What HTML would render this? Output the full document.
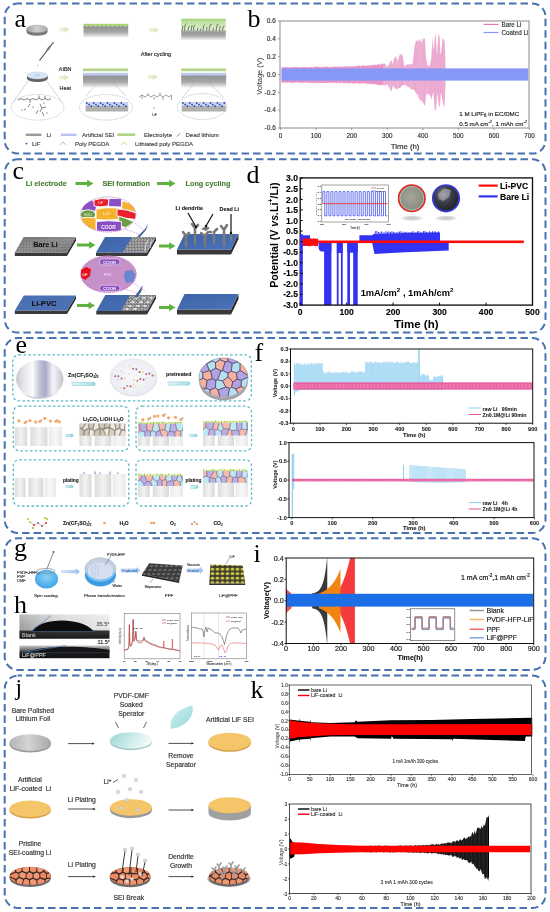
<!DOCTYPE html>
<html><head><meta charset="utf-8"><style>
html,body{margin:0;padding:0;background:#fff;}
svg{display:block;filter:blur(0.3px);}
</style></head><body>
<svg width="550" height="912" viewBox="0 0 550 912">
<rect x="0" y="0" width="550" height="912" fill="#fff"/>
<rect x="4.7" y="3.6" width="540.80" height="150.00" rx="13" ry="13" fill="none" stroke="#4873b0" stroke-width="2" stroke-dasharray="7.5 4" stroke-dashoffset="3.2"/>
<rect x="4.7" y="159.3" width="540.80" height="173.30" rx="13" ry="13" fill="none" stroke="#4873b0" stroke-width="2" stroke-dasharray="7.5 4" stroke-dashoffset="3.2"/>
<rect x="4.7" y="338" width="540.80" height="195.00" rx="13" ry="13" fill="none" stroke="#4873b0" stroke-width="2" stroke-dasharray="7.5 4" stroke-dashoffset="3.2"/>
<rect x="4.7" y="538.2" width="540.80" height="131.70" rx="13" ry="13" fill="none" stroke="#4873b0" stroke-width="2" stroke-dasharray="7.5 4" stroke-dashoffset="3.2"/>
<rect x="4.7" y="675.6" width="540.80" height="232.40" rx="13" ry="13" fill="none" stroke="#4873b0" stroke-width="2" stroke-dasharray="7.5 4" stroke-dashoffset="3.2"/>
<text x="14.50" y="26.50" font-size="26" fill="#000"  text-anchor="start" font-weight="normal" font-family="Liberation Serif, serif" >a</text>
<text x="247.50" y="26.70" font-size="26" fill="#000"  text-anchor="start" font-weight="normal" font-family="Liberation Serif, serif" >b</text>
<text x="12.50" y="179.20" font-size="26" fill="#000"  text-anchor="start" font-weight="normal" font-family="Liberation Serif, serif" >c</text>
<text x="246.50" y="183.30" font-size="26" fill="#000"  text-anchor="start" font-weight="normal" font-family="Liberation Serif, serif" >d</text>
<text x="15.50" y="352.70" font-size="26" fill="#000"  text-anchor="start" font-weight="normal" font-family="Liberation Serif, serif" >e</text>
<text x="254.50" y="361.00" font-size="26" fill="#000"  text-anchor="start" font-weight="normal" font-family="Liberation Serif, serif" >f</text>
<text x="14.00" y="555.50" font-size="26" fill="#000"  text-anchor="start" font-weight="normal" font-family="Liberation Serif, serif" >g</text>
<text x="14.00" y="612.70" font-size="26" fill="#000"  text-anchor="start" font-weight="normal" font-family="Liberation Serif, serif" >h</text>
<text x="253.50" y="561.50" font-size="26" fill="#000"  text-anchor="start" font-weight="normal" font-family="Liberation Serif, serif" >i</text>
<text x="15.50" y="695.00" font-size="23.5" fill="#000"  text-anchor="start" font-weight="normal" font-family="Liberation Serif, serif" >j</text>
<text x="250.50" y="697.50" font-size="26" fill="#000"  text-anchor="start" font-weight="normal" font-family="Liberation Serif, serif" >k</text>
<polygon points="281.57,67.22 281.99,67.05 282.42,67.50 282.85,66.97 283.27,67.39 283.70,67.23 284.13,66.94 284.55,67.35 284.98,66.91 285.41,67.27 285.84,66.93 286.26,66.94 286.69,67.24 287.12,67.61 287.54,66.96 287.97,67.04 288.40,67.41 288.82,67.70 289.25,67.35 289.68,67.18 290.10,67.71 290.53,66.85 290.96,67.59 291.38,67.06 291.81,66.92 292.24,66.89 292.66,67.06 293.09,67.53 293.52,66.93 293.95,67.30 294.37,67.35 294.80,67.10 295.23,67.25 295.65,66.80 296.08,66.79 296.51,66.92 296.93,67.36 297.36,67.12 297.79,67.00 298.21,67.25 298.64,67.12 299.07,66.98 299.49,67.43 299.92,67.34 300.35,66.91 300.77,67.21 301.20,67.16 301.63,67.48 302.06,67.34 302.48,66.92 302.91,67.57 303.34,66.75 303.76,67.03 304.19,67.34 304.62,66.77 305.04,67.08 305.47,66.65 305.90,67.24 306.32,67.33 306.75,67.14 307.18,67.42 307.60,66.88 308.03,67.24 308.46,67.14 308.88,67.12 309.31,67.00 309.74,67.36 310.17,67.45 310.59,67.00 311.02,67.17 311.45,66.59 311.87,67.20 312.30,67.14 312.73,67.47 313.15,67.30 313.58,66.78 314.01,66.87 314.43,67.14 314.86,66.51 315.29,66.93 315.71,66.64 316.14,66.59 316.57,66.53 316.99,67.21 317.42,66.59 317.85,66.71 318.28,66.84 318.70,67.31 319.13,66.54 319.56,66.89 319.98,66.99 320.41,67.31 320.84,67.25 321.26,67.29 321.69,66.72 322.12,66.85 322.54,66.80 322.97,67.30 323.40,67.37 323.82,66.59 324.25,66.61 324.68,66.67 325.10,66.67 325.53,66.91 325.96,67.01 326.39,66.69 326.81,66.44 327.24,66.84 327.67,66.79 328.09,66.98 328.52,67.35 328.95,67.10 329.37,66.92 329.80,67.02 330.23,67.08 330.65,66.47 331.08,67.29 331.51,67.17 331.93,67.26 332.36,67.19 332.79,66.79 333.21,66.80 333.64,66.51 334.07,67.02 334.50,66.47 334.92,66.47 335.35,66.61 335.78,66.56 336.20,66.73 336.63,66.45 337.06,66.40 337.48,66.54 337.91,66.49 338.34,66.75 338.76,66.41 339.19,67.24 339.62,66.98 340.04,66.52 340.47,66.60 340.90,66.67 341.32,66.66 341.75,66.40 342.18,67.09 342.61,67.22 343.03,66.67 343.46,66.66 343.89,66.24 344.31,66.24 344.74,66.45 345.17,66.35 345.59,66.90 346.02,66.20 346.45,66.03 346.87,66.96 347.30,66.50 347.73,66.09 348.15,66.47 348.58,65.92 349.01,66.41 349.43,66.86 349.86,66.71 350.29,66.52 350.72,66.04 351.14,66.13 351.57,65.89 352.00,66.51 352.42,66.23 352.85,66.47 353.28,65.97 353.70,65.83 354.13,66.44 354.56,66.60 354.98,66.44 355.41,66.37 355.84,66.36 356.26,66.25 356.69,65.67 357.12,65.96 357.54,65.76 357.97,65.38 358.40,65.35 358.83,65.61 359.25,65.56 359.68,66.02 360.11,66.29 360.53,65.70 360.96,66.23 361.39,66.26 361.81,66.20 362.24,65.51 362.67,65.33 363.09,65.31 363.52,65.25 363.95,65.24 364.37,65.69 364.80,65.99 365.23,65.90 365.65,65.46 366.08,65.64 366.51,65.78 366.94,64.93 367.36,65.58 367.79,65.85 368.22,65.67 368.64,65.62 369.07,65.27 369.50,64.89 369.92,65.57 370.35,64.99 370.78,65.51 371.20,65.67 371.63,64.94 372.06,64.91 372.48,65.53 372.91,65.22 373.34,64.50 373.76,64.40 374.19,64.39 374.62,65.28 375.05,65.12 375.47,64.25 375.90,65.07 376.33,65.22 376.75,64.77 377.18,64.34 377.61,64.55 378.03,63.98 378.46,63.78 378.89,64.98 379.31,64.52 379.74,64.32 380.17,64.81 380.59,64.12 381.02,64.65 381.45,64.55 381.87,63.70 382.30,63.71 382.73,63.72 383.16,63.61 383.58,64.03 384.01,63.55 384.44,63.72 384.86,63.29 385.29,64.67 385.72,64.65 386.14,65.48 386.57,66.23 387.00,66.72 387.42,66.36 387.85,67.02 388.28,65.87 388.70,65.00 389.13,64.09 389.56,62.58 389.98,62.51 390.41,61.42 390.84,60.42 391.26,61.12 391.69,60.31 392.12,62.09 392.55,63.71 392.97,64.18 393.40,61.82 393.83,60.12 394.25,58.19 394.68,58.15 395.11,56.43 395.53,57.19 395.96,56.24 396.39,56.94 396.81,59.03 397.24,59.53 397.67,60.68 398.09,60.68 398.52,59.29 398.95,56.56 399.37,55.46 399.80,54.97 400.23,54.76 400.66,55.00 401.08,54.16 401.51,54.14 401.94,53.77 402.36,55.64 402.79,56.59 403.22,58.54 403.64,63.52 404.07,65.98 404.50,66.12 404.92,66.38 405.35,66.10 405.78,65.13 406.20,64.94 406.63,65.14 407.06,64.52 407.48,64.55 407.91,64.16 408.34,64.74 408.77,64.77 409.19,64.86 409.62,63.82 410.05,64.49 410.47,64.35 410.90,63.60 411.33,64.52 411.75,64.57 412.18,63.49 412.61,64.42 413.03,61.44 413.46,57.26 413.89,54.31 414.31,50.06 414.74,45.51 415.17,44.19 415.59,42.25 416.02,41.07 416.45,40.38 416.88,40.81 417.30,42.43 417.73,39.38 418.16,41.55 418.58,40.98 419.01,39.10 419.44,40.35 419.86,41.52 420.29,40.92 420.72,38.86 421.14,42.71 421.57,41.74 422.00,42.42 422.42,38.51 422.85,39.08 423.28,37.91 423.70,41.01 424.13,38.58 424.56,37.78 424.99,40.19 425.41,49.30 425.84,56.06 426.27,58.60 426.69,60.49 427.12,63.71 427.55,65.20 427.97,66.33 428.40,65.68 428.83,65.64 429.25,66.32 429.68,66.04 430.11,64.33 430.53,63.03 430.96,60.08 431.39,57.41 431.81,49.43 432.24,46.02 432.67,36.64 433.10,44.39 433.52,49.15 433.95,50.61 434.38,43.92 434.80,38.41 435.23,34.51 435.66,34.53 436.08,39.70 436.51,47.07 436.94,55.43 437.36,51.33 437.79,44.10 438.22,37.87 438.64,34.85 439.07,34.47 439.50,36.41 439.92,43.34 440.35,53.21 440.78,55.30 441.21,52.28 441.63,47.81 442.06,44.06 442.49,38.54 442.91,39.69 443.34,39.19 443.77,37.90 444.19,40.53 444.62,43.78 445.05,49.76 445.47,67.83 445.47,81.35 445.05,96.89 444.62,103.75 444.19,106.23 443.77,106.53 443.34,105.92 442.91,101.87 442.49,101.18 442.06,96.97 441.63,94.90 441.21,92.62 440.78,93.50 440.35,99.79 439.92,107.10 439.50,106.76 439.07,105.67 438.64,101.92 438.22,100.78 437.79,96.53 437.36,92.15 436.94,96.95 436.51,103.25 436.08,107.67 435.66,110.12 435.23,111.08 434.80,110.51 434.38,103.95 433.95,99.04 433.52,92.35 433.10,93.50 432.67,93.75 432.24,95.61 431.81,98.83 431.39,99.64 430.96,96.26 430.53,96.96 430.11,95.60 429.68,95.79 429.25,94.61 428.83,94.18 428.40,93.91 427.97,94.44 427.55,93.50 427.12,94.50 426.69,93.67 426.27,94.52 425.84,97.34 425.41,102.09 424.99,105.89 424.56,105.06 424.13,104.89 423.70,103.14 423.28,102.92 422.85,101.69 422.42,101.60 422.00,100.98 421.57,100.00 421.14,101.24 420.72,101.01 420.29,98.43 419.86,100.65 419.44,98.11 419.01,97.66 418.58,98.70 418.16,95.70 417.73,94.86 417.30,94.88 416.88,93.90 416.45,93.01 416.02,93.91 415.59,92.29 415.17,91.61 414.74,90.41 414.31,90.21 413.89,89.90 413.46,90.12 413.03,89.23 412.61,89.37 412.18,89.08 411.75,89.67 411.33,89.75 410.90,89.27 410.47,88.58 410.05,88.73 409.62,87.20 409.19,87.39 408.77,87.01 408.34,86.75 407.91,86.44 407.48,86.50 407.06,86.99 406.63,85.57 406.20,85.41 405.78,85.53 405.35,85.25 404.92,84.84 404.50,85.39 404.07,84.28 403.64,84.66 403.22,85.22 402.79,85.42 402.36,85.21 401.94,86.40 401.51,86.03 401.08,86.08 400.66,87.27 400.23,87.89 399.80,88.01 399.37,87.77 398.95,87.74 398.52,88.12 398.09,88.19 397.67,89.32 397.24,89.32 396.81,89.25 396.39,88.47 395.96,89.20 395.53,88.24 395.11,88.71 394.68,88.12 394.25,87.28 393.83,86.18 393.40,85.68 392.97,85.23 392.55,87.19 392.12,88.59 391.69,90.46 391.26,91.00 390.84,91.03 390.41,88.83 389.98,89.47 389.56,87.41 389.13,86.85 388.70,87.67 388.28,86.30 387.85,85.11 387.42,84.27 387.00,84.71 386.57,85.11 386.14,85.37 385.72,84.54 385.29,85.71 384.86,85.26 384.44,85.82 384.01,85.25 383.58,84.62 383.16,85.69 382.73,84.71 382.30,85.09 381.87,84.53 381.45,84.74 381.02,85.32 380.59,84.39 380.17,84.89 379.74,85.45 379.31,85.43 378.89,84.74 378.46,84.75 378.03,84.90 377.61,85.06 377.18,84.75 376.75,84.74 376.33,84.03 375.90,85.04 375.47,84.05 375.05,83.90 374.62,84.75 374.19,83.70 373.76,83.92 373.34,83.65 372.91,84.35 372.48,84.20 372.06,84.13 371.63,83.35 371.20,83.80 370.78,84.03 370.35,83.90 369.92,84.04 369.50,84.26 369.07,84.18 368.64,83.30 368.22,83.94 367.79,83.16 367.36,83.95 366.94,83.92 366.51,83.62 366.08,83.99 365.65,83.76 365.23,83.07 364.80,83.14 364.37,83.22 363.95,83.41 363.52,83.07 363.09,83.03 362.67,83.47 362.24,83.26 361.81,84.02 361.39,83.23 360.96,83.54 360.53,83.18 360.11,83.29 359.68,83.69 359.25,83.95 358.83,82.93 358.40,83.83 357.97,83.43 357.54,83.56 357.12,83.60 356.69,83.09 356.26,82.81 355.84,83.60 355.41,83.15 354.98,83.53 354.56,83.23 354.13,83.40 353.70,83.65 353.28,83.64 352.85,83.58 352.42,82.78 352.00,83.23 351.57,83.52 351.14,82.75 350.72,82.64 350.29,83.23 349.86,83.56 349.43,83.49 349.01,83.59 348.58,83.30 348.15,83.57 347.73,83.39 347.30,83.36 346.87,83.00 346.45,82.64 346.02,82.78 345.59,83.14 345.17,83.13 344.74,82.99 344.31,83.14 343.89,83.17 343.46,83.46 343.03,83.21 342.61,82.45 342.18,83.35 341.75,82.93 341.32,82.78 340.90,82.52 340.47,83.20 340.04,83.13 339.62,83.15 339.19,82.99 338.76,82.94 338.34,82.40 337.91,82.51 337.48,82.48 337.06,83.39 336.63,83.38 336.20,82.66 335.78,82.46 335.35,82.91 334.92,82.79 334.50,83.42 334.07,83.00 333.64,82.43 333.21,82.53 332.79,82.50 332.36,82.38 331.93,83.15 331.51,83.30 331.08,83.25 330.65,82.86 330.23,82.69 329.80,82.41 329.37,82.64 328.95,82.72 328.52,82.60 328.09,82.93 327.67,82.83 327.24,83.37 326.81,82.58 326.39,83.17 325.96,82.43 325.53,82.73 325.10,83.09 324.68,83.28 324.25,83.15 323.82,82.74 323.40,82.67 322.97,83.30 322.54,83.34 322.12,82.86 321.69,82.79 321.26,83.00 320.84,83.18 320.41,82.77 319.98,83.41 319.56,83.09 319.13,82.92 318.70,82.39 318.28,82.73 317.85,82.47 317.42,82.91 316.99,83.17 316.57,83.15 316.14,82.39 315.71,82.66 315.29,83.08 314.86,83.38 314.43,82.86 314.01,82.67 313.58,82.94 313.15,83.11 312.73,82.66 312.30,82.38 311.87,83.12 311.45,83.32 311.02,82.99 310.59,82.90 310.17,82.62 309.74,83.13 309.31,82.49 308.88,82.54 308.46,82.78 308.03,83.10 307.60,82.28 307.18,82.97 306.75,82.43 306.32,83.05 305.90,83.05 305.47,82.48 305.04,82.96 304.62,82.27 304.19,82.74 303.76,83.06 303.34,83.02 302.91,82.81 302.48,82.54 302.06,82.24 301.63,83.08 301.20,82.81 300.77,83.00 300.35,82.20 299.92,83.06 299.49,83.15 299.07,83.13 298.64,82.78 298.21,82.25 297.79,82.26 297.36,82.41 296.93,82.13 296.51,82.20 296.08,82.82 295.65,82.96 295.23,82.18 294.80,82.37 294.37,83.10 293.95,82.44 293.52,82.73 293.09,82.73 292.66,82.77 292.24,82.93 291.81,83.10 291.38,82.81 290.96,82.73 290.53,82.10 290.10,82.95 289.68,82.08 289.25,82.86 288.82,82.70 288.40,82.22 287.97,82.21 287.54,82.60 287.12,82.99 286.69,82.55 286.26,82.65 285.84,82.09 285.41,82.82 284.98,82.64 284.55,82.09 284.13,82.97 283.70,82.58 283.27,82.17 282.85,82.21 282.42,82.94 281.99,82.94 281.57,82.91" fill="#e995c6" />
<clipPath id="cb_p"><polygon points="281.57,67.22 281.99,67.05 282.42,67.50 282.85,66.97 283.27,67.39 283.70,67.23 284.13,66.94 284.55,67.35 284.98,66.91 285.41,67.27 285.84,66.93 286.26,66.94 286.69,67.24 287.12,67.61 287.54,66.96 287.97,67.04 288.40,67.41 288.82,67.70 289.25,67.35 289.68,67.18 290.10,67.71 290.53,66.85 290.96,67.59 291.38,67.06 291.81,66.92 292.24,66.89 292.66,67.06 293.09,67.53 293.52,66.93 293.95,67.30 294.37,67.35 294.80,67.10 295.23,67.25 295.65,66.80 296.08,66.79 296.51,66.92 296.93,67.36 297.36,67.12 297.79,67.00 298.21,67.25 298.64,67.12 299.07,66.98 299.49,67.43 299.92,67.34 300.35,66.91 300.77,67.21 301.20,67.16 301.63,67.48 302.06,67.34 302.48,66.92 302.91,67.57 303.34,66.75 303.76,67.03 304.19,67.34 304.62,66.77 305.04,67.08 305.47,66.65 305.90,67.24 306.32,67.33 306.75,67.14 307.18,67.42 307.60,66.88 308.03,67.24 308.46,67.14 308.88,67.12 309.31,67.00 309.74,67.36 310.17,67.45 310.59,67.00 311.02,67.17 311.45,66.59 311.87,67.20 312.30,67.14 312.73,67.47 313.15,67.30 313.58,66.78 314.01,66.87 314.43,67.14 314.86,66.51 315.29,66.93 315.71,66.64 316.14,66.59 316.57,66.53 316.99,67.21 317.42,66.59 317.85,66.71 318.28,66.84 318.70,67.31 319.13,66.54 319.56,66.89 319.98,66.99 320.41,67.31 320.84,67.25 321.26,67.29 321.69,66.72 322.12,66.85 322.54,66.80 322.97,67.30 323.40,67.37 323.82,66.59 324.25,66.61 324.68,66.67 325.10,66.67 325.53,66.91 325.96,67.01 326.39,66.69 326.81,66.44 327.24,66.84 327.67,66.79 328.09,66.98 328.52,67.35 328.95,67.10 329.37,66.92 329.80,67.02 330.23,67.08 330.65,66.47 331.08,67.29 331.51,67.17 331.93,67.26 332.36,67.19 332.79,66.79 333.21,66.80 333.64,66.51 334.07,67.02 334.50,66.47 334.92,66.47 335.35,66.61 335.78,66.56 336.20,66.73 336.63,66.45 337.06,66.40 337.48,66.54 337.91,66.49 338.34,66.75 338.76,66.41 339.19,67.24 339.62,66.98 340.04,66.52 340.47,66.60 340.90,66.67 341.32,66.66 341.75,66.40 342.18,67.09 342.61,67.22 343.03,66.67 343.46,66.66 343.89,66.24 344.31,66.24 344.74,66.45 345.17,66.35 345.59,66.90 346.02,66.20 346.45,66.03 346.87,66.96 347.30,66.50 347.73,66.09 348.15,66.47 348.58,65.92 349.01,66.41 349.43,66.86 349.86,66.71 350.29,66.52 350.72,66.04 351.14,66.13 351.57,65.89 352.00,66.51 352.42,66.23 352.85,66.47 353.28,65.97 353.70,65.83 354.13,66.44 354.56,66.60 354.98,66.44 355.41,66.37 355.84,66.36 356.26,66.25 356.69,65.67 357.12,65.96 357.54,65.76 357.97,65.38 358.40,65.35 358.83,65.61 359.25,65.56 359.68,66.02 360.11,66.29 360.53,65.70 360.96,66.23 361.39,66.26 361.81,66.20 362.24,65.51 362.67,65.33 363.09,65.31 363.52,65.25 363.95,65.24 364.37,65.69 364.80,65.99 365.23,65.90 365.65,65.46 366.08,65.64 366.51,65.78 366.94,64.93 367.36,65.58 367.79,65.85 368.22,65.67 368.64,65.62 369.07,65.27 369.50,64.89 369.92,65.57 370.35,64.99 370.78,65.51 371.20,65.67 371.63,64.94 372.06,64.91 372.48,65.53 372.91,65.22 373.34,64.50 373.76,64.40 374.19,64.39 374.62,65.28 375.05,65.12 375.47,64.25 375.90,65.07 376.33,65.22 376.75,64.77 377.18,64.34 377.61,64.55 378.03,63.98 378.46,63.78 378.89,64.98 379.31,64.52 379.74,64.32 380.17,64.81 380.59,64.12 381.02,64.65 381.45,64.55 381.87,63.70 382.30,63.71 382.73,63.72 383.16,63.61 383.58,64.03 384.01,63.55 384.44,63.72 384.86,63.29 385.29,64.67 385.72,64.65 386.14,65.48 386.57,66.23 387.00,66.72 387.42,66.36 387.85,67.02 388.28,65.87 388.70,65.00 389.13,64.09 389.56,62.58 389.98,62.51 390.41,61.42 390.84,60.42 391.26,61.12 391.69,60.31 392.12,62.09 392.55,63.71 392.97,64.18 393.40,61.82 393.83,60.12 394.25,58.19 394.68,58.15 395.11,56.43 395.53,57.19 395.96,56.24 396.39,56.94 396.81,59.03 397.24,59.53 397.67,60.68 398.09,60.68 398.52,59.29 398.95,56.56 399.37,55.46 399.80,54.97 400.23,54.76 400.66,55.00 401.08,54.16 401.51,54.14 401.94,53.77 402.36,55.64 402.79,56.59 403.22,58.54 403.64,63.52 404.07,65.98 404.50,66.12 404.92,66.38 405.35,66.10 405.78,65.13 406.20,64.94 406.63,65.14 407.06,64.52 407.48,64.55 407.91,64.16 408.34,64.74 408.77,64.77 409.19,64.86 409.62,63.82 410.05,64.49 410.47,64.35 410.90,63.60 411.33,64.52 411.75,64.57 412.18,63.49 412.61,64.42 413.03,61.44 413.46,57.26 413.89,54.31 414.31,50.06 414.74,45.51 415.17,44.19 415.59,42.25 416.02,41.07 416.45,40.38 416.88,40.81 417.30,42.43 417.73,39.38 418.16,41.55 418.58,40.98 419.01,39.10 419.44,40.35 419.86,41.52 420.29,40.92 420.72,38.86 421.14,42.71 421.57,41.74 422.00,42.42 422.42,38.51 422.85,39.08 423.28,37.91 423.70,41.01 424.13,38.58 424.56,37.78 424.99,40.19 425.41,49.30 425.84,56.06 426.27,58.60 426.69,60.49 427.12,63.71 427.55,65.20 427.97,66.33 428.40,65.68 428.83,65.64 429.25,66.32 429.68,66.04 430.11,64.33 430.53,63.03 430.96,60.08 431.39,57.41 431.81,49.43 432.24,46.02 432.67,36.64 433.10,44.39 433.52,49.15 433.95,50.61 434.38,43.92 434.80,38.41 435.23,34.51 435.66,34.53 436.08,39.70 436.51,47.07 436.94,55.43 437.36,51.33 437.79,44.10 438.22,37.87 438.64,34.85 439.07,34.47 439.50,36.41 439.92,43.34 440.35,53.21 440.78,55.30 441.21,52.28 441.63,47.81 442.06,44.06 442.49,38.54 442.91,39.69 443.34,39.19 443.77,37.90 444.19,40.53 444.62,43.78 445.05,49.76 445.47,67.83 445.47,81.35 445.05,96.89 444.62,103.75 444.19,106.23 443.77,106.53 443.34,105.92 442.91,101.87 442.49,101.18 442.06,96.97 441.63,94.90 441.21,92.62 440.78,93.50 440.35,99.79 439.92,107.10 439.50,106.76 439.07,105.67 438.64,101.92 438.22,100.78 437.79,96.53 437.36,92.15 436.94,96.95 436.51,103.25 436.08,107.67 435.66,110.12 435.23,111.08 434.80,110.51 434.38,103.95 433.95,99.04 433.52,92.35 433.10,93.50 432.67,93.75 432.24,95.61 431.81,98.83 431.39,99.64 430.96,96.26 430.53,96.96 430.11,95.60 429.68,95.79 429.25,94.61 428.83,94.18 428.40,93.91 427.97,94.44 427.55,93.50 427.12,94.50 426.69,93.67 426.27,94.52 425.84,97.34 425.41,102.09 424.99,105.89 424.56,105.06 424.13,104.89 423.70,103.14 423.28,102.92 422.85,101.69 422.42,101.60 422.00,100.98 421.57,100.00 421.14,101.24 420.72,101.01 420.29,98.43 419.86,100.65 419.44,98.11 419.01,97.66 418.58,98.70 418.16,95.70 417.73,94.86 417.30,94.88 416.88,93.90 416.45,93.01 416.02,93.91 415.59,92.29 415.17,91.61 414.74,90.41 414.31,90.21 413.89,89.90 413.46,90.12 413.03,89.23 412.61,89.37 412.18,89.08 411.75,89.67 411.33,89.75 410.90,89.27 410.47,88.58 410.05,88.73 409.62,87.20 409.19,87.39 408.77,87.01 408.34,86.75 407.91,86.44 407.48,86.50 407.06,86.99 406.63,85.57 406.20,85.41 405.78,85.53 405.35,85.25 404.92,84.84 404.50,85.39 404.07,84.28 403.64,84.66 403.22,85.22 402.79,85.42 402.36,85.21 401.94,86.40 401.51,86.03 401.08,86.08 400.66,87.27 400.23,87.89 399.80,88.01 399.37,87.77 398.95,87.74 398.52,88.12 398.09,88.19 397.67,89.32 397.24,89.32 396.81,89.25 396.39,88.47 395.96,89.20 395.53,88.24 395.11,88.71 394.68,88.12 394.25,87.28 393.83,86.18 393.40,85.68 392.97,85.23 392.55,87.19 392.12,88.59 391.69,90.46 391.26,91.00 390.84,91.03 390.41,88.83 389.98,89.47 389.56,87.41 389.13,86.85 388.70,87.67 388.28,86.30 387.85,85.11 387.42,84.27 387.00,84.71 386.57,85.11 386.14,85.37 385.72,84.54 385.29,85.71 384.86,85.26 384.44,85.82 384.01,85.25 383.58,84.62 383.16,85.69 382.73,84.71 382.30,85.09 381.87,84.53 381.45,84.74 381.02,85.32 380.59,84.39 380.17,84.89 379.74,85.45 379.31,85.43 378.89,84.74 378.46,84.75 378.03,84.90 377.61,85.06 377.18,84.75 376.75,84.74 376.33,84.03 375.90,85.04 375.47,84.05 375.05,83.90 374.62,84.75 374.19,83.70 373.76,83.92 373.34,83.65 372.91,84.35 372.48,84.20 372.06,84.13 371.63,83.35 371.20,83.80 370.78,84.03 370.35,83.90 369.92,84.04 369.50,84.26 369.07,84.18 368.64,83.30 368.22,83.94 367.79,83.16 367.36,83.95 366.94,83.92 366.51,83.62 366.08,83.99 365.65,83.76 365.23,83.07 364.80,83.14 364.37,83.22 363.95,83.41 363.52,83.07 363.09,83.03 362.67,83.47 362.24,83.26 361.81,84.02 361.39,83.23 360.96,83.54 360.53,83.18 360.11,83.29 359.68,83.69 359.25,83.95 358.83,82.93 358.40,83.83 357.97,83.43 357.54,83.56 357.12,83.60 356.69,83.09 356.26,82.81 355.84,83.60 355.41,83.15 354.98,83.53 354.56,83.23 354.13,83.40 353.70,83.65 353.28,83.64 352.85,83.58 352.42,82.78 352.00,83.23 351.57,83.52 351.14,82.75 350.72,82.64 350.29,83.23 349.86,83.56 349.43,83.49 349.01,83.59 348.58,83.30 348.15,83.57 347.73,83.39 347.30,83.36 346.87,83.00 346.45,82.64 346.02,82.78 345.59,83.14 345.17,83.13 344.74,82.99 344.31,83.14 343.89,83.17 343.46,83.46 343.03,83.21 342.61,82.45 342.18,83.35 341.75,82.93 341.32,82.78 340.90,82.52 340.47,83.20 340.04,83.13 339.62,83.15 339.19,82.99 338.76,82.94 338.34,82.40 337.91,82.51 337.48,82.48 337.06,83.39 336.63,83.38 336.20,82.66 335.78,82.46 335.35,82.91 334.92,82.79 334.50,83.42 334.07,83.00 333.64,82.43 333.21,82.53 332.79,82.50 332.36,82.38 331.93,83.15 331.51,83.30 331.08,83.25 330.65,82.86 330.23,82.69 329.80,82.41 329.37,82.64 328.95,82.72 328.52,82.60 328.09,82.93 327.67,82.83 327.24,83.37 326.81,82.58 326.39,83.17 325.96,82.43 325.53,82.73 325.10,83.09 324.68,83.28 324.25,83.15 323.82,82.74 323.40,82.67 322.97,83.30 322.54,83.34 322.12,82.86 321.69,82.79 321.26,83.00 320.84,83.18 320.41,82.77 319.98,83.41 319.56,83.09 319.13,82.92 318.70,82.39 318.28,82.73 317.85,82.47 317.42,82.91 316.99,83.17 316.57,83.15 316.14,82.39 315.71,82.66 315.29,83.08 314.86,83.38 314.43,82.86 314.01,82.67 313.58,82.94 313.15,83.11 312.73,82.66 312.30,82.38 311.87,83.12 311.45,83.32 311.02,82.99 310.59,82.90 310.17,82.62 309.74,83.13 309.31,82.49 308.88,82.54 308.46,82.78 308.03,83.10 307.60,82.28 307.18,82.97 306.75,82.43 306.32,83.05 305.90,83.05 305.47,82.48 305.04,82.96 304.62,82.27 304.19,82.74 303.76,83.06 303.34,83.02 302.91,82.81 302.48,82.54 302.06,82.24 301.63,83.08 301.20,82.81 300.77,83.00 300.35,82.20 299.92,83.06 299.49,83.15 299.07,83.13 298.64,82.78 298.21,82.25 297.79,82.26 297.36,82.41 296.93,82.13 296.51,82.20 296.08,82.82 295.65,82.96 295.23,82.18 294.80,82.37 294.37,83.10 293.95,82.44 293.52,82.73 293.09,82.73 292.66,82.77 292.24,82.93 291.81,83.10 291.38,82.81 290.96,82.73 290.53,82.10 290.10,82.95 289.68,82.08 289.25,82.86 288.82,82.70 288.40,82.22 287.97,82.21 287.54,82.60 287.12,82.99 286.69,82.55 286.26,82.65 285.84,82.09 285.41,82.82 284.98,82.64 284.55,82.09 284.13,82.97 283.70,82.58 283.27,82.17 282.85,82.21 282.42,82.94 281.99,82.94 281.57,82.91"/></clipPath><g clip-path="url(#cb_p)">
<line x1="383.65" y1="29.9" x2="383.65" y2="119.1" stroke="#fff" stroke-width="0.25" stroke-opacity="0.67"/>
<line x1="384.12" y1="29.9" x2="384.12" y2="119.1" stroke="#fff" stroke-width="0.25" stroke-opacity="0.40"/>
<line x1="384.58" y1="29.9" x2="384.58" y2="119.1" stroke="#fff" stroke-width="0.25" stroke-opacity="0.60"/>
<line x1="385.04" y1="29.9" x2="385.04" y2="119.1" stroke="#fff" stroke-width="0.25" stroke-opacity="0.66"/>
<line x1="385.50" y1="29.9" x2="385.50" y2="119.1" stroke="#fff" stroke-width="0.25" stroke-opacity="0.44"/>
<line x1="385.97" y1="29.9" x2="385.97" y2="119.1" stroke="#fff" stroke-width="0.25" stroke-opacity="0.41"/>
<line x1="386.43" y1="29.9" x2="386.43" y2="119.1" stroke="#fff" stroke-width="0.25" stroke-opacity="0.68"/>
<line x1="386.89" y1="29.9" x2="386.89" y2="119.1" stroke="#fff" stroke-width="0.25" stroke-opacity="0.55"/>
<line x1="387.35" y1="29.9" x2="387.35" y2="119.1" stroke="#fff" stroke-width="0.25" stroke-opacity="0.40"/>
<line x1="387.81" y1="29.9" x2="387.81" y2="119.1" stroke="#fff" stroke-width="0.25" stroke-opacity="0.59"/>
<line x1="388.28" y1="29.9" x2="388.28" y2="119.1" stroke="#fff" stroke-width="0.25" stroke-opacity="0.43"/>
<line x1="388.74" y1="29.9" x2="388.74" y2="119.1" stroke="#fff" stroke-width="0.25" stroke-opacity="0.41"/>
<line x1="389.20" y1="29.9" x2="389.20" y2="119.1" stroke="#fff" stroke-width="0.25" stroke-opacity="0.30"/>
<line x1="389.66" y1="29.9" x2="389.66" y2="119.1" stroke="#fff" stroke-width="0.25" stroke-opacity="0.60"/>
<line x1="390.13" y1="29.9" x2="390.13" y2="119.1" stroke="#fff" stroke-width="0.25" stroke-opacity="0.67"/>
<line x1="390.59" y1="29.9" x2="390.59" y2="119.1" stroke="#fff" stroke-width="0.25" stroke-opacity="0.55"/>
<line x1="391.05" y1="29.9" x2="391.05" y2="119.1" stroke="#fff" stroke-width="0.25" stroke-opacity="0.68"/>
<line x1="391.51" y1="29.9" x2="391.51" y2="119.1" stroke="#fff" stroke-width="0.25" stroke-opacity="0.31"/>
<line x1="391.98" y1="29.9" x2="391.98" y2="119.1" stroke="#fff" stroke-width="0.25" stroke-opacity="0.39"/>
<line x1="392.44" y1="29.9" x2="392.44" y2="119.1" stroke="#fff" stroke-width="0.25" stroke-opacity="0.49"/>
<line x1="392.90" y1="29.9" x2="392.90" y2="119.1" stroke="#fff" stroke-width="0.25" stroke-opacity="0.68"/>
<line x1="393.36" y1="29.9" x2="393.36" y2="119.1" stroke="#fff" stroke-width="0.25" stroke-opacity="0.68"/>
<line x1="393.83" y1="29.9" x2="393.83" y2="119.1" stroke="#fff" stroke-width="0.25" stroke-opacity="0.45"/>
<line x1="394.29" y1="29.9" x2="394.29" y2="119.1" stroke="#fff" stroke-width="0.25" stroke-opacity="0.40"/>
<line x1="394.75" y1="29.9" x2="394.75" y2="119.1" stroke="#fff" stroke-width="0.25" stroke-opacity="0.47"/>
<line x1="395.21" y1="29.9" x2="395.21" y2="119.1" stroke="#fff" stroke-width="0.25" stroke-opacity="0.50"/>
<line x1="395.68" y1="29.9" x2="395.68" y2="119.1" stroke="#fff" stroke-width="0.25" stroke-opacity="0.67"/>
<line x1="396.14" y1="29.9" x2="396.14" y2="119.1" stroke="#fff" stroke-width="0.25" stroke-opacity="0.37"/>
<line x1="396.60" y1="29.9" x2="396.60" y2="119.1" stroke="#fff" stroke-width="0.25" stroke-opacity="0.62"/>
<line x1="397.06" y1="29.9" x2="397.06" y2="119.1" stroke="#fff" stroke-width="0.25" stroke-opacity="0.60"/>
<line x1="397.53" y1="29.9" x2="397.53" y2="119.1" stroke="#fff" stroke-width="0.25" stroke-opacity="0.63"/>
<line x1="397.99" y1="29.9" x2="397.99" y2="119.1" stroke="#fff" stroke-width="0.25" stroke-opacity="0.61"/>
<line x1="398.45" y1="29.9" x2="398.45" y2="119.1" stroke="#fff" stroke-width="0.25" stroke-opacity="0.54"/>
<line x1="398.91" y1="29.9" x2="398.91" y2="119.1" stroke="#fff" stroke-width="0.25" stroke-opacity="0.43"/>
<line x1="399.37" y1="29.9" x2="399.37" y2="119.1" stroke="#fff" stroke-width="0.25" stroke-opacity="0.43"/>
<line x1="399.84" y1="29.9" x2="399.84" y2="119.1" stroke="#fff" stroke-width="0.25" stroke-opacity="0.44"/>
<line x1="400.30" y1="29.9" x2="400.30" y2="119.1" stroke="#fff" stroke-width="0.25" stroke-opacity="0.61"/>
<line x1="400.76" y1="29.9" x2="400.76" y2="119.1" stroke="#fff" stroke-width="0.25" stroke-opacity="0.33"/>
<line x1="401.22" y1="29.9" x2="401.22" y2="119.1" stroke="#fff" stroke-width="0.25" stroke-opacity="0.38"/>
<line x1="401.69" y1="29.9" x2="401.69" y2="119.1" stroke="#fff" stroke-width="0.25" stroke-opacity="0.60"/>
<line x1="402.15" y1="29.9" x2="402.15" y2="119.1" stroke="#fff" stroke-width="0.25" stroke-opacity="0.40"/>
<line x1="402.61" y1="29.9" x2="402.61" y2="119.1" stroke="#fff" stroke-width="0.25" stroke-opacity="0.33"/>
<line x1="403.07" y1="29.9" x2="403.07" y2="119.1" stroke="#fff" stroke-width="0.25" stroke-opacity="0.31"/>
<line x1="403.54" y1="29.9" x2="403.54" y2="119.1" stroke="#fff" stroke-width="0.25" stroke-opacity="0.52"/>
<line x1="404.00" y1="29.9" x2="404.00" y2="119.1" stroke="#fff" stroke-width="0.25" stroke-opacity="0.43"/>
<line x1="404.46" y1="29.9" x2="404.46" y2="119.1" stroke="#fff" stroke-width="0.25" stroke-opacity="0.69"/>
<line x1="404.92" y1="29.9" x2="404.92" y2="119.1" stroke="#fff" stroke-width="0.25" stroke-opacity="0.65"/>
<line x1="405.39" y1="29.9" x2="405.39" y2="119.1" stroke="#fff" stroke-width="0.25" stroke-opacity="0.70"/>
<line x1="405.85" y1="29.9" x2="405.85" y2="119.1" stroke="#fff" stroke-width="0.25" stroke-opacity="0.41"/>
<line x1="406.31" y1="29.9" x2="406.31" y2="119.1" stroke="#fff" stroke-width="0.25" stroke-opacity="0.33"/>
<line x1="406.77" y1="29.9" x2="406.77" y2="119.1" stroke="#fff" stroke-width="0.25" stroke-opacity="0.34"/>
<line x1="407.24" y1="29.9" x2="407.24" y2="119.1" stroke="#fff" stroke-width="0.25" stroke-opacity="0.50"/>
<line x1="407.70" y1="29.9" x2="407.70" y2="119.1" stroke="#fff" stroke-width="0.25" stroke-opacity="0.58"/>
<line x1="408.16" y1="29.9" x2="408.16" y2="119.1" stroke="#fff" stroke-width="0.25" stroke-opacity="0.48"/>
<line x1="408.62" y1="29.9" x2="408.62" y2="119.1" stroke="#fff" stroke-width="0.25" stroke-opacity="0.39"/>
<line x1="409.09" y1="29.9" x2="409.09" y2="119.1" stroke="#fff" stroke-width="0.25" stroke-opacity="0.47"/>
<line x1="409.55" y1="29.9" x2="409.55" y2="119.1" stroke="#fff" stroke-width="0.25" stroke-opacity="0.55"/>
<line x1="410.01" y1="29.9" x2="410.01" y2="119.1" stroke="#fff" stroke-width="0.25" stroke-opacity="0.57"/>
<line x1="410.47" y1="29.9" x2="410.47" y2="119.1" stroke="#fff" stroke-width="0.25" stroke-opacity="0.60"/>
<line x1="410.94" y1="29.9" x2="410.94" y2="119.1" stroke="#fff" stroke-width="0.25" stroke-opacity="0.64"/>
<line x1="411.40" y1="29.9" x2="411.40" y2="119.1" stroke="#fff" stroke-width="0.25" stroke-opacity="0.57"/>
<line x1="411.86" y1="29.9" x2="411.86" y2="119.1" stroke="#fff" stroke-width="0.25" stroke-opacity="0.35"/>
<line x1="412.32" y1="29.9" x2="412.32" y2="119.1" stroke="#fff" stroke-width="0.25" stroke-opacity="0.64"/>
<line x1="412.78" y1="29.9" x2="412.78" y2="119.1" stroke="#fff" stroke-width="0.25" stroke-opacity="0.42"/>
<line x1="413.25" y1="29.9" x2="413.25" y2="119.1" stroke="#fff" stroke-width="0.25" stroke-opacity="0.53"/>
<line x1="413.71" y1="29.9" x2="413.71" y2="119.1" stroke="#fff" stroke-width="0.25" stroke-opacity="0.45"/>
<line x1="414.17" y1="29.9" x2="414.17" y2="119.1" stroke="#fff" stroke-width="0.25" stroke-opacity="0.60"/>
<line x1="414.63" y1="29.9" x2="414.63" y2="119.1" stroke="#fff" stroke-width="0.25" stroke-opacity="0.38"/>
<line x1="415.10" y1="29.9" x2="415.10" y2="119.1" stroke="#fff" stroke-width="0.25" stroke-opacity="0.40"/>
<line x1="415.56" y1="29.9" x2="415.56" y2="119.1" stroke="#fff" stroke-width="0.25" stroke-opacity="0.40"/>
<line x1="416.02" y1="29.9" x2="416.02" y2="119.1" stroke="#fff" stroke-width="0.25" stroke-opacity="0.36"/>
<line x1="416.48" y1="29.9" x2="416.48" y2="119.1" stroke="#fff" stroke-width="0.25" stroke-opacity="0.65"/>
<line x1="416.95" y1="29.9" x2="416.95" y2="119.1" stroke="#fff" stroke-width="0.25" stroke-opacity="0.53"/>
<line x1="417.41" y1="29.9" x2="417.41" y2="119.1" stroke="#fff" stroke-width="0.25" stroke-opacity="0.43"/>
<line x1="417.87" y1="29.9" x2="417.87" y2="119.1" stroke="#fff" stroke-width="0.25" stroke-opacity="0.46"/>
<line x1="418.33" y1="29.9" x2="418.33" y2="119.1" stroke="#fff" stroke-width="0.25" stroke-opacity="0.70"/>
<line x1="418.80" y1="29.9" x2="418.80" y2="119.1" stroke="#fff" stroke-width="0.25" stroke-opacity="0.50"/>
<line x1="419.26" y1="29.9" x2="419.26" y2="119.1" stroke="#fff" stroke-width="0.25" stroke-opacity="0.39"/>
<line x1="419.72" y1="29.9" x2="419.72" y2="119.1" stroke="#fff" stroke-width="0.25" stroke-opacity="0.62"/>
<line x1="420.18" y1="29.9" x2="420.18" y2="119.1" stroke="#fff" stroke-width="0.25" stroke-opacity="0.56"/>
<line x1="420.65" y1="29.9" x2="420.65" y2="119.1" stroke="#fff" stroke-width="0.25" stroke-opacity="0.70"/>
<line x1="421.11" y1="29.9" x2="421.11" y2="119.1" stroke="#fff" stroke-width="0.25" stroke-opacity="0.34"/>
<line x1="421.57" y1="29.9" x2="421.57" y2="119.1" stroke="#fff" stroke-width="0.25" stroke-opacity="0.49"/>
<line x1="422.03" y1="29.9" x2="422.03" y2="119.1" stroke="#fff" stroke-width="0.25" stroke-opacity="0.63"/>
<line x1="422.50" y1="29.9" x2="422.50" y2="119.1" stroke="#fff" stroke-width="0.25" stroke-opacity="0.64"/>
<line x1="422.96" y1="29.9" x2="422.96" y2="119.1" stroke="#fff" stroke-width="0.25" stroke-opacity="0.67"/>
<line x1="423.42" y1="29.9" x2="423.42" y2="119.1" stroke="#fff" stroke-width="0.25" stroke-opacity="0.32"/>
<line x1="423.88" y1="29.9" x2="423.88" y2="119.1" stroke="#fff" stroke-width="0.25" stroke-opacity="0.42"/>
<line x1="424.35" y1="29.9" x2="424.35" y2="119.1" stroke="#fff" stroke-width="0.25" stroke-opacity="0.35"/>
<line x1="424.81" y1="29.9" x2="424.81" y2="119.1" stroke="#fff" stroke-width="0.25" stroke-opacity="0.38"/>
<line x1="425.27" y1="29.9" x2="425.27" y2="119.1" stroke="#fff" stroke-width="0.25" stroke-opacity="0.69"/>
<line x1="425.73" y1="29.9" x2="425.73" y2="119.1" stroke="#fff" stroke-width="0.25" stroke-opacity="0.53"/>
<line x1="426.19" y1="29.9" x2="426.19" y2="119.1" stroke="#fff" stroke-width="0.25" stroke-opacity="0.67"/>
<line x1="426.66" y1="29.9" x2="426.66" y2="119.1" stroke="#fff" stroke-width="0.25" stroke-opacity="0.45"/>
<line x1="427.12" y1="29.9" x2="427.12" y2="119.1" stroke="#fff" stroke-width="0.25" stroke-opacity="0.65"/>
<line x1="427.58" y1="29.9" x2="427.58" y2="119.1" stroke="#fff" stroke-width="0.25" stroke-opacity="0.48"/>
<line x1="428.04" y1="29.9" x2="428.04" y2="119.1" stroke="#fff" stroke-width="0.25" stroke-opacity="0.40"/>
<line x1="428.51" y1="29.9" x2="428.51" y2="119.1" stroke="#fff" stroke-width="0.25" stroke-opacity="0.61"/>
<line x1="428.97" y1="29.9" x2="428.97" y2="119.1" stroke="#fff" stroke-width="0.25" stroke-opacity="0.68"/>
<line x1="429.43" y1="29.9" x2="429.43" y2="119.1" stroke="#fff" stroke-width="0.25" stroke-opacity="0.34"/>
<line x1="429.89" y1="29.9" x2="429.89" y2="119.1" stroke="#fff" stroke-width="0.25" stroke-opacity="0.54"/>
<line x1="430.36" y1="29.9" x2="430.36" y2="119.1" stroke="#fff" stroke-width="0.25" stroke-opacity="0.55"/>
<line x1="430.82" y1="29.9" x2="430.82" y2="119.1" stroke="#fff" stroke-width="0.25" stroke-opacity="0.39"/>
<line x1="431.28" y1="29.9" x2="431.28" y2="119.1" stroke="#fff" stroke-width="0.25" stroke-opacity="0.45"/>
<line x1="431.74" y1="29.9" x2="431.74" y2="119.1" stroke="#fff" stroke-width="0.25" stroke-opacity="0.36"/>
<line x1="432.21" y1="29.9" x2="432.21" y2="119.1" stroke="#fff" stroke-width="0.25" stroke-opacity="0.38"/>
<line x1="432.67" y1="29.9" x2="432.67" y2="119.1" stroke="#fff" stroke-width="0.25" stroke-opacity="0.40"/>
<line x1="433.13" y1="29.9" x2="433.13" y2="119.1" stroke="#fff" stroke-width="0.25" stroke-opacity="0.54"/>
<line x1="433.59" y1="29.9" x2="433.59" y2="119.1" stroke="#fff" stroke-width="0.25" stroke-opacity="0.56"/>
<line x1="434.06" y1="29.9" x2="434.06" y2="119.1" stroke="#fff" stroke-width="0.25" stroke-opacity="0.38"/>
<line x1="434.52" y1="29.9" x2="434.52" y2="119.1" stroke="#fff" stroke-width="0.25" stroke-opacity="0.30"/>
<line x1="434.98" y1="29.9" x2="434.98" y2="119.1" stroke="#fff" stroke-width="0.25" stroke-opacity="0.43"/>
<line x1="435.44" y1="29.9" x2="435.44" y2="119.1" stroke="#fff" stroke-width="0.25" stroke-opacity="0.57"/>
<line x1="435.91" y1="29.9" x2="435.91" y2="119.1" stroke="#fff" stroke-width="0.25" stroke-opacity="0.37"/>
<line x1="436.37" y1="29.9" x2="436.37" y2="119.1" stroke="#fff" stroke-width="0.25" stroke-opacity="0.42"/>
<line x1="436.83" y1="29.9" x2="436.83" y2="119.1" stroke="#fff" stroke-width="0.25" stroke-opacity="0.38"/>
<line x1="437.29" y1="29.9" x2="437.29" y2="119.1" stroke="#fff" stroke-width="0.25" stroke-opacity="0.62"/>
<line x1="437.75" y1="29.9" x2="437.75" y2="119.1" stroke="#fff" stroke-width="0.25" stroke-opacity="0.52"/>
<line x1="438.22" y1="29.9" x2="438.22" y2="119.1" stroke="#fff" stroke-width="0.25" stroke-opacity="0.33"/>
<line x1="438.68" y1="29.9" x2="438.68" y2="119.1" stroke="#fff" stroke-width="0.25" stroke-opacity="0.34"/>
<line x1="439.14" y1="29.9" x2="439.14" y2="119.1" stroke="#fff" stroke-width="0.25" stroke-opacity="0.46"/>
<line x1="439.60" y1="29.9" x2="439.60" y2="119.1" stroke="#fff" stroke-width="0.25" stroke-opacity="0.52"/>
<line x1="440.07" y1="29.9" x2="440.07" y2="119.1" stroke="#fff" stroke-width="0.25" stroke-opacity="0.56"/>
<line x1="440.53" y1="29.9" x2="440.53" y2="119.1" stroke="#fff" stroke-width="0.25" stroke-opacity="0.34"/>
<line x1="440.99" y1="29.9" x2="440.99" y2="119.1" stroke="#fff" stroke-width="0.25" stroke-opacity="0.37"/>
<line x1="441.45" y1="29.9" x2="441.45" y2="119.1" stroke="#fff" stroke-width="0.25" stroke-opacity="0.58"/>
<line x1="441.92" y1="29.9" x2="441.92" y2="119.1" stroke="#fff" stroke-width="0.25" stroke-opacity="0.46"/>
<line x1="442.38" y1="29.9" x2="442.38" y2="119.1" stroke="#fff" stroke-width="0.25" stroke-opacity="0.41"/>
<line x1="442.84" y1="29.9" x2="442.84" y2="119.1" stroke="#fff" stroke-width="0.25" stroke-opacity="0.42"/>
<line x1="443.30" y1="29.9" x2="443.30" y2="119.1" stroke="#fff" stroke-width="0.25" stroke-opacity="0.68"/>
<line x1="443.77" y1="29.9" x2="443.77" y2="119.1" stroke="#fff" stroke-width="0.25" stroke-opacity="0.42"/>
<line x1="444.23" y1="29.9" x2="444.23" y2="119.1" stroke="#fff" stroke-width="0.25" stroke-opacity="0.53"/>
<line x1="444.69" y1="29.9" x2="444.69" y2="119.1" stroke="#fff" stroke-width="0.25" stroke-opacity="0.44"/>
<line x1="445.15" y1="29.9" x2="445.15" y2="119.1" stroke="#fff" stroke-width="0.25" stroke-opacity="0.47"/>
</g>
<line x1="369.4" y1="47.7" x2="369.4" y2="101.3" stroke="#fff" stroke-opacity="0.0" stroke-width="0.5"/>
<line x1="370.5" y1="47.7" x2="370.5" y2="101.3" stroke="#fff" stroke-opacity="0.0" stroke-width="0.5"/>
<line x1="371.6" y1="47.7" x2="371.6" y2="101.3" stroke="#fff" stroke-opacity="0.0" stroke-width="0.5"/>
<line x1="372.6" y1="47.7" x2="372.6" y2="101.3" stroke="#fff" stroke-opacity="0.0" stroke-width="0.5"/>
<line x1="373.7" y1="47.7" x2="373.7" y2="101.3" stroke="#fff" stroke-opacity="0.0" stroke-width="0.5"/>
<line x1="374.8" y1="47.7" x2="374.8" y2="101.3" stroke="#fff" stroke-opacity="0.0" stroke-width="0.5"/>
<line x1="375.8" y1="47.7" x2="375.8" y2="101.3" stroke="#fff" stroke-opacity="0.0" stroke-width="0.5"/>
<line x1="376.9" y1="47.7" x2="376.9" y2="101.3" stroke="#fff" stroke-opacity="0.0" stroke-width="0.5"/>
<line x1="378.0" y1="47.7" x2="378.0" y2="101.3" stroke="#fff" stroke-opacity="0.0" stroke-width="0.5"/>
<line x1="379.0" y1="47.7" x2="379.0" y2="101.3" stroke="#fff" stroke-opacity="0.0" stroke-width="0.5"/>
<line x1="380.1" y1="47.7" x2="380.1" y2="101.3" stroke="#fff" stroke-opacity="0.0" stroke-width="0.5"/>
<line x1="381.2" y1="47.7" x2="381.2" y2="101.3" stroke="#fff" stroke-opacity="0.0" stroke-width="0.5"/>
<line x1="382.2" y1="47.7" x2="382.2" y2="101.3" stroke="#fff" stroke-opacity="0.0" stroke-width="0.5"/>
<line x1="383.3" y1="47.7" x2="383.3" y2="101.3" stroke="#fff" stroke-opacity="0.0" stroke-width="0.5"/>
<line x1="384.4" y1="47.7" x2="384.4" y2="101.3" stroke="#fff" stroke-opacity="0.0" stroke-width="0.5"/>
<line x1="385.4" y1="47.7" x2="385.4" y2="101.3" stroke="#fff" stroke-opacity="0.0" stroke-width="0.5"/>
<line x1="386.5" y1="47.7" x2="386.5" y2="101.3" stroke="#fff" stroke-opacity="0.0" stroke-width="0.5"/>
<line x1="387.6" y1="47.7" x2="387.6" y2="101.3" stroke="#fff" stroke-opacity="0.0" stroke-width="0.5"/>
<line x1="388.6" y1="47.7" x2="388.6" y2="101.3" stroke="#fff" stroke-opacity="0.0" stroke-width="0.5"/>
<line x1="389.7" y1="47.7" x2="389.7" y2="101.3" stroke="#fff" stroke-opacity="0.0" stroke-width="0.5"/>
<line x1="390.8" y1="47.7" x2="390.8" y2="101.3" stroke="#fff" stroke-opacity="0.0" stroke-width="0.5"/>
<line x1="391.8" y1="47.7" x2="391.8" y2="101.3" stroke="#fff" stroke-opacity="0.0" stroke-width="0.5"/>
<line x1="392.9" y1="47.7" x2="392.9" y2="101.3" stroke="#fff" stroke-opacity="0.0" stroke-width="0.5"/>
<line x1="394.0" y1="47.7" x2="394.0" y2="101.3" stroke="#fff" stroke-opacity="0.0" stroke-width="0.5"/>
<line x1="395.0" y1="47.7" x2="395.0" y2="101.3" stroke="#fff" stroke-opacity="0.0" stroke-width="0.5"/>
<line x1="396.1" y1="47.7" x2="396.1" y2="101.3" stroke="#fff" stroke-opacity="0.0" stroke-width="0.5"/>
<line x1="397.2" y1="47.7" x2="397.2" y2="101.3" stroke="#fff" stroke-opacity="0.0" stroke-width="0.5"/>
<line x1="398.2" y1="47.7" x2="398.2" y2="101.3" stroke="#fff" stroke-opacity="0.0" stroke-width="0.5"/>
<line x1="399.3" y1="47.7" x2="399.3" y2="101.3" stroke="#fff" stroke-opacity="0.0" stroke-width="0.5"/>
<line x1="400.4" y1="47.7" x2="400.4" y2="101.3" stroke="#fff" stroke-opacity="0.0" stroke-width="0.5"/>
<line x1="401.4" y1="47.7" x2="401.4" y2="101.3" stroke="#fff" stroke-opacity="0.0" stroke-width="0.5"/>
<line x1="402.5" y1="47.7" x2="402.5" y2="101.3" stroke="#fff" stroke-opacity="0.0" stroke-width="0.5"/>
<line x1="403.6" y1="47.7" x2="403.6" y2="101.3" stroke="#fff" stroke-opacity="0.0" stroke-width="0.5"/>
<line x1="404.6" y1="47.7" x2="404.6" y2="101.3" stroke="#fff" stroke-opacity="0.0" stroke-width="0.5"/>
<line x1="405.7" y1="47.7" x2="405.7" y2="101.3" stroke="#fff" stroke-opacity="0.0" stroke-width="0.5"/>
<line x1="406.8" y1="47.7" x2="406.8" y2="101.3" stroke="#fff" stroke-opacity="0.0" stroke-width="0.5"/>
<line x1="407.8" y1="47.7" x2="407.8" y2="101.3" stroke="#fff" stroke-opacity="0.0" stroke-width="0.5"/>
<line x1="408.9" y1="47.7" x2="408.9" y2="101.3" stroke="#fff" stroke-opacity="0.0" stroke-width="0.5"/>
<line x1="410.0" y1="47.7" x2="410.0" y2="101.3" stroke="#fff" stroke-opacity="0.0" stroke-width="0.5"/>
<line x1="411.0" y1="47.7" x2="411.0" y2="101.3" stroke="#fff" stroke-opacity="0.0" stroke-width="0.5"/>
<line x1="412.1" y1="47.7" x2="412.1" y2="101.3" stroke="#fff" stroke-opacity="0.0" stroke-width="0.5"/>
<line x1="413.2" y1="47.7" x2="413.2" y2="101.3" stroke="#fff" stroke-opacity="0.0" stroke-width="0.5"/>
<line x1="414.2" y1="47.7" x2="414.2" y2="101.3" stroke="#fff" stroke-opacity="0.0" stroke-width="0.5"/>
<line x1="415.3" y1="47.7" x2="415.3" y2="101.3" stroke="#fff" stroke-opacity="0.0" stroke-width="0.5"/>
<line x1="416.4" y1="47.7" x2="416.4" y2="101.3" stroke="#fff" stroke-opacity="0.0" stroke-width="0.5"/>
<line x1="417.4" y1="47.7" x2="417.4" y2="101.3" stroke="#fff" stroke-opacity="0.0" stroke-width="0.5"/>
<line x1="418.5" y1="47.7" x2="418.5" y2="101.3" stroke="#fff" stroke-opacity="0.0" stroke-width="0.5"/>
<line x1="419.6" y1="47.7" x2="419.6" y2="101.3" stroke="#fff" stroke-opacity="0.0" stroke-width="0.5"/>
<line x1="420.6" y1="47.7" x2="420.6" y2="101.3" stroke="#fff" stroke-opacity="0.0" stroke-width="0.5"/>
<line x1="421.7" y1="47.7" x2="421.7" y2="101.3" stroke="#fff" stroke-opacity="0.0" stroke-width="0.5"/>
<line x1="422.8" y1="47.7" x2="422.8" y2="101.3" stroke="#fff" stroke-opacity="0.0" stroke-width="0.5"/>
<line x1="423.8" y1="47.7" x2="423.8" y2="101.3" stroke="#fff" stroke-opacity="0.0" stroke-width="0.5"/>
<line x1="424.9" y1="47.7" x2="424.9" y2="101.3" stroke="#fff" stroke-opacity="0.0" stroke-width="0.5"/>
<line x1="426.0" y1="47.7" x2="426.0" y2="101.3" stroke="#fff" stroke-opacity="0.0" stroke-width="0.5"/>
<line x1="427.0" y1="47.7" x2="427.0" y2="101.3" stroke="#fff" stroke-opacity="0.0" stroke-width="0.5"/>
<line x1="428.1" y1="47.7" x2="428.1" y2="101.3" stroke="#fff" stroke-opacity="0.0" stroke-width="0.5"/>
<line x1="429.2" y1="47.7" x2="429.2" y2="101.3" stroke="#fff" stroke-opacity="0.0" stroke-width="0.5"/>
<line x1="430.2" y1="47.7" x2="430.2" y2="101.3" stroke="#fff" stroke-opacity="0.0" stroke-width="0.5"/>
<line x1="431.3" y1="47.7" x2="431.3" y2="101.3" stroke="#fff" stroke-opacity="0.0" stroke-width="0.5"/>
<line x1="432.4" y1="47.7" x2="432.4" y2="101.3" stroke="#fff" stroke-opacity="0.0" stroke-width="0.5"/>
<line x1="433.5" y1="47.7" x2="433.5" y2="101.3" stroke="#fff" stroke-opacity="0.0" stroke-width="0.5"/>
<line x1="434.5" y1="47.7" x2="434.5" y2="101.3" stroke="#fff" stroke-opacity="0.0" stroke-width="0.5"/>
<line x1="435.6" y1="47.7" x2="435.6" y2="101.3" stroke="#fff" stroke-opacity="0.0" stroke-width="0.5"/>
<line x1="436.7" y1="47.7" x2="436.7" y2="101.3" stroke="#fff" stroke-opacity="0.0" stroke-width="0.5"/>
<line x1="437.7" y1="47.7" x2="437.7" y2="101.3" stroke="#fff" stroke-opacity="0.0" stroke-width="0.5"/>
<line x1="438.8" y1="47.7" x2="438.8" y2="101.3" stroke="#fff" stroke-opacity="0.0" stroke-width="0.5"/>
<line x1="439.9" y1="47.7" x2="439.9" y2="101.3" stroke="#fff" stroke-opacity="0.0" stroke-width="0.5"/>
<line x1="440.9" y1="47.7" x2="440.9" y2="101.3" stroke="#fff" stroke-opacity="0.0" stroke-width="0.5"/>
<line x1="442.0" y1="47.7" x2="442.0" y2="101.3" stroke="#fff" stroke-opacity="0.0" stroke-width="0.5"/>
<line x1="443.1" y1="47.7" x2="443.1" y2="101.3" stroke="#fff" stroke-opacity="0.0" stroke-width="0.5"/>
<line x1="444.1" y1="47.7" x2="444.1" y2="101.3" stroke="#fff" stroke-opacity="0.0" stroke-width="0.5"/>
<rect x="281.57" y="68.4" width="246.63" height="12.2" fill="#8797f5"/>
<rect x="280.0" y="21.0" width="249.00" height="107.00" fill="none" stroke="#8a8a8a" stroke-width="1"/>
<text x="275.80" y="23.30" font-size="6.5" fill="#333" stroke="#333" stroke-width="0.163" text-anchor="end" font-weight="normal" font-family="Liberation Sans, sans-serif" >0.6</text>
<line x1="278.00" y1="21.00" x2="280.00" y2="21.00" stroke="#8a8a8a" stroke-width="0.8" />
<text x="275.80" y="41.13" font-size="6.5" fill="#333" stroke="#333" stroke-width="0.163" text-anchor="end" font-weight="normal" font-family="Liberation Sans, sans-serif" >0.4</text>
<line x1="278.00" y1="38.83" x2="280.00" y2="38.83" stroke="#8a8a8a" stroke-width="0.8" />
<text x="275.80" y="58.97" font-size="6.5" fill="#333" stroke="#333" stroke-width="0.163" text-anchor="end" font-weight="normal" font-family="Liberation Sans, sans-serif" >0.2</text>
<line x1="278.00" y1="56.67" x2="280.00" y2="56.67" stroke="#8a8a8a" stroke-width="0.8" />
<text x="275.80" y="76.80" font-size="6.5" fill="#333" stroke="#333" stroke-width="0.163" text-anchor="end" font-weight="normal" font-family="Liberation Sans, sans-serif" >0.0</text>
<line x1="278.00" y1="74.50" x2="280.00" y2="74.50" stroke="#8a8a8a" stroke-width="0.8" />
<text x="275.80" y="94.63" font-size="6.5" fill="#333" stroke="#333" stroke-width="0.163" text-anchor="end" font-weight="normal" font-family="Liberation Sans, sans-serif" >-0.2</text>
<line x1="278.00" y1="92.33" x2="280.00" y2="92.33" stroke="#8a8a8a" stroke-width="0.8" />
<text x="275.80" y="112.47" font-size="6.5" fill="#333" stroke="#333" stroke-width="0.163" text-anchor="end" font-weight="normal" font-family="Liberation Sans, sans-serif" >-0.4</text>
<line x1="278.00" y1="110.17" x2="280.00" y2="110.17" stroke="#8a8a8a" stroke-width="0.8" />
<text x="275.80" y="130.30" font-size="6.5" fill="#333" stroke="#333" stroke-width="0.163" text-anchor="end" font-weight="normal" font-family="Liberation Sans, sans-serif" >-0.6</text>
<line x1="278.00" y1="128.00" x2="280.00" y2="128.00" stroke="#8a8a8a" stroke-width="0.8" />
<text x="280.50" y="137.90" font-size="6.3" fill="#333" stroke="#333" stroke-width="0.158" text-anchor="middle" font-weight="normal" font-family="Liberation Sans, sans-serif" >0</text>
<line x1="280.50" y1="128.00" x2="280.50" y2="130.00" stroke="#8a8a8a" stroke-width="0.8" />
<text x="316.07" y="137.90" font-size="6.3" fill="#333" stroke="#333" stroke-width="0.158" text-anchor="middle" font-weight="normal" font-family="Liberation Sans, sans-serif" >100</text>
<line x1="316.07" y1="128.00" x2="316.07" y2="130.00" stroke="#8a8a8a" stroke-width="0.8" />
<text x="351.64" y="137.90" font-size="6.3" fill="#333" stroke="#333" stroke-width="0.158" text-anchor="middle" font-weight="normal" font-family="Liberation Sans, sans-serif" >200</text>
<line x1="351.64" y1="128.00" x2="351.64" y2="130.00" stroke="#8a8a8a" stroke-width="0.8" />
<text x="387.21" y="137.90" font-size="6.3" fill="#333" stroke="#333" stroke-width="0.158" text-anchor="middle" font-weight="normal" font-family="Liberation Sans, sans-serif" >300</text>
<line x1="387.21" y1="128.00" x2="387.21" y2="130.00" stroke="#8a8a8a" stroke-width="0.8" />
<text x="422.78" y="137.90" font-size="6.3" fill="#333" stroke="#333" stroke-width="0.158" text-anchor="middle" font-weight="normal" font-family="Liberation Sans, sans-serif" >400</text>
<line x1="422.78" y1="128.00" x2="422.78" y2="130.00" stroke="#8a8a8a" stroke-width="0.8" />
<text x="458.35" y="137.90" font-size="6.3" fill="#333" stroke="#333" stroke-width="0.158" text-anchor="middle" font-weight="normal" font-family="Liberation Sans, sans-serif" >500</text>
<line x1="458.35" y1="128.00" x2="458.35" y2="130.00" stroke="#8a8a8a" stroke-width="0.8" />
<text x="493.92" y="137.90" font-size="6.3" fill="#333" stroke="#333" stroke-width="0.158" text-anchor="middle" font-weight="normal" font-family="Liberation Sans, sans-serif" >600</text>
<line x1="493.92" y1="128.00" x2="493.92" y2="130.00" stroke="#8a8a8a" stroke-width="0.8" />
<text x="529.49" y="137.90" font-size="6.3" fill="#333" stroke="#333" stroke-width="0.158" text-anchor="middle" font-weight="normal" font-family="Liberation Sans, sans-serif" >700</text>
<line x1="529.49" y1="128.00" x2="529.49" y2="130.00" stroke="#8a8a8a" stroke-width="0.8" />
<text x="0" y="0" font-size="7.5" fill="#333" text-anchor="middle" font-weight="normal" font-family="Liberation Sans, sans-serif" transform="translate(259.50,76.20) rotate(-90)" dominant-baseline="central">Voltage (V)</text>
<text x="405.10" y="148.90" font-size="7.8" fill="#333" stroke="#333" stroke-width="0.195" text-anchor="middle" font-weight="normal" font-family="Liberation Sans, sans-serif" >Time (h)</text>
<line x1="483.50" y1="24.40" x2="498.50" y2="24.40" stroke="#ea7ab0" stroke-width="1.2" />
<line x1="483.50" y1="32.50" x2="498.50" y2="32.50" stroke="#8797f5" stroke-width="1.2" />
<text x="501.50" y="26.90" font-size="6.3" fill="#333" stroke="#333" stroke-width="0.158" text-anchor="start" font-weight="normal" font-family="Liberation Sans, sans-serif" >Bare Li</text>
<text x="501.50" y="34.90" font-size="6.3" fill="#333" stroke="#333" stroke-width="0.158" text-anchor="start" font-weight="normal" font-family="Liberation Sans, sans-serif" >Coated Li</text>
<text x="459.30" y="115.60" font-size="6.2" fill="#222" stroke="#222" stroke-width="0.155" text-anchor="start" font-weight="normal" font-family="Liberation Sans, sans-serif" >1 M LiPF<tspan font-size='4.5' dy='1.5'>6</tspan><tspan dy='-1.5'> in EC/DMC</tspan></text>
<text x="459.30" y="125.50" font-size="6.2" fill="#222" stroke="#222" stroke-width="0.155" text-anchor="start" font-weight="normal" font-family="Liberation Sans, sans-serif" >0.5 mA cm<tspan font-size='4' dy='-2.5'>-2</tspan><tspan dy='2.5'>, 1 mAh cm</tspan><tspan font-size='4' dy='-2.5'>-2</tspan></text>
<rect x="300.2" y="234.2" width="2.2" height="70.9" fill="#3232f2"/>
<rect x="300.4" y="235.3" width="9.6" height="10.6" fill="#3232f2"/>
<path d="M318.6,242 L331.4,242 L331.4,251.4 L321.5,251.4 Q318.6,251 318.6,247 Z" fill="#3232f2"/>
<rect x="336.8" y="242" width="5.9" height="11" fill="#3232f2"/>
<rect x="347.3" y="242" width="10.4" height="10.7" fill="#3232f2"/>
<rect x="324.1" y="242" width="7.3" height="63.1" fill="#3232f2"/>
<rect x="336.8" y="242" width="1.8" height="63.1" fill="#3232f2"/>
<rect x="340.9" y="242" width="1.8" height="63.1" fill="#3232f2"/>
<rect x="347.3" y="242" width="2.7" height="63.1" fill="#3232f2"/>
<rect x="353.2" y="242" width="4.5" height="63.1" fill="#3232f2"/>
<polygon points="359.40,235.20 372.00,235.20 374.50,233.40 440.00,232.60 440.00,241.50 448.70,241.50 448.70,250.60 400.00,252.50 374.50,254.00 372.00,242.00 359.40,242.00" fill="#3232f2" />
<rect x="375.0" y="231.2" width="0.9" height="1.9" fill="#3232f2"/>
<rect x="376.5" y="231.0" width="0.9" height="2.1" fill="#3232f2"/>
<rect x="378.0" y="232.0" width="0.9" height="1.1" fill="#3232f2"/>
<rect x="379.5" y="232.3" width="0.9" height="0.8" fill="#3232f2"/>
<rect x="381.0" y="231.4" width="0.9" height="1.7" fill="#3232f2"/>
<rect x="382.5" y="232.3" width="0.9" height="0.8" fill="#3232f2"/>
<rect x="384.0" y="232.6" width="0.9" height="0.5" fill="#3232f2"/>
<rect x="385.5" y="231.2" width="0.9" height="1.9" fill="#3232f2"/>
<rect x="387.0" y="231.9" width="0.9" height="1.2" fill="#3232f2"/>
<rect x="388.5" y="231.3" width="0.9" height="1.8" fill="#3232f2"/>
<rect x="390.0" y="232.0" width="0.9" height="1.1" fill="#3232f2"/>
<rect x="391.5" y="231.2" width="0.9" height="1.9" fill="#3232f2"/>
<rect x="393.0" y="231.9" width="0.9" height="1.2" fill="#3232f2"/>
<rect x="394.5" y="232.3" width="0.9" height="0.8" fill="#3232f2"/>
<rect x="396.0" y="232.6" width="0.9" height="0.5" fill="#3232f2"/>
<rect x="397.5" y="231.7" width="0.9" height="1.4" fill="#3232f2"/>
<rect x="399.0" y="231.6" width="0.9" height="1.5" fill="#3232f2"/>
<rect x="400.5" y="231.1" width="0.9" height="2.0" fill="#3232f2"/>
<rect x="402.0" y="232.5" width="0.9" height="0.6" fill="#3232f2"/>
<rect x="403.5" y="231.6" width="0.9" height="1.5" fill="#3232f2"/>
<rect x="405.0" y="232.0" width="0.9" height="1.1" fill="#3232f2"/>
<rect x="406.5" y="231.8" width="0.9" height="1.3" fill="#3232f2"/>
<rect x="408.0" y="232.4" width="0.9" height="0.7" fill="#3232f2"/>
<rect x="409.5" y="232.1" width="0.9" height="1.0" fill="#3232f2"/>
<rect x="411.0" y="231.8" width="0.9" height="1.3" fill="#3232f2"/>
<rect x="412.5" y="231.1" width="0.9" height="2.0" fill="#3232f2"/>
<rect x="414.0" y="232.4" width="0.9" height="0.7" fill="#3232f2"/>
<rect x="415.5" y="231.8" width="0.9" height="1.3" fill="#3232f2"/>
<rect x="417.0" y="231.3" width="0.9" height="1.8" fill="#3232f2"/>
<rect x="418.5" y="231.1" width="0.9" height="2.0" fill="#3232f2"/>
<rect x="420.0" y="232.3" width="0.9" height="0.8" fill="#3232f2"/>
<rect x="421.5" y="232.4" width="0.9" height="0.7" fill="#3232f2"/>
<rect x="423.0" y="231.1" width="0.9" height="2.0" fill="#3232f2"/>
<rect x="424.5" y="231.0" width="0.9" height="2.1" fill="#3232f2"/>
<rect x="426.0" y="231.8" width="0.9" height="1.3" fill="#3232f2"/>
<rect x="427.5" y="232.5" width="0.9" height="0.6" fill="#3232f2"/>
<rect x="429.0" y="231.1" width="0.9" height="2.0" fill="#3232f2"/>
<rect x="430.5" y="232.0" width="0.9" height="1.1" fill="#3232f2"/>
<rect x="432.0" y="231.2" width="0.9" height="1.9" fill="#3232f2"/>
<rect x="433.5" y="231.6" width="0.9" height="1.5" fill="#3232f2"/>
<rect x="435.0" y="231.3" width="0.9" height="1.8" fill="#3232f2"/>
<rect x="436.5" y="232.3" width="0.9" height="0.8" fill="#3232f2"/>
<rect x="438.0" y="231.3" width="0.9" height="1.8" fill="#3232f2"/>
<polygon points="300.40,238.16 301.20,238.45 302.00,239.15 302.80,239.13 303.60,238.09 304.40,238.15 305.20,238.44 306.00,238.63 306.80,238.41 307.60,238.00 308.40,238.20 309.20,238.96 310.00,239.24 310.80,237.87 311.60,238.70 312.40,239.01 313.20,237.86 314.00,239.14 314.80,237.99 315.60,238.76 316.40,238.68 317.20,238.80 318.00,238.29 318.00,245.87 317.20,246.13 316.40,245.88 315.60,246.25 314.80,245.91 314.00,245.90 313.20,245.24 312.40,246.19 311.60,245.98 310.80,245.58 310.00,246.42 309.20,246.45 308.40,245.93 307.60,245.49 306.80,245.96 306.00,245.37 305.20,245.41 304.40,245.89 303.60,245.35 302.80,245.91 302.00,246.02 301.20,245.27 300.40,246.22" fill="#ff0a0a" />
<rect x="300.4" y="240.5" width="223.4" height="2.6" fill="#ff0a0a"/>
<rect x="300.2" y="177.9" width="232.30" height="127.20" fill="none" stroke="#111" stroke-width="1.35"/>
<rect x="300.0" y="234.2" width="2.7" height="71.5" fill="#3232f2"/>
<text x="298.00" y="181.40" font-size="8.6" fill="#000" stroke="#000" stroke-width="0.120" text-anchor="end" font-weight="bold" font-family="Liberation Sans, sans-serif" >3.0</text>
<line x1="300.20" y1="178.30" x2="302.70" y2="178.30" stroke="#000" stroke-width="1" />
<text x="298.00" y="191.95" font-size="8.6" fill="#000" stroke="#000" stroke-width="0.120" text-anchor="end" font-weight="bold" font-family="Liberation Sans, sans-serif" >2.5</text>
<line x1="300.20" y1="188.85" x2="302.70" y2="188.85" stroke="#000" stroke-width="1" />
<text x="298.00" y="202.50" font-size="8.6" fill="#000" stroke="#000" stroke-width="0.120" text-anchor="end" font-weight="bold" font-family="Liberation Sans, sans-serif" >2.0</text>
<line x1="300.20" y1="199.40" x2="302.70" y2="199.40" stroke="#000" stroke-width="1" />
<text x="298.00" y="213.05" font-size="8.6" fill="#000" stroke="#000" stroke-width="0.120" text-anchor="end" font-weight="bold" font-family="Liberation Sans, sans-serif" >1.5</text>
<line x1="300.20" y1="209.95" x2="302.70" y2="209.95" stroke="#000" stroke-width="1" />
<text x="298.00" y="223.60" font-size="8.6" fill="#000" stroke="#000" stroke-width="0.120" text-anchor="end" font-weight="bold" font-family="Liberation Sans, sans-serif" >1.0</text>
<line x1="300.20" y1="220.50" x2="302.70" y2="220.50" stroke="#000" stroke-width="1" />
<text x="298.00" y="234.15" font-size="8.6" fill="#000" stroke="#000" stroke-width="0.120" text-anchor="end" font-weight="bold" font-family="Liberation Sans, sans-serif" >0.5</text>
<line x1="300.20" y1="231.05" x2="302.70" y2="231.05" stroke="#000" stroke-width="1" />
<text x="298.00" y="244.70" font-size="8.6" fill="#000" stroke="#000" stroke-width="0.120" text-anchor="end" font-weight="bold" font-family="Liberation Sans, sans-serif" >0.0</text>
<line x1="300.20" y1="241.60" x2="302.70" y2="241.60" stroke="#000" stroke-width="1" />
<text x="298.00" y="255.25" font-size="8.6" fill="#000" stroke="#000" stroke-width="0.120" text-anchor="end" font-weight="bold" font-family="Liberation Sans, sans-serif" >-0.5</text>
<line x1="300.20" y1="252.15" x2="302.70" y2="252.15" stroke="#000" stroke-width="1" />
<text x="298.00" y="265.80" font-size="8.6" fill="#000" stroke="#000" stroke-width="0.120" text-anchor="end" font-weight="bold" font-family="Liberation Sans, sans-serif" >-1.0</text>
<line x1="300.20" y1="262.70" x2="302.70" y2="262.70" stroke="#000" stroke-width="1" />
<text x="298.00" y="276.35" font-size="8.6" fill="#000" stroke="#000" stroke-width="0.120" text-anchor="end" font-weight="bold" font-family="Liberation Sans, sans-serif" >-1.5</text>
<line x1="300.20" y1="273.25" x2="302.70" y2="273.25" stroke="#000" stroke-width="1" />
<text x="298.00" y="286.90" font-size="8.6" fill="#000" stroke="#000" stroke-width="0.120" text-anchor="end" font-weight="bold" font-family="Liberation Sans, sans-serif" >-2.0</text>
<line x1="300.20" y1="283.80" x2="302.70" y2="283.80" stroke="#000" stroke-width="1" />
<text x="298.00" y="297.45" font-size="8.6" fill="#000" stroke="#000" stroke-width="0.120" text-anchor="end" font-weight="bold" font-family="Liberation Sans, sans-serif" >-2.5</text>
<line x1="300.20" y1="294.35" x2="302.70" y2="294.35" stroke="#000" stroke-width="1" />
<text x="298.00" y="308.00" font-size="8.6" fill="#000" stroke="#000" stroke-width="0.120" text-anchor="end" font-weight="bold" font-family="Liberation Sans, sans-serif" >-3.0</text>
<line x1="300.20" y1="304.90" x2="302.70" y2="304.90" stroke="#000" stroke-width="1" />
<text x="300.20" y="314.60" font-size="8.6" fill="#000" stroke="#000" stroke-width="0.120" text-anchor="middle" font-weight="bold" font-family="Liberation Sans, sans-serif" >0</text>
<line x1="300.20" y1="305.10" x2="300.20" y2="302.60" stroke="#000" stroke-width="1" />
<text x="346.66" y="314.60" font-size="8.6" fill="#000" stroke="#000" stroke-width="0.120" text-anchor="middle" font-weight="bold" font-family="Liberation Sans, sans-serif" >100</text>
<line x1="346.66" y1="305.10" x2="346.66" y2="302.60" stroke="#000" stroke-width="1" />
<text x="393.12" y="314.60" font-size="8.6" fill="#000" stroke="#000" stroke-width="0.120" text-anchor="middle" font-weight="bold" font-family="Liberation Sans, sans-serif" >200</text>
<line x1="393.12" y1="305.10" x2="393.12" y2="302.60" stroke="#000" stroke-width="1" />
<text x="439.58" y="314.60" font-size="8.6" fill="#000" stroke="#000" stroke-width="0.120" text-anchor="middle" font-weight="bold" font-family="Liberation Sans, sans-serif" >300</text>
<line x1="439.58" y1="305.10" x2="439.58" y2="302.60" stroke="#000" stroke-width="1" />
<text x="486.04" y="314.60" font-size="8.6" fill="#000" stroke="#000" stroke-width="0.120" text-anchor="middle" font-weight="bold" font-family="Liberation Sans, sans-serif" >400</text>
<line x1="486.04" y1="305.10" x2="486.04" y2="302.60" stroke="#000" stroke-width="1" />
<text x="532.50" y="314.60" font-size="8.6" fill="#000" stroke="#000" stroke-width="0.120" text-anchor="middle" font-weight="bold" font-family="Liberation Sans, sans-serif" >500</text>
<line x1="532.50" y1="305.10" x2="532.50" y2="302.60" stroke="#000" stroke-width="1" />
<text x="0" y="0" font-size="10.6" fill="#000" text-anchor="middle" font-weight="bold" font-family="Liberation Sans, sans-serif" transform="translate(273.60,235.20) rotate(-90)" dominant-baseline="central">Potential (V <tspan font-style='italic'>vs.</tspan>Li<tspan font-size='7' dy='-4'>+</tspan><tspan dy='4'>/Li)</tspan></text>
<text x="416.30" y="327.50" font-size="11.5" fill="#000"  text-anchor="middle" font-weight="bold" font-family="Liberation Sans, sans-serif" >Time (h)</text>
<text x="360.70" y="296.30" font-size="9.3" fill="#000"  text-anchor="start" font-weight="bold" font-family="Liberation Sans, sans-serif" >1mA/cm<tspan font-size='6.2' dy='-4'>2</tspan><tspan dy='4'> , 1mAh/cm</tspan><tspan font-size='6.2' dy='-4'>2</tspan></text>
<line x1="478.70" y1="185.60" x2="497.60" y2="185.60" stroke="#ff0a0a" stroke-width="2.2" />
<line x1="478.70" y1="196.40" x2="497.60" y2="196.40" stroke="#3232f2" stroke-width="2.2" />
<text x="500.00" y="188.90" font-size="8.6" fill="#000" stroke="#000" stroke-width="0.120" text-anchor="start" font-weight="bold" font-family="Liberation Sans, sans-serif" >Li-PVC</text>
<text x="500.00" y="199.70" font-size="8.6" fill="#000" stroke="#000" stroke-width="0.120" text-anchor="start" font-weight="bold" font-family="Liberation Sans, sans-serif" >Bare Li</text>
<defs><radialGradient id="gshadow"><stop offset="0" stop-color="#c4c4c4"/><stop offset="0.6" stop-color="#dadada"/><stop offset="1" stop-color="#fff" stop-opacity="0"/></radialGradient></defs>
<ellipse cx="411.8" cy="218.2" rx="13" ry="3.2" fill="url(#gshadow)"/>
<ellipse cx="446" cy="218.2" rx="13" ry="3.2" fill="url(#gshadow)"/>
<defs><radialGradient id="gc1" cx="0.45" cy="0.45" r="0.6"><stop offset="0" stop-color="#a4a69a"/><stop offset="1" stop-color="#85877c"/></radialGradient><radialGradient id="gc2" cx="0.4" cy="0.35" r="0.65"><stop offset="0" stop-color="#8a8c94"/><stop offset="0.5" stop-color="#3a3c46"/><stop offset="1" stop-color="#20222a"/></radialGradient></defs>
<circle cx="411.8" cy="198.3" r="13.2" fill="url(#gc1)" stroke="#e62a2a" stroke-width="1.7"/>
<circle cx="411.8" cy="198.3" r="11.9" fill="none" stroke="#a6d0b8" stroke-width="0.8"/>
<circle cx="446" cy="198.3" r="13.2" fill="url(#gc2)" stroke="#3a3ad8" stroke-width="1.8"/>
<path d="M438,194 L444,188.5 L451,190 L449,197 L443,201 L439,199 Z" fill="#b8b8c0" opacity="0.55"/>
<rect x="321.8" y="185.0" width="66.69999999999999" height="37.0" fill="#fff" stroke="#666" stroke-width="0.6"/>
<path d="M322.8,203.7 L322.8,191.6 L324.8,191.6 L324.8,215.8 L326.8,215.8 L326.8,191.6 L328.9,191.6 L328.9,215.8 L330.9,215.8 L330.9,191.6 L332.9,191.6 L332.9,215.8 L334.9,215.8 L334.9,191.6 L337.0,191.6 L337.0,215.8 L339.0,215.8 L339.0,191.6 L341.0,191.6 L341.0,215.8 L343.0,215.8 L343.0,191.6 L345.0,191.6 L345.0,215.8 L347.1,215.8 L347.1,191.6 L349.1,191.6 L349.1,215.8 L351.1,215.8 L351.1,191.6 L353.1,191.6 L353.1,215.8 L355.1,215.8 L355.1,191.6 L357.2,191.6 L357.2,215.8 L359.2,215.8 L359.2,191.6 L361.2,191.6 L361.2,215.8 L363.2,215.8 L363.2,191.6 L365.3,191.6 L365.3,215.8 L367.3,215.8 L367.3,191.6 L369.3,191.6 L369.3,215.8 L371.3,215.8 L371.3,191.6 L373.3,191.6 L373.3,215.8 L375.4,215.8 L375.4,191.6 L377.4,191.6 L377.4,215.8 L379.4,215.8 L379.4,191.6 L381.4,191.6 L381.4,215.8 L383.5,215.8 L383.5,191.6 L385.5,191.6 L385.5,215.8 L387.5,215.8 " fill="none" stroke="#4050ec" stroke-width="0.8"/>
<line x1="322.80" y1="203.70" x2="387.50" y2="203.70" stroke="#f03030" stroke-width="0.9" />
<text x="321.00" y="187.00" font-size="2.4" fill="#333" stroke="#333" stroke-width="0.060" text-anchor="end" font-weight="normal" font-family="Liberation Sans, sans-serif" >0.6</text>
<text x="321.00" y="192.83" font-size="2.4" fill="#333" stroke="#333" stroke-width="0.060" text-anchor="end" font-weight="normal" font-family="Liberation Sans, sans-serif" >0.4</text>
<text x="321.00" y="198.67" font-size="2.4" fill="#333" stroke="#333" stroke-width="0.060" text-anchor="end" font-weight="normal" font-family="Liberation Sans, sans-serif" >0.2</text>
<text x="321.00" y="204.50" font-size="2.4" fill="#333" stroke="#333" stroke-width="0.060" text-anchor="end" font-weight="normal" font-family="Liberation Sans, sans-serif" >0.0</text>
<text x="321.00" y="210.33" font-size="2.4" fill="#333" stroke="#333" stroke-width="0.060" text-anchor="end" font-weight="normal" font-family="Liberation Sans, sans-serif" >-0.2</text>
<text x="321.00" y="216.17" font-size="2.4" fill="#333" stroke="#333" stroke-width="0.060" text-anchor="end" font-weight="normal" font-family="Liberation Sans, sans-serif" >-0.4</text>
<text x="321.00" y="222.00" font-size="2.4" fill="#333" stroke="#333" stroke-width="0.060" text-anchor="end" font-weight="normal" font-family="Liberation Sans, sans-serif" >-0.6</text>
<text x="321.80" y="225.20" font-size="2.4" fill="#333" stroke="#333" stroke-width="0.060" text-anchor="middle" font-weight="normal" font-family="Liberation Sans, sans-serif" >300</text>
<text x="344.03" y="225.20" font-size="2.4" fill="#333" stroke="#333" stroke-width="0.060" text-anchor="middle" font-weight="normal" font-family="Liberation Sans, sans-serif" >305</text>
<text x="366.27" y="225.20" font-size="2.4" fill="#333" stroke="#333" stroke-width="0.060" text-anchor="middle" font-weight="normal" font-family="Liberation Sans, sans-serif" >310</text>
<text x="388.50" y="225.20" font-size="2.4" fill="#333" stroke="#333" stroke-width="0.060" text-anchor="middle" font-weight="normal" font-family="Liberation Sans, sans-serif" >315</text>
<text x="355.15" y="228.50" font-size="2.6" fill="#333" stroke="#333" stroke-width="0.065" text-anchor="middle" font-weight="normal" font-family="Liberation Sans, sans-serif" >Time (h)</text>
<text x="0" y="0" font-size="2.4" fill="#333" text-anchor="middle" font-weight="normal" font-family="Liberation Sans, sans-serif" transform="translate(316.80,203.50) rotate(-90)" dominant-baseline="central">Potential (V vs.Li+/Li)</text>
<line x1="371.00" y1="188.00" x2="376.00" y2="188.00" stroke="#f03030" stroke-width="0.6" />
<text x="377.00" y="189.00" font-size="2.2" fill="#333" stroke="#333" stroke-width="0.055" text-anchor="start" font-weight="normal" font-family="Liberation Sans, sans-serif" >Li-PVC</text>
<line x1="371.00" y1="191.00" x2="376.00" y2="191.00" stroke="#4a5ae8" stroke-width="0.6" />
<text x="377.00" y="192.00" font-size="2.2" fill="#333" stroke="#333" stroke-width="0.055" text-anchor="start" font-weight="normal" font-family="Liberation Sans, sans-serif" >Bare Li</text>
<text x="345.00" y="220.00" font-size="2.4" fill="#333" stroke="#333" stroke-width="0.034" text-anchor="start" font-weight="bold" font-family="Liberation Sans, sans-serif" >1mA/cm2 , 1mAh/cm2</text>
<polygon points="293.83,362.80 294.63,362.80 294.63,364.41 295.43,364.41 295.43,364.52 296.23,364.52 296.23,363.86 297.02,363.86 297.02,362.73 297.82,362.73 297.82,363.84 298.62,363.84 298.62,363.53 299.42,363.53 299.42,364.95 300.22,364.95 300.22,362.93 301.01,362.93 301.01,364.72 301.81,364.72 301.81,365.06 302.61,365.06 302.61,364.41 303.41,364.41 303.41,364.61 304.21,364.61 304.21,363.08 305.00,363.08 305.00,365.03 305.80,365.03 305.80,363.81 306.60,363.81 306.60,364.96 307.40,364.96 307.40,364.86 308.20,364.86 308.20,363.01 308.99,363.01 308.99,364.55 309.79,364.55 309.79,364.90 310.59,364.90 310.59,362.76 311.39,362.76 311.39,363.47 312.19,363.47 312.19,364.47 312.98,364.47 312.98,362.99 313.78,362.99 313.78,364.82 314.58,364.82 314.58,363.28 315.38,363.28 315.38,364.61 316.18,364.61 316.18,362.95 316.97,362.95 316.97,363.84 317.77,363.84 317.77,364.87 318.57,364.87 318.57,363.11 319.37,363.11 319.37,363.25 320.17,363.25 320.17,363.85 320.96,363.85 320.96,363.39 321.76,363.39 321.76,362.69 322.56,362.69 322.56,371.71 323.36,371.71 323.36,371.65 324.16,371.65 324.16,373.57 324.95,373.57 324.95,372.94 325.75,372.94 325.75,373.47 326.55,373.47 326.55,371.67 327.35,371.67 327.35,373.20 328.15,373.20 328.15,371.54 328.94,371.54 328.94,372.57 329.74,372.57 329.74,372.83 330.54,372.83 330.54,372.15 331.34,372.15 331.34,373.42 332.14,373.42 332.14,372.63 332.93,372.63 332.93,372.69 333.73,372.69 333.73,373.44 334.53,373.44 334.53,371.51 335.33,371.51 335.33,373.71 336.13,373.71 336.13,372.81 336.92,372.81 336.92,372.23 337.72,372.23 337.72,373.23 338.52,373.23 338.52,371.91 339.32,371.91 339.32,373.71 340.12,373.71 340.12,372.68 340.91,372.68 340.91,372.15 341.71,372.15 341.71,373.15 342.51,373.15 342.51,372.35 343.31,372.35 343.31,371.69 344.11,371.69 344.11,373.10 344.90,373.10 344.90,371.38 345.70,371.38 345.70,373.28 346.50,373.28 346.50,371.88 347.30,371.88 347.30,372.84 348.10,372.84 348.10,373.69 348.89,373.69 348.89,372.71 349.69,372.71 349.69,372.90 350.49,372.90 350.49,372.03 351.29,372.03 351.29,371.26 352.09,371.26 352.09,371.34 352.88,371.34 352.88,371.63 353.68,371.63 353.68,372.78 354.48,372.78 354.48,372.33 355.28,372.33 355.28,372.52 356.08,372.52 356.08,373.47 356.87,373.47 356.87,371.58 357.67,371.58 357.67,371.82 358.47,371.82 358.47,372.87 359.27,372.87 359.27,371.31 360.07,371.31 360.07,371.26 360.86,371.26 360.86,372.13 361.66,372.13 361.66,371.52 362.46,371.52 362.46,372.14 363.26,372.14 363.26,371.81 364.06,371.81 364.06,372.70 364.85,372.70 364.85,372.71 365.12,372.71 365.12,361.87 365.92,361.87 365.92,362.90 366.72,362.90 366.72,362.53 367.51,362.53 367.51,361.69 368.31,361.69 368.31,363.68 369.11,363.68 369.11,361.96 369.91,361.96 369.91,361.73 370.71,361.73 370.71,361.60 371.50,361.60 371.50,362.94 372.30,362.94 372.30,363.52 373.10,363.52 373.10,363.30 373.90,363.30 373.90,362.35 374.70,362.35 374.70,362.01 375.49,362.01 375.49,361.39 376.29,361.39 376.29,362.96 377.09,362.96 377.09,362.75 377.89,362.75 377.89,362.23 378.69,362.23 378.69,362.96 379.48,362.96 379.48,362.46 380.28,362.46 380.28,363.68 381.08,363.68 381.08,363.17 381.88,363.17 381.88,361.97 382.68,361.97 382.68,363.60 383.47,363.60 383.47,361.47 384.27,361.47 384.27,362.67 385.07,362.67 385.07,362.36 385.87,362.36 385.87,361.95 386.67,361.95 386.67,361.50 387.46,361.50 387.46,363.29 388.26,363.29 388.26,361.39 389.06,361.39 389.06,362.72 389.86,362.72 389.86,363.69 390.66,363.69 390.66,361.71 391.45,361.71 391.45,361.85 392.25,361.85 392.25,362.86 393.05,362.86 393.05,362.61 393.85,362.61 393.85,362.95 394.65,362.95 394.65,363.37 395.44,363.37 395.44,361.79 396.24,361.79 396.24,362.13 397.04,362.13 397.04,362.10 397.84,362.10 397.84,361.48 398.64,361.48 398.64,363.56 399.43,363.56 399.43,363.30 400.23,363.30 400.23,363.13 401.03,363.13 401.03,361.38 401.83,361.38 401.83,363.45 402.63,363.45 402.63,363.20 403.42,363.20 403.42,362.51 404.22,362.51 404.22,363.20 405.02,363.20 405.02,362.48 405.82,362.48 405.82,361.92 406.62,361.92 406.62,361.62 407.41,361.62 407.41,361.93 408.21,361.93 408.21,361.46 409.01,361.46 409.01,362.19 409.81,362.19 409.81,363.21 410.61,363.21 410.61,363.08 411.40,363.08 411.40,363.45 412.20,363.45 412.20,363.12 413.00,363.12 413.00,362.02 413.80,362.02 413.80,362.73 414.60,362.73 414.60,362.44 415.39,362.44 415.39,363.31 416.19,363.31 416.19,362.65 416.99,362.65 416.99,362.02 417.79,362.02 417.79,362.95 418.32,362.95 418.32,348.99 419.12,348.99 419.12,348.99 419.92,348.99 419.92,376.12 420.71,376.12 420.71,374.27 421.51,374.27 421.51,375.91 422.31,375.91 422.31,373.77 423.11,373.77 423.11,374.37 423.91,374.37 423.91,374.31 424.70,374.31 424.70,375.57 425.50,375.57 425.50,376.07 426.30,376.07 426.30,375.58 427.10,375.58 427.10,374.54 427.90,374.54 427.90,375.91 428.69,375.91 428.69,374.54 428.96,374.54 428.96,379.27 429.76,379.27 429.76,380.92 430.56,380.92 430.56,380.24 431.35,380.24 431.35,380.39 432.15,380.39 432.15,380.32 432.95,380.32 432.95,377.39 433.75,377.39 433.75,376.13 434.55,376.13 434.55,377.04 435.34,377.04 435.34,376.69 436.14,376.69 436.14,377.09 436.94,377.09 436.94,376.05 437.74,376.05 437.74,376.76 438.54,376.76 438.54,376.38 439.33,376.38 439.33,375.73 440.13,375.73 440.13,375.49 440.93,375.49 440.93,376.51 441.73,376.51 441.73,375.16 442.53,375.16 442.53,377.22 443.06,377.22 443.06,389.81 301.28,389.81 295.43,392.29 293.83,397.23" fill="#8fcff0" />
<clipPath id="cf1"><polygon points="293.83,362.80 294.63,362.80 294.63,364.41 295.43,364.41 295.43,364.52 296.23,364.52 296.23,363.86 297.02,363.86 297.02,362.73 297.82,362.73 297.82,363.84 298.62,363.84 298.62,363.53 299.42,363.53 299.42,364.95 300.22,364.95 300.22,362.93 301.01,362.93 301.01,364.72 301.81,364.72 301.81,365.06 302.61,365.06 302.61,364.41 303.41,364.41 303.41,364.61 304.21,364.61 304.21,363.08 305.00,363.08 305.00,365.03 305.80,365.03 305.80,363.81 306.60,363.81 306.60,364.96 307.40,364.96 307.40,364.86 308.20,364.86 308.20,363.01 308.99,363.01 308.99,364.55 309.79,364.55 309.79,364.90 310.59,364.90 310.59,362.76 311.39,362.76 311.39,363.47 312.19,363.47 312.19,364.47 312.98,364.47 312.98,362.99 313.78,362.99 313.78,364.82 314.58,364.82 314.58,363.28 315.38,363.28 315.38,364.61 316.18,364.61 316.18,362.95 316.97,362.95 316.97,363.84 317.77,363.84 317.77,364.87 318.57,364.87 318.57,363.11 319.37,363.11 319.37,363.25 320.17,363.25 320.17,363.85 320.96,363.85 320.96,363.39 321.76,363.39 321.76,362.69 322.56,362.69 322.56,371.71 323.36,371.71 323.36,371.65 324.16,371.65 324.16,373.57 324.95,373.57 324.95,372.94 325.75,372.94 325.75,373.47 326.55,373.47 326.55,371.67 327.35,371.67 327.35,373.20 328.15,373.20 328.15,371.54 328.94,371.54 328.94,372.57 329.74,372.57 329.74,372.83 330.54,372.83 330.54,372.15 331.34,372.15 331.34,373.42 332.14,373.42 332.14,372.63 332.93,372.63 332.93,372.69 333.73,372.69 333.73,373.44 334.53,373.44 334.53,371.51 335.33,371.51 335.33,373.71 336.13,373.71 336.13,372.81 336.92,372.81 336.92,372.23 337.72,372.23 337.72,373.23 338.52,373.23 338.52,371.91 339.32,371.91 339.32,373.71 340.12,373.71 340.12,372.68 340.91,372.68 340.91,372.15 341.71,372.15 341.71,373.15 342.51,373.15 342.51,372.35 343.31,372.35 343.31,371.69 344.11,371.69 344.11,373.10 344.90,373.10 344.90,371.38 345.70,371.38 345.70,373.28 346.50,373.28 346.50,371.88 347.30,371.88 347.30,372.84 348.10,372.84 348.10,373.69 348.89,373.69 348.89,372.71 349.69,372.71 349.69,372.90 350.49,372.90 350.49,372.03 351.29,372.03 351.29,371.26 352.09,371.26 352.09,371.34 352.88,371.34 352.88,371.63 353.68,371.63 353.68,372.78 354.48,372.78 354.48,372.33 355.28,372.33 355.28,372.52 356.08,372.52 356.08,373.47 356.87,373.47 356.87,371.58 357.67,371.58 357.67,371.82 358.47,371.82 358.47,372.87 359.27,372.87 359.27,371.31 360.07,371.31 360.07,371.26 360.86,371.26 360.86,372.13 361.66,372.13 361.66,371.52 362.46,371.52 362.46,372.14 363.26,372.14 363.26,371.81 364.06,371.81 364.06,372.70 364.85,372.70 364.85,372.71 365.12,372.71 365.12,361.87 365.92,361.87 365.92,362.90 366.72,362.90 366.72,362.53 367.51,362.53 367.51,361.69 368.31,361.69 368.31,363.68 369.11,363.68 369.11,361.96 369.91,361.96 369.91,361.73 370.71,361.73 370.71,361.60 371.50,361.60 371.50,362.94 372.30,362.94 372.30,363.52 373.10,363.52 373.10,363.30 373.90,363.30 373.90,362.35 374.70,362.35 374.70,362.01 375.49,362.01 375.49,361.39 376.29,361.39 376.29,362.96 377.09,362.96 377.09,362.75 377.89,362.75 377.89,362.23 378.69,362.23 378.69,362.96 379.48,362.96 379.48,362.46 380.28,362.46 380.28,363.68 381.08,363.68 381.08,363.17 381.88,363.17 381.88,361.97 382.68,361.97 382.68,363.60 383.47,363.60 383.47,361.47 384.27,361.47 384.27,362.67 385.07,362.67 385.07,362.36 385.87,362.36 385.87,361.95 386.67,361.95 386.67,361.50 387.46,361.50 387.46,363.29 388.26,363.29 388.26,361.39 389.06,361.39 389.06,362.72 389.86,362.72 389.86,363.69 390.66,363.69 390.66,361.71 391.45,361.71 391.45,361.85 392.25,361.85 392.25,362.86 393.05,362.86 393.05,362.61 393.85,362.61 393.85,362.95 394.65,362.95 394.65,363.37 395.44,363.37 395.44,361.79 396.24,361.79 396.24,362.13 397.04,362.13 397.04,362.10 397.84,362.10 397.84,361.48 398.64,361.48 398.64,363.56 399.43,363.56 399.43,363.30 400.23,363.30 400.23,363.13 401.03,363.13 401.03,361.38 401.83,361.38 401.83,363.45 402.63,363.45 402.63,363.20 403.42,363.20 403.42,362.51 404.22,362.51 404.22,363.20 405.02,363.20 405.02,362.48 405.82,362.48 405.82,361.92 406.62,361.92 406.62,361.62 407.41,361.62 407.41,361.93 408.21,361.93 408.21,361.46 409.01,361.46 409.01,362.19 409.81,362.19 409.81,363.21 410.61,363.21 410.61,363.08 411.40,363.08 411.40,363.45 412.20,363.45 412.20,363.12 413.00,363.12 413.00,362.02 413.80,362.02 413.80,362.73 414.60,362.73 414.60,362.44 415.39,362.44 415.39,363.31 416.19,363.31 416.19,362.65 416.99,362.65 416.99,362.02 417.79,362.02 417.79,362.95 418.32,362.95 418.32,348.99 419.12,348.99 419.12,348.99 419.92,348.99 419.92,376.12 420.71,376.12 420.71,374.27 421.51,374.27 421.51,375.91 422.31,375.91 422.31,373.77 423.11,373.77 423.11,374.37 423.91,374.37 423.91,374.31 424.70,374.31 424.70,375.57 425.50,375.57 425.50,376.07 426.30,376.07 426.30,375.58 427.10,375.58 427.10,374.54 427.90,374.54 427.90,375.91 428.69,375.91 428.69,374.54 428.96,374.54 428.96,379.27 429.76,379.27 429.76,380.92 430.56,380.92 430.56,380.24 431.35,380.24 431.35,380.39 432.15,380.39 432.15,380.32 432.95,380.32 432.95,377.39 433.75,377.39 433.75,376.13 434.55,376.13 434.55,377.04 435.34,377.04 435.34,376.69 436.14,376.69 436.14,377.09 436.94,377.09 436.94,376.05 437.74,376.05 437.74,376.76 438.54,376.76 438.54,376.38 439.33,376.38 439.33,375.73 440.13,375.73 440.13,375.49 440.93,375.49 440.93,376.51 441.73,376.51 441.73,375.16 442.53,375.16 442.53,377.22 443.06,377.22 443.06,389.81 301.28,389.81 295.43,392.29 293.83,397.23"/></clipPath>
<line x1="419.12" y1="348.99" x2="419.12" y2="386.10" stroke="#7cc3ea" stroke-width="0.8" />
<g clip-path="url(#cf1)">
<line x1="294.6" y1="349.0" x2="294.6" y2="392.3" stroke="#cfeafa" stroke-width="0.5"/>
<line x1="295.5" y1="349.0" x2="295.5" y2="392.3" stroke="#cfeafa" stroke-width="0.5"/>
<line x1="296.3" y1="349.0" x2="296.3" y2="392.3" stroke="#cfeafa" stroke-width="0.5"/>
<line x1="297.2" y1="349.0" x2="297.2" y2="392.3" stroke="#cfeafa" stroke-width="0.5"/>
<line x1="298.0" y1="349.0" x2="298.0" y2="392.3" stroke="#cfeafa" stroke-width="0.5"/>
<line x1="298.9" y1="349.0" x2="298.9" y2="392.3" stroke="#cfeafa" stroke-width="0.5"/>
<line x1="299.7" y1="349.0" x2="299.7" y2="392.3" stroke="#cfeafa" stroke-width="0.5"/>
<line x1="300.6" y1="349.0" x2="300.6" y2="392.3" stroke="#cfeafa" stroke-width="0.5"/>
<line x1="301.4" y1="349.0" x2="301.4" y2="392.3" stroke="#cfeafa" stroke-width="0.5"/>
<line x1="302.3" y1="349.0" x2="302.3" y2="392.3" stroke="#cfeafa" stroke-width="0.5"/>
<line x1="303.1" y1="349.0" x2="303.1" y2="392.3" stroke="#cfeafa" stroke-width="0.5"/>
<line x1="304.0" y1="349.0" x2="304.0" y2="392.3" stroke="#cfeafa" stroke-width="0.5"/>
<line x1="304.8" y1="349.0" x2="304.8" y2="392.3" stroke="#cfeafa" stroke-width="0.5"/>
<line x1="305.7" y1="349.0" x2="305.7" y2="392.3" stroke="#cfeafa" stroke-width="0.5"/>
<line x1="306.5" y1="349.0" x2="306.5" y2="392.3" stroke="#cfeafa" stroke-width="0.5"/>
<line x1="307.4" y1="349.0" x2="307.4" y2="392.3" stroke="#cfeafa" stroke-width="0.5"/>
<line x1="308.2" y1="349.0" x2="308.2" y2="392.3" stroke="#cfeafa" stroke-width="0.5"/>
<line x1="309.1" y1="349.0" x2="309.1" y2="392.3" stroke="#cfeafa" stroke-width="0.5"/>
<line x1="310.0" y1="349.0" x2="310.0" y2="392.3" stroke="#cfeafa" stroke-width="0.5"/>
<line x1="310.8" y1="349.0" x2="310.8" y2="392.3" stroke="#cfeafa" stroke-width="0.5"/>
<line x1="311.7" y1="349.0" x2="311.7" y2="392.3" stroke="#cfeafa" stroke-width="0.5"/>
<line x1="312.5" y1="349.0" x2="312.5" y2="392.3" stroke="#cfeafa" stroke-width="0.5"/>
<line x1="313.4" y1="349.0" x2="313.4" y2="392.3" stroke="#cfeafa" stroke-width="0.5"/>
<line x1="314.2" y1="349.0" x2="314.2" y2="392.3" stroke="#cfeafa" stroke-width="0.5"/>
<line x1="315.1" y1="349.0" x2="315.1" y2="392.3" stroke="#cfeafa" stroke-width="0.5"/>
<line x1="315.9" y1="349.0" x2="315.9" y2="392.3" stroke="#cfeafa" stroke-width="0.5"/>
<line x1="316.8" y1="349.0" x2="316.8" y2="392.3" stroke="#cfeafa" stroke-width="0.5"/>
<line x1="317.6" y1="349.0" x2="317.6" y2="392.3" stroke="#cfeafa" stroke-width="0.5"/>
<line x1="318.5" y1="349.0" x2="318.5" y2="392.3" stroke="#cfeafa" stroke-width="0.5"/>
<line x1="319.3" y1="349.0" x2="319.3" y2="392.3" stroke="#cfeafa" stroke-width="0.5"/>
<line x1="320.2" y1="349.0" x2="320.2" y2="392.3" stroke="#cfeafa" stroke-width="0.5"/>
<line x1="321.0" y1="349.0" x2="321.0" y2="392.3" stroke="#cfeafa" stroke-width="0.5"/>
<line x1="321.9" y1="349.0" x2="321.9" y2="392.3" stroke="#cfeafa" stroke-width="0.5"/>
<line x1="322.7" y1="349.0" x2="322.7" y2="392.3" stroke="#cfeafa" stroke-width="0.5"/>
<line x1="323.6" y1="349.0" x2="323.6" y2="392.3" stroke="#cfeafa" stroke-width="0.5"/>
<line x1="324.4" y1="349.0" x2="324.4" y2="392.3" stroke="#cfeafa" stroke-width="0.5"/>
<line x1="325.3" y1="349.0" x2="325.3" y2="392.3" stroke="#cfeafa" stroke-width="0.5"/>
<line x1="326.1" y1="349.0" x2="326.1" y2="392.3" stroke="#cfeafa" stroke-width="0.5"/>
<line x1="327.0" y1="349.0" x2="327.0" y2="392.3" stroke="#cfeafa" stroke-width="0.5"/>
<line x1="327.8" y1="349.0" x2="327.8" y2="392.3" stroke="#cfeafa" stroke-width="0.5"/>
<line x1="328.7" y1="349.0" x2="328.7" y2="392.3" stroke="#cfeafa" stroke-width="0.5"/>
<line x1="329.5" y1="349.0" x2="329.5" y2="392.3" stroke="#cfeafa" stroke-width="0.5"/>
<line x1="330.4" y1="349.0" x2="330.4" y2="392.3" stroke="#cfeafa" stroke-width="0.5"/>
<line x1="331.2" y1="349.0" x2="331.2" y2="392.3" stroke="#cfeafa" stroke-width="0.5"/>
<line x1="332.1" y1="349.0" x2="332.1" y2="392.3" stroke="#cfeafa" stroke-width="0.5"/>
<line x1="332.9" y1="349.0" x2="332.9" y2="392.3" stroke="#cfeafa" stroke-width="0.5"/>
<line x1="333.8" y1="349.0" x2="333.8" y2="392.3" stroke="#cfeafa" stroke-width="0.5"/>
<line x1="334.6" y1="349.0" x2="334.6" y2="392.3" stroke="#cfeafa" stroke-width="0.5"/>
<line x1="335.5" y1="349.0" x2="335.5" y2="392.3" stroke="#cfeafa" stroke-width="0.5"/>
<line x1="336.3" y1="349.0" x2="336.3" y2="392.3" stroke="#cfeafa" stroke-width="0.5"/>
<line x1="337.2" y1="349.0" x2="337.2" y2="392.3" stroke="#cfeafa" stroke-width="0.5"/>
<line x1="338.0" y1="349.0" x2="338.0" y2="392.3" stroke="#cfeafa" stroke-width="0.5"/>
<line x1="338.9" y1="349.0" x2="338.9" y2="392.3" stroke="#cfeafa" stroke-width="0.5"/>
<line x1="339.7" y1="349.0" x2="339.7" y2="392.3" stroke="#cfeafa" stroke-width="0.5"/>
<line x1="340.6" y1="349.0" x2="340.6" y2="392.3" stroke="#cfeafa" stroke-width="0.5"/>
<line x1="341.4" y1="349.0" x2="341.4" y2="392.3" stroke="#cfeafa" stroke-width="0.5"/>
<line x1="342.3" y1="349.0" x2="342.3" y2="392.3" stroke="#cfeafa" stroke-width="0.5"/>
<line x1="343.1" y1="349.0" x2="343.1" y2="392.3" stroke="#cfeafa" stroke-width="0.5"/>
<line x1="344.0" y1="349.0" x2="344.0" y2="392.3" stroke="#cfeafa" stroke-width="0.5"/>
<line x1="344.9" y1="349.0" x2="344.9" y2="392.3" stroke="#cfeafa" stroke-width="0.5"/>
<line x1="345.7" y1="349.0" x2="345.7" y2="392.3" stroke="#cfeafa" stroke-width="0.5"/>
<line x1="346.6" y1="349.0" x2="346.6" y2="392.3" stroke="#cfeafa" stroke-width="0.5"/>
<line x1="347.4" y1="349.0" x2="347.4" y2="392.3" stroke="#cfeafa" stroke-width="0.5"/>
<line x1="348.3" y1="349.0" x2="348.3" y2="392.3" stroke="#cfeafa" stroke-width="0.5"/>
<line x1="349.1" y1="349.0" x2="349.1" y2="392.3" stroke="#cfeafa" stroke-width="0.5"/>
<line x1="350.0" y1="349.0" x2="350.0" y2="392.3" stroke="#cfeafa" stroke-width="0.5"/>
<line x1="350.8" y1="349.0" x2="350.8" y2="392.3" stroke="#cfeafa" stroke-width="0.5"/>
<line x1="351.7" y1="349.0" x2="351.7" y2="392.3" stroke="#cfeafa" stroke-width="0.5"/>
<line x1="352.5" y1="349.0" x2="352.5" y2="392.3" stroke="#cfeafa" stroke-width="0.5"/>
<line x1="353.4" y1="349.0" x2="353.4" y2="392.3" stroke="#cfeafa" stroke-width="0.5"/>
<line x1="354.2" y1="349.0" x2="354.2" y2="392.3" stroke="#cfeafa" stroke-width="0.5"/>
<line x1="355.1" y1="349.0" x2="355.1" y2="392.3" stroke="#cfeafa" stroke-width="0.5"/>
<line x1="355.9" y1="349.0" x2="355.9" y2="392.3" stroke="#cfeafa" stroke-width="0.5"/>
<line x1="356.8" y1="349.0" x2="356.8" y2="392.3" stroke="#cfeafa" stroke-width="0.5"/>
<line x1="357.6" y1="349.0" x2="357.6" y2="392.3" stroke="#cfeafa" stroke-width="0.5"/>
<line x1="358.5" y1="349.0" x2="358.5" y2="392.3" stroke="#cfeafa" stroke-width="0.5"/>
<line x1="359.3" y1="349.0" x2="359.3" y2="392.3" stroke="#cfeafa" stroke-width="0.5"/>
<line x1="360.2" y1="349.0" x2="360.2" y2="392.3" stroke="#cfeafa" stroke-width="0.5"/>
<line x1="361.0" y1="349.0" x2="361.0" y2="392.3" stroke="#cfeafa" stroke-width="0.5"/>
<line x1="361.9" y1="349.0" x2="361.9" y2="392.3" stroke="#cfeafa" stroke-width="0.5"/>
<line x1="362.7" y1="349.0" x2="362.7" y2="392.3" stroke="#cfeafa" stroke-width="0.5"/>
<line x1="363.6" y1="349.0" x2="363.6" y2="392.3" stroke="#cfeafa" stroke-width="0.5"/>
<line x1="364.4" y1="349.0" x2="364.4" y2="392.3" stroke="#cfeafa" stroke-width="0.5"/>
<line x1="365.3" y1="349.0" x2="365.3" y2="392.3" stroke="#cfeafa" stroke-width="0.5"/>
<line x1="366.1" y1="349.0" x2="366.1" y2="392.3" stroke="#cfeafa" stroke-width="0.5"/>
<line x1="367.0" y1="349.0" x2="367.0" y2="392.3" stroke="#cfeafa" stroke-width="0.5"/>
<line x1="367.8" y1="349.0" x2="367.8" y2="392.3" stroke="#cfeafa" stroke-width="0.5"/>
<line x1="368.7" y1="349.0" x2="368.7" y2="392.3" stroke="#cfeafa" stroke-width="0.5"/>
<line x1="369.5" y1="349.0" x2="369.5" y2="392.3" stroke="#cfeafa" stroke-width="0.5"/>
<line x1="370.4" y1="349.0" x2="370.4" y2="392.3" stroke="#cfeafa" stroke-width="0.5"/>
<line x1="371.2" y1="349.0" x2="371.2" y2="392.3" stroke="#cfeafa" stroke-width="0.5"/>
<line x1="372.1" y1="349.0" x2="372.1" y2="392.3" stroke="#cfeafa" stroke-width="0.5"/>
<line x1="372.9" y1="349.0" x2="372.9" y2="392.3" stroke="#cfeafa" stroke-width="0.5"/>
<line x1="373.8" y1="349.0" x2="373.8" y2="392.3" stroke="#cfeafa" stroke-width="0.5"/>
<line x1="374.6" y1="349.0" x2="374.6" y2="392.3" stroke="#cfeafa" stroke-width="0.5"/>
<line x1="375.5" y1="349.0" x2="375.5" y2="392.3" stroke="#cfeafa" stroke-width="0.5"/>
<line x1="376.3" y1="349.0" x2="376.3" y2="392.3" stroke="#cfeafa" stroke-width="0.5"/>
<line x1="377.2" y1="349.0" x2="377.2" y2="392.3" stroke="#cfeafa" stroke-width="0.5"/>
<line x1="378.0" y1="349.0" x2="378.0" y2="392.3" stroke="#cfeafa" stroke-width="0.5"/>
<line x1="378.9" y1="349.0" x2="378.9" y2="392.3" stroke="#cfeafa" stroke-width="0.5"/>
<line x1="379.7" y1="349.0" x2="379.7" y2="392.3" stroke="#cfeafa" stroke-width="0.5"/>
<line x1="380.6" y1="349.0" x2="380.6" y2="392.3" stroke="#cfeafa" stroke-width="0.5"/>
<line x1="381.5" y1="349.0" x2="381.5" y2="392.3" stroke="#cfeafa" stroke-width="0.5"/>
<line x1="382.3" y1="349.0" x2="382.3" y2="392.3" stroke="#cfeafa" stroke-width="0.5"/>
<line x1="383.2" y1="349.0" x2="383.2" y2="392.3" stroke="#cfeafa" stroke-width="0.5"/>
<line x1="384.0" y1="349.0" x2="384.0" y2="392.3" stroke="#cfeafa" stroke-width="0.5"/>
<line x1="384.9" y1="349.0" x2="384.9" y2="392.3" stroke="#cfeafa" stroke-width="0.5"/>
<line x1="385.7" y1="349.0" x2="385.7" y2="392.3" stroke="#cfeafa" stroke-width="0.5"/>
<line x1="386.6" y1="349.0" x2="386.6" y2="392.3" stroke="#cfeafa" stroke-width="0.5"/>
<line x1="387.4" y1="349.0" x2="387.4" y2="392.3" stroke="#cfeafa" stroke-width="0.5"/>
<line x1="388.3" y1="349.0" x2="388.3" y2="392.3" stroke="#cfeafa" stroke-width="0.5"/>
<line x1="389.1" y1="349.0" x2="389.1" y2="392.3" stroke="#cfeafa" stroke-width="0.5"/>
<line x1="390.0" y1="349.0" x2="390.0" y2="392.3" stroke="#cfeafa" stroke-width="0.5"/>
<line x1="390.8" y1="349.0" x2="390.8" y2="392.3" stroke="#cfeafa" stroke-width="0.5"/>
<line x1="391.7" y1="349.0" x2="391.7" y2="392.3" stroke="#cfeafa" stroke-width="0.5"/>
<line x1="392.5" y1="349.0" x2="392.5" y2="392.3" stroke="#cfeafa" stroke-width="0.5"/>
<line x1="393.4" y1="349.0" x2="393.4" y2="392.3" stroke="#cfeafa" stroke-width="0.5"/>
<line x1="394.2" y1="349.0" x2="394.2" y2="392.3" stroke="#cfeafa" stroke-width="0.5"/>
<line x1="395.1" y1="349.0" x2="395.1" y2="392.3" stroke="#cfeafa" stroke-width="0.5"/>
<line x1="395.9" y1="349.0" x2="395.9" y2="392.3" stroke="#cfeafa" stroke-width="0.5"/>
<line x1="396.8" y1="349.0" x2="396.8" y2="392.3" stroke="#cfeafa" stroke-width="0.5"/>
<line x1="397.6" y1="349.0" x2="397.6" y2="392.3" stroke="#cfeafa" stroke-width="0.5"/>
<line x1="398.5" y1="349.0" x2="398.5" y2="392.3" stroke="#cfeafa" stroke-width="0.5"/>
<line x1="399.3" y1="349.0" x2="399.3" y2="392.3" stroke="#cfeafa" stroke-width="0.5"/>
<line x1="400.2" y1="349.0" x2="400.2" y2="392.3" stroke="#cfeafa" stroke-width="0.5"/>
<line x1="401.0" y1="349.0" x2="401.0" y2="392.3" stroke="#cfeafa" stroke-width="0.5"/>
<line x1="401.9" y1="349.0" x2="401.9" y2="392.3" stroke="#cfeafa" stroke-width="0.5"/>
<line x1="402.7" y1="349.0" x2="402.7" y2="392.3" stroke="#cfeafa" stroke-width="0.5"/>
<line x1="403.6" y1="349.0" x2="403.6" y2="392.3" stroke="#cfeafa" stroke-width="0.5"/>
<line x1="404.4" y1="349.0" x2="404.4" y2="392.3" stroke="#cfeafa" stroke-width="0.5"/>
<line x1="405.3" y1="349.0" x2="405.3" y2="392.3" stroke="#cfeafa" stroke-width="0.5"/>
<line x1="406.1" y1="349.0" x2="406.1" y2="392.3" stroke="#cfeafa" stroke-width="0.5"/>
<line x1="407.0" y1="349.0" x2="407.0" y2="392.3" stroke="#cfeafa" stroke-width="0.5"/>
<line x1="407.8" y1="349.0" x2="407.8" y2="392.3" stroke="#cfeafa" stroke-width="0.5"/>
<line x1="408.7" y1="349.0" x2="408.7" y2="392.3" stroke="#cfeafa" stroke-width="0.5"/>
<line x1="409.5" y1="349.0" x2="409.5" y2="392.3" stroke="#cfeafa" stroke-width="0.5"/>
<line x1="410.4" y1="349.0" x2="410.4" y2="392.3" stroke="#cfeafa" stroke-width="0.5"/>
<line x1="411.2" y1="349.0" x2="411.2" y2="392.3" stroke="#cfeafa" stroke-width="0.5"/>
<line x1="412.1" y1="349.0" x2="412.1" y2="392.3" stroke="#cfeafa" stroke-width="0.5"/>
<line x1="412.9" y1="349.0" x2="412.9" y2="392.3" stroke="#cfeafa" stroke-width="0.5"/>
<line x1="413.8" y1="349.0" x2="413.8" y2="392.3" stroke="#cfeafa" stroke-width="0.5"/>
<line x1="414.6" y1="349.0" x2="414.6" y2="392.3" stroke="#cfeafa" stroke-width="0.5"/>
<line x1="415.5" y1="349.0" x2="415.5" y2="392.3" stroke="#cfeafa" stroke-width="0.5"/>
<line x1="416.4" y1="349.0" x2="416.4" y2="392.3" stroke="#cfeafa" stroke-width="0.5"/>
<line x1="417.2" y1="349.0" x2="417.2" y2="392.3" stroke="#cfeafa" stroke-width="0.5"/>
<line x1="418.1" y1="349.0" x2="418.1" y2="392.3" stroke="#cfeafa" stroke-width="0.5"/>
<line x1="418.9" y1="349.0" x2="418.9" y2="392.3" stroke="#cfeafa" stroke-width="0.5"/>
<line x1="419.8" y1="349.0" x2="419.8" y2="392.3" stroke="#cfeafa" stroke-width="0.5"/>
<line x1="420.6" y1="349.0" x2="420.6" y2="392.3" stroke="#cfeafa" stroke-width="0.5"/>
<line x1="421.5" y1="349.0" x2="421.5" y2="392.3" stroke="#cfeafa" stroke-width="0.5"/>
<line x1="422.3" y1="349.0" x2="422.3" y2="392.3" stroke="#cfeafa" stroke-width="0.5"/>
<line x1="423.2" y1="349.0" x2="423.2" y2="392.3" stroke="#cfeafa" stroke-width="0.5"/>
<line x1="424.0" y1="349.0" x2="424.0" y2="392.3" stroke="#cfeafa" stroke-width="0.5"/>
<line x1="424.9" y1="349.0" x2="424.9" y2="392.3" stroke="#cfeafa" stroke-width="0.5"/>
<line x1="425.7" y1="349.0" x2="425.7" y2="392.3" stroke="#cfeafa" stroke-width="0.5"/>
<line x1="426.6" y1="349.0" x2="426.6" y2="392.3" stroke="#cfeafa" stroke-width="0.5"/>
<line x1="427.4" y1="349.0" x2="427.4" y2="392.3" stroke="#cfeafa" stroke-width="0.5"/>
<line x1="428.3" y1="349.0" x2="428.3" y2="392.3" stroke="#cfeafa" stroke-width="0.5"/>
<line x1="429.1" y1="349.0" x2="429.1" y2="392.3" stroke="#cfeafa" stroke-width="0.5"/>
<line x1="430.0" y1="349.0" x2="430.0" y2="392.3" stroke="#cfeafa" stroke-width="0.5"/>
<line x1="430.8" y1="349.0" x2="430.8" y2="392.3" stroke="#cfeafa" stroke-width="0.5"/>
<line x1="431.7" y1="349.0" x2="431.7" y2="392.3" stroke="#cfeafa" stroke-width="0.5"/>
<line x1="432.5" y1="349.0" x2="432.5" y2="392.3" stroke="#cfeafa" stroke-width="0.5"/>
<line x1="433.4" y1="349.0" x2="433.4" y2="392.3" stroke="#cfeafa" stroke-width="0.5"/>
<line x1="434.2" y1="349.0" x2="434.2" y2="392.3" stroke="#cfeafa" stroke-width="0.5"/>
<line x1="435.1" y1="349.0" x2="435.1" y2="392.3" stroke="#cfeafa" stroke-width="0.5"/>
<line x1="435.9" y1="349.0" x2="435.9" y2="392.3" stroke="#cfeafa" stroke-width="0.5"/>
<line x1="436.8" y1="349.0" x2="436.8" y2="392.3" stroke="#cfeafa" stroke-width="0.5"/>
<line x1="437.6" y1="349.0" x2="437.6" y2="392.3" stroke="#cfeafa" stroke-width="0.5"/>
<line x1="438.5" y1="349.0" x2="438.5" y2="392.3" stroke="#cfeafa" stroke-width="0.5"/>
<line x1="439.3" y1="349.0" x2="439.3" y2="392.3" stroke="#cfeafa" stroke-width="0.5"/>
<line x1="440.2" y1="349.0" x2="440.2" y2="392.3" stroke="#cfeafa" stroke-width="0.5"/>
<line x1="441.0" y1="349.0" x2="441.0" y2="392.3" stroke="#cfeafa" stroke-width="0.5"/>
<line x1="441.9" y1="349.0" x2="441.9" y2="392.3" stroke="#cfeafa" stroke-width="0.5"/>
</g>
<rect x="293.4" y="382.4" width="238.8" height="7.2" fill="#e7529a"/>
<line x1="294.1" y1="383.6" x2="294.1" y2="388.6" stroke="#f49ac2" stroke-width="0.6"/>
<line x1="295.5" y1="383.6" x2="295.5" y2="388.6" stroke="#f49ac2" stroke-width="0.6"/>
<line x1="296.9" y1="383.6" x2="296.9" y2="388.6" stroke="#f49ac2" stroke-width="0.6"/>
<line x1="298.3" y1="383.6" x2="298.3" y2="388.6" stroke="#f49ac2" stroke-width="0.6"/>
<line x1="299.7" y1="383.6" x2="299.7" y2="388.6" stroke="#f49ac2" stroke-width="0.6"/>
<line x1="301.1" y1="383.6" x2="301.1" y2="388.6" stroke="#f49ac2" stroke-width="0.6"/>
<line x1="302.6" y1="383.6" x2="302.6" y2="388.6" stroke="#f49ac2" stroke-width="0.6"/>
<line x1="304.0" y1="383.6" x2="304.0" y2="388.6" stroke="#f49ac2" stroke-width="0.6"/>
<line x1="305.4" y1="383.6" x2="305.4" y2="388.6" stroke="#f49ac2" stroke-width="0.6"/>
<line x1="306.8" y1="383.6" x2="306.8" y2="388.6" stroke="#f49ac2" stroke-width="0.6"/>
<line x1="308.2" y1="383.6" x2="308.2" y2="388.6" stroke="#f49ac2" stroke-width="0.6"/>
<line x1="309.6" y1="383.6" x2="309.6" y2="388.6" stroke="#f49ac2" stroke-width="0.6"/>
<line x1="311.0" y1="383.6" x2="311.0" y2="388.6" stroke="#f49ac2" stroke-width="0.6"/>
<line x1="312.4" y1="383.6" x2="312.4" y2="388.6" stroke="#f49ac2" stroke-width="0.6"/>
<line x1="313.8" y1="383.6" x2="313.8" y2="388.6" stroke="#f49ac2" stroke-width="0.6"/>
<line x1="315.2" y1="383.6" x2="315.2" y2="388.6" stroke="#f49ac2" stroke-width="0.6"/>
<line x1="316.7" y1="383.6" x2="316.7" y2="388.6" stroke="#f49ac2" stroke-width="0.6"/>
<line x1="318.1" y1="383.6" x2="318.1" y2="388.6" stroke="#f49ac2" stroke-width="0.6"/>
<line x1="319.5" y1="383.6" x2="319.5" y2="388.6" stroke="#f49ac2" stroke-width="0.6"/>
<line x1="320.9" y1="383.6" x2="320.9" y2="388.6" stroke="#f49ac2" stroke-width="0.6"/>
<line x1="322.3" y1="383.6" x2="322.3" y2="388.6" stroke="#f49ac2" stroke-width="0.6"/>
<line x1="323.7" y1="383.6" x2="323.7" y2="388.6" stroke="#f49ac2" stroke-width="0.6"/>
<line x1="325.1" y1="383.6" x2="325.1" y2="388.6" stroke="#f49ac2" stroke-width="0.6"/>
<line x1="326.5" y1="383.6" x2="326.5" y2="388.6" stroke="#f49ac2" stroke-width="0.6"/>
<line x1="327.9" y1="383.6" x2="327.9" y2="388.6" stroke="#f49ac2" stroke-width="0.6"/>
<line x1="329.3" y1="383.6" x2="329.3" y2="388.6" stroke="#f49ac2" stroke-width="0.6"/>
<line x1="330.8" y1="383.6" x2="330.8" y2="388.6" stroke="#f49ac2" stroke-width="0.6"/>
<line x1="332.2" y1="383.6" x2="332.2" y2="388.6" stroke="#f49ac2" stroke-width="0.6"/>
<line x1="333.6" y1="383.6" x2="333.6" y2="388.6" stroke="#f49ac2" stroke-width="0.6"/>
<line x1="335.0" y1="383.6" x2="335.0" y2="388.6" stroke="#f49ac2" stroke-width="0.6"/>
<line x1="336.4" y1="383.6" x2="336.4" y2="388.6" stroke="#f49ac2" stroke-width="0.6"/>
<line x1="337.8" y1="383.6" x2="337.8" y2="388.6" stroke="#f49ac2" stroke-width="0.6"/>
<line x1="339.2" y1="383.6" x2="339.2" y2="388.6" stroke="#f49ac2" stroke-width="0.6"/>
<line x1="340.6" y1="383.6" x2="340.6" y2="388.6" stroke="#f49ac2" stroke-width="0.6"/>
<line x1="342.0" y1="383.6" x2="342.0" y2="388.6" stroke="#f49ac2" stroke-width="0.6"/>
<line x1="343.4" y1="383.6" x2="343.4" y2="388.6" stroke="#f49ac2" stroke-width="0.6"/>
<line x1="344.9" y1="383.6" x2="344.9" y2="388.6" stroke="#f49ac2" stroke-width="0.6"/>
<line x1="346.3" y1="383.6" x2="346.3" y2="388.6" stroke="#f49ac2" stroke-width="0.6"/>
<line x1="347.7" y1="383.6" x2="347.7" y2="388.6" stroke="#f49ac2" stroke-width="0.6"/>
<line x1="349.1" y1="383.6" x2="349.1" y2="388.6" stroke="#f49ac2" stroke-width="0.6"/>
<line x1="350.5" y1="383.6" x2="350.5" y2="388.6" stroke="#f49ac2" stroke-width="0.6"/>
<line x1="351.9" y1="383.6" x2="351.9" y2="388.6" stroke="#f49ac2" stroke-width="0.6"/>
<line x1="353.3" y1="383.6" x2="353.3" y2="388.6" stroke="#f49ac2" stroke-width="0.6"/>
<line x1="354.7" y1="383.6" x2="354.7" y2="388.6" stroke="#f49ac2" stroke-width="0.6"/>
<line x1="356.1" y1="383.6" x2="356.1" y2="388.6" stroke="#f49ac2" stroke-width="0.6"/>
<line x1="357.5" y1="383.6" x2="357.5" y2="388.6" stroke="#f49ac2" stroke-width="0.6"/>
<line x1="358.9" y1="383.6" x2="358.9" y2="388.6" stroke="#f49ac2" stroke-width="0.6"/>
<line x1="360.4" y1="383.6" x2="360.4" y2="388.6" stroke="#f49ac2" stroke-width="0.6"/>
<line x1="361.8" y1="383.6" x2="361.8" y2="388.6" stroke="#f49ac2" stroke-width="0.6"/>
<line x1="363.2" y1="383.6" x2="363.2" y2="388.6" stroke="#f49ac2" stroke-width="0.6"/>
<line x1="364.6" y1="383.6" x2="364.6" y2="388.6" stroke="#f49ac2" stroke-width="0.6"/>
<line x1="366.0" y1="383.6" x2="366.0" y2="388.6" stroke="#f49ac2" stroke-width="0.6"/>
<line x1="367.4" y1="383.6" x2="367.4" y2="388.6" stroke="#f49ac2" stroke-width="0.6"/>
<line x1="368.8" y1="383.6" x2="368.8" y2="388.6" stroke="#f49ac2" stroke-width="0.6"/>
<line x1="370.2" y1="383.6" x2="370.2" y2="388.6" stroke="#f49ac2" stroke-width="0.6"/>
<line x1="371.6" y1="383.6" x2="371.6" y2="388.6" stroke="#f49ac2" stroke-width="0.6"/>
<line x1="373.0" y1="383.6" x2="373.0" y2="388.6" stroke="#f49ac2" stroke-width="0.6"/>
<line x1="374.5" y1="383.6" x2="374.5" y2="388.6" stroke="#f49ac2" stroke-width="0.6"/>
<line x1="375.9" y1="383.6" x2="375.9" y2="388.6" stroke="#f49ac2" stroke-width="0.6"/>
<line x1="377.3" y1="383.6" x2="377.3" y2="388.6" stroke="#f49ac2" stroke-width="0.6"/>
<line x1="378.7" y1="383.6" x2="378.7" y2="388.6" stroke="#f49ac2" stroke-width="0.6"/>
<line x1="380.1" y1="383.6" x2="380.1" y2="388.6" stroke="#f49ac2" stroke-width="0.6"/>
<line x1="381.5" y1="383.6" x2="381.5" y2="388.6" stroke="#f49ac2" stroke-width="0.6"/>
<line x1="382.9" y1="383.6" x2="382.9" y2="388.6" stroke="#f49ac2" stroke-width="0.6"/>
<line x1="384.3" y1="383.6" x2="384.3" y2="388.6" stroke="#f49ac2" stroke-width="0.6"/>
<line x1="385.7" y1="383.6" x2="385.7" y2="388.6" stroke="#f49ac2" stroke-width="0.6"/>
<line x1="387.1" y1="383.6" x2="387.1" y2="388.6" stroke="#f49ac2" stroke-width="0.6"/>
<line x1="388.6" y1="383.6" x2="388.6" y2="388.6" stroke="#f49ac2" stroke-width="0.6"/>
<line x1="390.0" y1="383.6" x2="390.0" y2="388.6" stroke="#f49ac2" stroke-width="0.6"/>
<line x1="391.4" y1="383.6" x2="391.4" y2="388.6" stroke="#f49ac2" stroke-width="0.6"/>
<line x1="392.8" y1="383.6" x2="392.8" y2="388.6" stroke="#f49ac2" stroke-width="0.6"/>
<line x1="394.2" y1="383.6" x2="394.2" y2="388.6" stroke="#f49ac2" stroke-width="0.6"/>
<line x1="395.6" y1="383.6" x2="395.6" y2="388.6" stroke="#f49ac2" stroke-width="0.6"/>
<line x1="397.0" y1="383.6" x2="397.0" y2="388.6" stroke="#f49ac2" stroke-width="0.6"/>
<line x1="398.4" y1="383.6" x2="398.4" y2="388.6" stroke="#f49ac2" stroke-width="0.6"/>
<line x1="399.8" y1="383.6" x2="399.8" y2="388.6" stroke="#f49ac2" stroke-width="0.6"/>
<line x1="401.2" y1="383.6" x2="401.2" y2="388.6" stroke="#f49ac2" stroke-width="0.6"/>
<line x1="402.7" y1="383.6" x2="402.7" y2="388.6" stroke="#f49ac2" stroke-width="0.6"/>
<line x1="404.1" y1="383.6" x2="404.1" y2="388.6" stroke="#f49ac2" stroke-width="0.6"/>
<line x1="405.5" y1="383.6" x2="405.5" y2="388.6" stroke="#f49ac2" stroke-width="0.6"/>
<line x1="406.9" y1="383.6" x2="406.9" y2="388.6" stroke="#f49ac2" stroke-width="0.6"/>
<line x1="408.3" y1="383.6" x2="408.3" y2="388.6" stroke="#f49ac2" stroke-width="0.6"/>
<line x1="409.7" y1="383.6" x2="409.7" y2="388.6" stroke="#f49ac2" stroke-width="0.6"/>
<line x1="411.1" y1="383.6" x2="411.1" y2="388.6" stroke="#f49ac2" stroke-width="0.6"/>
<line x1="412.5" y1="383.6" x2="412.5" y2="388.6" stroke="#f49ac2" stroke-width="0.6"/>
<line x1="413.9" y1="383.6" x2="413.9" y2="388.6" stroke="#f49ac2" stroke-width="0.6"/>
<line x1="415.3" y1="383.6" x2="415.3" y2="388.6" stroke="#f49ac2" stroke-width="0.6"/>
<line x1="416.8" y1="383.6" x2="416.8" y2="388.6" stroke="#f49ac2" stroke-width="0.6"/>
<line x1="418.2" y1="383.6" x2="418.2" y2="388.6" stroke="#f49ac2" stroke-width="0.6"/>
<line x1="419.6" y1="383.6" x2="419.6" y2="388.6" stroke="#f49ac2" stroke-width="0.6"/>
<line x1="421.0" y1="383.6" x2="421.0" y2="388.6" stroke="#f49ac2" stroke-width="0.6"/>
<line x1="422.4" y1="383.6" x2="422.4" y2="388.6" stroke="#f49ac2" stroke-width="0.6"/>
<line x1="423.8" y1="383.6" x2="423.8" y2="388.6" stroke="#f49ac2" stroke-width="0.6"/>
<line x1="425.2" y1="383.6" x2="425.2" y2="388.6" stroke="#f49ac2" stroke-width="0.6"/>
<line x1="426.6" y1="383.6" x2="426.6" y2="388.6" stroke="#f49ac2" stroke-width="0.6"/>
<line x1="428.0" y1="383.6" x2="428.0" y2="388.6" stroke="#f49ac2" stroke-width="0.6"/>
<line x1="429.4" y1="383.6" x2="429.4" y2="388.6" stroke="#f49ac2" stroke-width="0.6"/>
<line x1="430.8" y1="383.6" x2="430.8" y2="388.6" stroke="#f49ac2" stroke-width="0.6"/>
<line x1="432.3" y1="383.6" x2="432.3" y2="388.6" stroke="#f49ac2" stroke-width="0.6"/>
<line x1="433.7" y1="383.6" x2="433.7" y2="388.6" stroke="#f49ac2" stroke-width="0.6"/>
<line x1="435.1" y1="383.6" x2="435.1" y2="388.6" stroke="#f49ac2" stroke-width="0.6"/>
<line x1="436.5" y1="383.6" x2="436.5" y2="388.6" stroke="#f49ac2" stroke-width="0.6"/>
<line x1="437.9" y1="383.6" x2="437.9" y2="388.6" stroke="#f49ac2" stroke-width="0.6"/>
<line x1="439.3" y1="383.6" x2="439.3" y2="388.6" stroke="#f49ac2" stroke-width="0.6"/>
<line x1="440.7" y1="383.6" x2="440.7" y2="388.6" stroke="#f49ac2" stroke-width="0.6"/>
<line x1="442.1" y1="383.6" x2="442.1" y2="388.6" stroke="#f49ac2" stroke-width="0.6"/>
<line x1="443.5" y1="383.6" x2="443.5" y2="388.6" stroke="#f49ac2" stroke-width="0.6"/>
<line x1="444.9" y1="383.6" x2="444.9" y2="388.6" stroke="#f49ac2" stroke-width="0.6"/>
<line x1="446.4" y1="383.6" x2="446.4" y2="388.6" stroke="#f49ac2" stroke-width="0.6"/>
<line x1="447.8" y1="383.6" x2="447.8" y2="388.6" stroke="#f49ac2" stroke-width="0.6"/>
<line x1="449.2" y1="383.6" x2="449.2" y2="388.6" stroke="#f49ac2" stroke-width="0.6"/>
<line x1="450.6" y1="383.6" x2="450.6" y2="388.6" stroke="#f49ac2" stroke-width="0.6"/>
<line x1="452.0" y1="383.6" x2="452.0" y2="388.6" stroke="#f49ac2" stroke-width="0.6"/>
<line x1="453.4" y1="383.6" x2="453.4" y2="388.6" stroke="#f49ac2" stroke-width="0.6"/>
<line x1="454.8" y1="383.6" x2="454.8" y2="388.6" stroke="#f49ac2" stroke-width="0.6"/>
<line x1="456.2" y1="383.6" x2="456.2" y2="388.6" stroke="#f49ac2" stroke-width="0.6"/>
<line x1="457.6" y1="383.6" x2="457.6" y2="388.6" stroke="#f49ac2" stroke-width="0.6"/>
<line x1="459.0" y1="383.6" x2="459.0" y2="388.6" stroke="#f49ac2" stroke-width="0.6"/>
<line x1="460.5" y1="383.6" x2="460.5" y2="388.6" stroke="#f49ac2" stroke-width="0.6"/>
<line x1="461.9" y1="383.6" x2="461.9" y2="388.6" stroke="#f49ac2" stroke-width="0.6"/>
<line x1="463.3" y1="383.6" x2="463.3" y2="388.6" stroke="#f49ac2" stroke-width="0.6"/>
<line x1="464.7" y1="383.6" x2="464.7" y2="388.6" stroke="#f49ac2" stroke-width="0.6"/>
<line x1="466.1" y1="383.6" x2="466.1" y2="388.6" stroke="#f49ac2" stroke-width="0.6"/>
<line x1="467.5" y1="383.6" x2="467.5" y2="388.6" stroke="#f49ac2" stroke-width="0.6"/>
<line x1="468.9" y1="383.6" x2="468.9" y2="388.6" stroke="#f49ac2" stroke-width="0.6"/>
<line x1="470.3" y1="383.6" x2="470.3" y2="388.6" stroke="#f49ac2" stroke-width="0.6"/>
<line x1="471.7" y1="383.6" x2="471.7" y2="388.6" stroke="#f49ac2" stroke-width="0.6"/>
<line x1="473.1" y1="383.6" x2="473.1" y2="388.6" stroke="#f49ac2" stroke-width="0.6"/>
<line x1="474.6" y1="383.6" x2="474.6" y2="388.6" stroke="#f49ac2" stroke-width="0.6"/>
<line x1="476.0" y1="383.6" x2="476.0" y2="388.6" stroke="#f49ac2" stroke-width="0.6"/>
<line x1="477.4" y1="383.6" x2="477.4" y2="388.6" stroke="#f49ac2" stroke-width="0.6"/>
<line x1="478.8" y1="383.6" x2="478.8" y2="388.6" stroke="#f49ac2" stroke-width="0.6"/>
<line x1="480.2" y1="383.6" x2="480.2" y2="388.6" stroke="#f49ac2" stroke-width="0.6"/>
<line x1="481.6" y1="383.6" x2="481.6" y2="388.6" stroke="#f49ac2" stroke-width="0.6"/>
<line x1="483.0" y1="383.6" x2="483.0" y2="388.6" stroke="#f49ac2" stroke-width="0.6"/>
<line x1="484.4" y1="383.6" x2="484.4" y2="388.6" stroke="#f49ac2" stroke-width="0.6"/>
<line x1="485.8" y1="383.6" x2="485.8" y2="388.6" stroke="#f49ac2" stroke-width="0.6"/>
<line x1="487.2" y1="383.6" x2="487.2" y2="388.6" stroke="#f49ac2" stroke-width="0.6"/>
<line x1="488.7" y1="383.6" x2="488.7" y2="388.6" stroke="#f49ac2" stroke-width="0.6"/>
<line x1="490.1" y1="383.6" x2="490.1" y2="388.6" stroke="#f49ac2" stroke-width="0.6"/>
<line x1="491.5" y1="383.6" x2="491.5" y2="388.6" stroke="#f49ac2" stroke-width="0.6"/>
<line x1="492.9" y1="383.6" x2="492.9" y2="388.6" stroke="#f49ac2" stroke-width="0.6"/>
<line x1="494.3" y1="383.6" x2="494.3" y2="388.6" stroke="#f49ac2" stroke-width="0.6"/>
<line x1="495.7" y1="383.6" x2="495.7" y2="388.6" stroke="#f49ac2" stroke-width="0.6"/>
<line x1="497.1" y1="383.6" x2="497.1" y2="388.6" stroke="#f49ac2" stroke-width="0.6"/>
<line x1="498.5" y1="383.6" x2="498.5" y2="388.6" stroke="#f49ac2" stroke-width="0.6"/>
<line x1="499.9" y1="383.6" x2="499.9" y2="388.6" stroke="#f49ac2" stroke-width="0.6"/>
<line x1="501.3" y1="383.6" x2="501.3" y2="388.6" stroke="#f49ac2" stroke-width="0.6"/>
<line x1="502.7" y1="383.6" x2="502.7" y2="388.6" stroke="#f49ac2" stroke-width="0.6"/>
<line x1="504.2" y1="383.6" x2="504.2" y2="388.6" stroke="#f49ac2" stroke-width="0.6"/>
<line x1="505.6" y1="383.6" x2="505.6" y2="388.6" stroke="#f49ac2" stroke-width="0.6"/>
<line x1="507.0" y1="383.6" x2="507.0" y2="388.6" stroke="#f49ac2" stroke-width="0.6"/>
<line x1="508.4" y1="383.6" x2="508.4" y2="388.6" stroke="#f49ac2" stroke-width="0.6"/>
<line x1="509.8" y1="383.6" x2="509.8" y2="388.6" stroke="#f49ac2" stroke-width="0.6"/>
<line x1="511.2" y1="383.6" x2="511.2" y2="388.6" stroke="#f49ac2" stroke-width="0.6"/>
<line x1="512.6" y1="383.6" x2="512.6" y2="388.6" stroke="#f49ac2" stroke-width="0.6"/>
<line x1="514.0" y1="383.6" x2="514.0" y2="388.6" stroke="#f49ac2" stroke-width="0.6"/>
<line x1="515.4" y1="383.6" x2="515.4" y2="388.6" stroke="#f49ac2" stroke-width="0.6"/>
<line x1="516.8" y1="383.6" x2="516.8" y2="388.6" stroke="#f49ac2" stroke-width="0.6"/>
<line x1="518.3" y1="383.6" x2="518.3" y2="388.6" stroke="#f49ac2" stroke-width="0.6"/>
<line x1="519.7" y1="383.6" x2="519.7" y2="388.6" stroke="#f49ac2" stroke-width="0.6"/>
<line x1="521.1" y1="383.6" x2="521.1" y2="388.6" stroke="#f49ac2" stroke-width="0.6"/>
<line x1="522.5" y1="383.6" x2="522.5" y2="388.6" stroke="#f49ac2" stroke-width="0.6"/>
<line x1="523.9" y1="383.6" x2="523.9" y2="388.6" stroke="#f49ac2" stroke-width="0.6"/>
<line x1="525.3" y1="383.6" x2="525.3" y2="388.6" stroke="#f49ac2" stroke-width="0.6"/>
<line x1="526.7" y1="383.6" x2="526.7" y2="388.6" stroke="#f49ac2" stroke-width="0.6"/>
<line x1="528.1" y1="383.6" x2="528.1" y2="388.6" stroke="#f49ac2" stroke-width="0.6"/>
<line x1="529.5" y1="383.6" x2="529.5" y2="388.6" stroke="#f49ac2" stroke-width="0.6"/>
<line x1="530.9" y1="383.6" x2="530.9" y2="388.6" stroke="#f49ac2" stroke-width="0.6"/>
<rect x="290.5" y="349.0" width="242.20" height="74.20" fill="none" stroke="#111" stroke-width="1"/>
<text x="288.30" y="350.99" font-size="5.6" fill="#222" stroke="#222" stroke-width="0.078" text-anchor="end" font-weight="bold" font-family="Liberation Sans, sans-serif" >0.3</text>
<line x1="288.70" y1="348.99" x2="290.50" y2="348.99" stroke="#111" stroke-width="0.7" />
<text x="288.30" y="363.36" font-size="5.6" fill="#222" stroke="#222" stroke-width="0.078" text-anchor="end" font-weight="bold" font-family="Liberation Sans, sans-serif" >0.2</text>
<line x1="288.70" y1="361.36" x2="290.50" y2="361.36" stroke="#111" stroke-width="0.7" />
<text x="288.30" y="375.73" font-size="5.6" fill="#222" stroke="#222" stroke-width="0.078" text-anchor="end" font-weight="bold" font-family="Liberation Sans, sans-serif" >0.1</text>
<line x1="288.70" y1="373.73" x2="290.50" y2="373.73" stroke="#111" stroke-width="0.7" />
<text x="288.30" y="388.10" font-size="5.6" fill="#222" stroke="#222" stroke-width="0.078" text-anchor="end" font-weight="bold" font-family="Liberation Sans, sans-serif" >0.0</text>
<line x1="288.70" y1="386.10" x2="290.50" y2="386.10" stroke="#111" stroke-width="0.7" />
<text x="288.30" y="400.47" font-size="5.6" fill="#222" stroke="#222" stroke-width="0.078" text-anchor="end" font-weight="bold" font-family="Liberation Sans, sans-serif" >-0.1</text>
<line x1="288.70" y1="398.47" x2="290.50" y2="398.47" stroke="#111" stroke-width="0.7" />
<text x="288.30" y="412.84" font-size="5.6" fill="#222" stroke="#222" stroke-width="0.078" text-anchor="end" font-weight="bold" font-family="Liberation Sans, sans-serif" >-0.2</text>
<line x1="288.70" y1="410.84" x2="290.50" y2="410.84" stroke="#111" stroke-width="0.7" />
<text x="288.30" y="425.21" font-size="5.6" fill="#222" stroke="#222" stroke-width="0.078" text-anchor="end" font-weight="bold" font-family="Liberation Sans, sans-serif" >-0.3</text>
<line x1="288.70" y1="423.21" x2="290.50" y2="423.21" stroke="#111" stroke-width="0.7" />
<text x="293.30" y="430.50" font-size="5.6" fill="#222" stroke="#222" stroke-width="0.078" text-anchor="middle" font-weight="bold" font-family="Liberation Sans, sans-serif" >0</text>
<line x1="293.30" y1="423.20" x2="293.30" y2="425.00" stroke="#111" stroke-width="0.7" />
<text x="319.90" y="430.50" font-size="5.6" fill="#222" stroke="#222" stroke-width="0.078" text-anchor="middle" font-weight="bold" font-family="Liberation Sans, sans-serif" >100</text>
<line x1="319.90" y1="423.20" x2="319.90" y2="425.00" stroke="#111" stroke-width="0.7" />
<text x="346.50" y="430.50" font-size="5.6" fill="#222" stroke="#222" stroke-width="0.078" text-anchor="middle" font-weight="bold" font-family="Liberation Sans, sans-serif" >200</text>
<line x1="346.50" y1="423.20" x2="346.50" y2="425.00" stroke="#111" stroke-width="0.7" />
<text x="373.10" y="430.50" font-size="5.6" fill="#222" stroke="#222" stroke-width="0.078" text-anchor="middle" font-weight="bold" font-family="Liberation Sans, sans-serif" >300</text>
<line x1="373.10" y1="423.20" x2="373.10" y2="425.00" stroke="#111" stroke-width="0.7" />
<text x="399.70" y="430.50" font-size="5.6" fill="#222" stroke="#222" stroke-width="0.078" text-anchor="middle" font-weight="bold" font-family="Liberation Sans, sans-serif" >400</text>
<line x1="399.70" y1="423.20" x2="399.70" y2="425.00" stroke="#111" stroke-width="0.7" />
<text x="426.30" y="430.50" font-size="5.6" fill="#222" stroke="#222" stroke-width="0.078" text-anchor="middle" font-weight="bold" font-family="Liberation Sans, sans-serif" >500</text>
<line x1="426.30" y1="423.20" x2="426.30" y2="425.00" stroke="#111" stroke-width="0.7" />
<text x="452.90" y="430.50" font-size="5.6" fill="#222" stroke="#222" stroke-width="0.078" text-anchor="middle" font-weight="bold" font-family="Liberation Sans, sans-serif" >600</text>
<line x1="452.90" y1="423.20" x2="452.90" y2="425.00" stroke="#111" stroke-width="0.7" />
<text x="479.50" y="430.50" font-size="5.6" fill="#222" stroke="#222" stroke-width="0.078" text-anchor="middle" font-weight="bold" font-family="Liberation Sans, sans-serif" >700</text>
<line x1="479.50" y1="423.20" x2="479.50" y2="425.00" stroke="#111" stroke-width="0.7" />
<text x="506.10" y="430.50" font-size="5.6" fill="#222" stroke="#222" stroke-width="0.078" text-anchor="middle" font-weight="bold" font-family="Liberation Sans, sans-serif" >800</text>
<line x1="506.10" y1="423.20" x2="506.10" y2="425.00" stroke="#111" stroke-width="0.7" />
<text x="532.70" y="430.50" font-size="5.6" fill="#222" stroke="#222" stroke-width="0.078" text-anchor="middle" font-weight="bold" font-family="Liberation Sans, sans-serif" >900</text>
<line x1="532.70" y1="423.20" x2="532.70" y2="425.00" stroke="#111" stroke-width="0.7" />
<text x="0" y="0" font-size="5.5" fill="#222" text-anchor="middle" font-weight="bold" font-family="Liberation Sans, sans-serif" transform="translate(275.10,383.20) rotate(-90)" dominant-baseline="central">Voltage (V)</text>
<text x="414.20" y="436.50" font-size="5.8" fill="#222" stroke="#222" stroke-width="0.081" text-anchor="middle" font-weight="bold" font-family="Liberation Sans, sans-serif" >Time (h)</text>
<line x1="468.60" y1="408.00" x2="481.00" y2="408.00" stroke="#8fcff0" stroke-width="1" />
<line x1="468.60" y1="414.50" x2="481.00" y2="414.50" stroke="#e7529a" stroke-width="1" />
<text x="482.50" y="410.70" font-size="5.2" fill="#222" stroke="#222" stroke-width="0.073" text-anchor="start" font-weight="bold" font-family="Liberation Sans, sans-serif" >raw Li&#160;&#160;&#160;90min</text>
<text x="482.50" y="417.40" font-size="5.2" fill="#222" stroke="#222" stroke-width="0.073" text-anchor="start" font-weight="bold" font-family="Liberation Sans, sans-serif" >Zn0.1M@Li 90min</text>
<rect x="291.8" y="453.9" width="1.2" height="63.8" fill="#8fcff0"/>
<rect x="293.2" y="453.9" width="1.0" height="35.6" fill="#8fcff0"/>
<rect x="403.0" y="464.7" width="1.0" height="17.2" fill="#8fcff0"/>
<polygon points="409.11,465.10 413.15,465.48 425.29,466.23 433.38,466.98 445.51,468.10 457.64,468.85 465.74,469.23 465.74,481.98 445.51,482.73 409.11,481.98" fill="#8fcff0" />
<clipPath id="cf2"><polygon points="409.11,465.10 413.15,465.48 425.29,466.23 433.38,466.98 445.51,468.10 457.64,468.85 465.74,469.23 465.74,481.98 445.51,482.73 409.11,481.98"/></clipPath>
<g clip-path="url(#cf2)">
<line x1="409.5" y1="461.4" x2="409.5" y2="483.9" stroke="#e4f4fc" stroke-width="0.7"/>
<line x1="410.6" y1="461.4" x2="410.6" y2="483.9" stroke="#e4f4fc" stroke-width="0.7"/>
<line x1="411.6" y1="461.4" x2="411.6" y2="483.9" stroke="#e4f4fc" stroke-width="0.7"/>
<line x1="412.7" y1="461.4" x2="412.7" y2="483.9" stroke="#e4f4fc" stroke-width="0.7"/>
<line x1="413.7" y1="461.4" x2="413.7" y2="483.9" stroke="#e4f4fc" stroke-width="0.7"/>
<line x1="414.8" y1="461.4" x2="414.8" y2="483.9" stroke="#e4f4fc" stroke-width="0.7"/>
<line x1="415.8" y1="461.4" x2="415.8" y2="483.9" stroke="#e4f4fc" stroke-width="0.7"/>
<line x1="416.9" y1="461.4" x2="416.9" y2="483.9" stroke="#e4f4fc" stroke-width="0.7"/>
<line x1="417.9" y1="461.4" x2="417.9" y2="483.9" stroke="#e4f4fc" stroke-width="0.7"/>
<line x1="419.0" y1="461.4" x2="419.0" y2="483.9" stroke="#e4f4fc" stroke-width="0.7"/>
<line x1="420.0" y1="461.4" x2="420.0" y2="483.9" stroke="#e4f4fc" stroke-width="0.7"/>
<line x1="421.1" y1="461.4" x2="421.1" y2="483.9" stroke="#e4f4fc" stroke-width="0.7"/>
<line x1="422.1" y1="461.4" x2="422.1" y2="483.9" stroke="#e4f4fc" stroke-width="0.7"/>
<line x1="423.2" y1="461.4" x2="423.2" y2="483.9" stroke="#e4f4fc" stroke-width="0.7"/>
<line x1="424.2" y1="461.4" x2="424.2" y2="483.9" stroke="#e4f4fc" stroke-width="0.7"/>
<line x1="425.3" y1="461.4" x2="425.3" y2="483.9" stroke="#e4f4fc" stroke-width="0.7"/>
<line x1="426.3" y1="461.4" x2="426.3" y2="483.9" stroke="#e4f4fc" stroke-width="0.7"/>
<line x1="427.4" y1="461.4" x2="427.4" y2="483.9" stroke="#e4f4fc" stroke-width="0.7"/>
<line x1="428.4" y1="461.4" x2="428.4" y2="483.9" stroke="#e4f4fc" stroke-width="0.7"/>
<line x1="429.5" y1="461.4" x2="429.5" y2="483.9" stroke="#e4f4fc" stroke-width="0.7"/>
<line x1="430.5" y1="461.4" x2="430.5" y2="483.9" stroke="#e4f4fc" stroke-width="0.7"/>
<line x1="431.6" y1="461.4" x2="431.6" y2="483.9" stroke="#e4f4fc" stroke-width="0.7"/>
<line x1="432.6" y1="461.4" x2="432.6" y2="483.9" stroke="#e4f4fc" stroke-width="0.7"/>
<line x1="433.7" y1="461.4" x2="433.7" y2="483.9" stroke="#e4f4fc" stroke-width="0.7"/>
<line x1="434.8" y1="461.4" x2="434.8" y2="483.9" stroke="#e4f4fc" stroke-width="0.7"/>
<line x1="435.8" y1="461.4" x2="435.8" y2="483.9" stroke="#e4f4fc" stroke-width="0.7"/>
<line x1="436.9" y1="461.4" x2="436.9" y2="483.9" stroke="#e4f4fc" stroke-width="0.7"/>
<line x1="437.9" y1="461.4" x2="437.9" y2="483.9" stroke="#e4f4fc" stroke-width="0.7"/>
<line x1="439.0" y1="461.4" x2="439.0" y2="483.9" stroke="#e4f4fc" stroke-width="0.7"/>
<line x1="440.0" y1="461.4" x2="440.0" y2="483.9" stroke="#e4f4fc" stroke-width="0.7"/>
<line x1="441.1" y1="461.4" x2="441.1" y2="483.9" stroke="#e4f4fc" stroke-width="0.7"/>
<line x1="442.1" y1="461.4" x2="442.1" y2="483.9" stroke="#e4f4fc" stroke-width="0.7"/>
<line x1="443.2" y1="461.4" x2="443.2" y2="483.9" stroke="#e4f4fc" stroke-width="0.7"/>
<line x1="444.2" y1="461.4" x2="444.2" y2="483.9" stroke="#e4f4fc" stroke-width="0.7"/>
<line x1="445.3" y1="461.4" x2="445.3" y2="483.9" stroke="#e4f4fc" stroke-width="0.7"/>
<line x1="446.3" y1="461.4" x2="446.3" y2="483.9" stroke="#e4f4fc" stroke-width="0.7"/>
<line x1="447.4" y1="461.4" x2="447.4" y2="483.9" stroke="#e4f4fc" stroke-width="0.7"/>
<line x1="448.4" y1="461.4" x2="448.4" y2="483.9" stroke="#e4f4fc" stroke-width="0.7"/>
<line x1="449.5" y1="461.4" x2="449.5" y2="483.9" stroke="#e4f4fc" stroke-width="0.7"/>
<line x1="450.5" y1="461.4" x2="450.5" y2="483.9" stroke="#e4f4fc" stroke-width="0.7"/>
<line x1="451.6" y1="461.4" x2="451.6" y2="483.9" stroke="#e4f4fc" stroke-width="0.7"/>
<line x1="452.6" y1="461.4" x2="452.6" y2="483.9" stroke="#e4f4fc" stroke-width="0.7"/>
<line x1="453.7" y1="461.4" x2="453.7" y2="483.9" stroke="#e4f4fc" stroke-width="0.7"/>
<line x1="454.7" y1="461.4" x2="454.7" y2="483.9" stroke="#e4f4fc" stroke-width="0.7"/>
<line x1="455.8" y1="461.4" x2="455.8" y2="483.9" stroke="#e4f4fc" stroke-width="0.7"/>
<line x1="456.8" y1="461.4" x2="456.8" y2="483.9" stroke="#e4f4fc" stroke-width="0.7"/>
<line x1="457.9" y1="461.4" x2="457.9" y2="483.9" stroke="#e4f4fc" stroke-width="0.7"/>
<line x1="458.9" y1="461.4" x2="458.9" y2="483.9" stroke="#e4f4fc" stroke-width="0.7"/>
<line x1="460.0" y1="461.4" x2="460.0" y2="483.9" stroke="#e4f4fc" stroke-width="0.7"/>
<line x1="461.0" y1="461.4" x2="461.0" y2="483.9" stroke="#e4f4fc" stroke-width="0.7"/>
<line x1="462.1" y1="461.4" x2="462.1" y2="483.9" stroke="#e4f4fc" stroke-width="0.7"/>
<line x1="463.1" y1="461.4" x2="463.1" y2="483.9" stroke="#e4f4fc" stroke-width="0.7"/>
<line x1="464.2" y1="461.4" x2="464.2" y2="483.9" stroke="#e4f4fc" stroke-width="0.7"/>
<line x1="465.2" y1="461.4" x2="465.2" y2="483.9" stroke="#e4f4fc" stroke-width="0.7"/>
</g>
<rect x="292.0" y="478.8" width="241.5" height="2.6" fill="#e7529a"/>
<line x1="295.0" y1="479.4" x2="295.0" y2="480.9" stroke="#f49ac2" stroke-width="0.8"/>
<line x1="296.9" y1="479.4" x2="296.9" y2="480.9" stroke="#f49ac2" stroke-width="0.8"/>
<line x1="298.8" y1="479.4" x2="298.8" y2="480.9" stroke="#f49ac2" stroke-width="0.8"/>
<line x1="300.6" y1="479.4" x2="300.6" y2="480.9" stroke="#f49ac2" stroke-width="0.8"/>
<line x1="302.5" y1="479.4" x2="302.5" y2="480.9" stroke="#f49ac2" stroke-width="0.8"/>
<line x1="304.3" y1="479.4" x2="304.3" y2="480.9" stroke="#f49ac2" stroke-width="0.8"/>
<line x1="306.2" y1="479.4" x2="306.2" y2="480.9" stroke="#f49ac2" stroke-width="0.8"/>
<line x1="308.1" y1="479.4" x2="308.1" y2="480.9" stroke="#f49ac2" stroke-width="0.8"/>
<line x1="309.9" y1="479.4" x2="309.9" y2="480.9" stroke="#f49ac2" stroke-width="0.8"/>
<line x1="311.8" y1="479.4" x2="311.8" y2="480.9" stroke="#f49ac2" stroke-width="0.8"/>
<line x1="313.6" y1="479.4" x2="313.6" y2="480.9" stroke="#f49ac2" stroke-width="0.8"/>
<line x1="315.5" y1="479.4" x2="315.5" y2="480.9" stroke="#f49ac2" stroke-width="0.8"/>
<line x1="317.4" y1="479.4" x2="317.4" y2="480.9" stroke="#f49ac2" stroke-width="0.8"/>
<line x1="319.2" y1="479.4" x2="319.2" y2="480.9" stroke="#f49ac2" stroke-width="0.8"/>
<line x1="321.1" y1="479.4" x2="321.1" y2="480.9" stroke="#f49ac2" stroke-width="0.8"/>
<line x1="322.9" y1="479.4" x2="322.9" y2="480.9" stroke="#f49ac2" stroke-width="0.8"/>
<line x1="324.8" y1="479.4" x2="324.8" y2="480.9" stroke="#f49ac2" stroke-width="0.8"/>
<line x1="326.7" y1="479.4" x2="326.7" y2="480.9" stroke="#f49ac2" stroke-width="0.8"/>
<line x1="328.5" y1="479.4" x2="328.5" y2="480.9" stroke="#f49ac2" stroke-width="0.8"/>
<line x1="330.4" y1="479.4" x2="330.4" y2="480.9" stroke="#f49ac2" stroke-width="0.8"/>
<line x1="332.2" y1="479.4" x2="332.2" y2="480.9" stroke="#f49ac2" stroke-width="0.8"/>
<line x1="334.1" y1="479.4" x2="334.1" y2="480.9" stroke="#f49ac2" stroke-width="0.8"/>
<line x1="336.0" y1="479.4" x2="336.0" y2="480.9" stroke="#f49ac2" stroke-width="0.8"/>
<line x1="337.8" y1="479.4" x2="337.8" y2="480.9" stroke="#f49ac2" stroke-width="0.8"/>
<line x1="339.7" y1="479.4" x2="339.7" y2="480.9" stroke="#f49ac2" stroke-width="0.8"/>
<line x1="341.6" y1="479.4" x2="341.6" y2="480.9" stroke="#f49ac2" stroke-width="0.8"/>
<line x1="343.4" y1="479.4" x2="343.4" y2="480.9" stroke="#f49ac2" stroke-width="0.8"/>
<line x1="345.3" y1="479.4" x2="345.3" y2="480.9" stroke="#f49ac2" stroke-width="0.8"/>
<line x1="347.1" y1="479.4" x2="347.1" y2="480.9" stroke="#f49ac2" stroke-width="0.8"/>
<line x1="349.0" y1="479.4" x2="349.0" y2="480.9" stroke="#f49ac2" stroke-width="0.8"/>
<line x1="350.9" y1="479.4" x2="350.9" y2="480.9" stroke="#f49ac2" stroke-width="0.8"/>
<line x1="352.7" y1="479.4" x2="352.7" y2="480.9" stroke="#f49ac2" stroke-width="0.8"/>
<line x1="354.6" y1="479.4" x2="354.6" y2="480.9" stroke="#f49ac2" stroke-width="0.8"/>
<line x1="356.4" y1="479.4" x2="356.4" y2="480.9" stroke="#f49ac2" stroke-width="0.8"/>
<line x1="358.3" y1="479.4" x2="358.3" y2="480.9" stroke="#f49ac2" stroke-width="0.8"/>
<line x1="360.2" y1="479.4" x2="360.2" y2="480.9" stroke="#f49ac2" stroke-width="0.8"/>
<line x1="362.0" y1="479.4" x2="362.0" y2="480.9" stroke="#f49ac2" stroke-width="0.8"/>
<line x1="363.9" y1="479.4" x2="363.9" y2="480.9" stroke="#f49ac2" stroke-width="0.8"/>
<line x1="365.7" y1="479.4" x2="365.7" y2="480.9" stroke="#f49ac2" stroke-width="0.8"/>
<line x1="367.6" y1="479.4" x2="367.6" y2="480.9" stroke="#f49ac2" stroke-width="0.8"/>
<line x1="369.5" y1="479.4" x2="369.5" y2="480.9" stroke="#f49ac2" stroke-width="0.8"/>
<line x1="371.3" y1="479.4" x2="371.3" y2="480.9" stroke="#f49ac2" stroke-width="0.8"/>
<line x1="373.2" y1="479.4" x2="373.2" y2="480.9" stroke="#f49ac2" stroke-width="0.8"/>
<line x1="375.0" y1="479.4" x2="375.0" y2="480.9" stroke="#f49ac2" stroke-width="0.8"/>
<line x1="376.9" y1="479.4" x2="376.9" y2="480.9" stroke="#f49ac2" stroke-width="0.8"/>
<line x1="378.8" y1="479.4" x2="378.8" y2="480.9" stroke="#f49ac2" stroke-width="0.8"/>
<line x1="380.6" y1="479.4" x2="380.6" y2="480.9" stroke="#f49ac2" stroke-width="0.8"/>
<line x1="382.5" y1="479.4" x2="382.5" y2="480.9" stroke="#f49ac2" stroke-width="0.8"/>
<line x1="384.3" y1="479.4" x2="384.3" y2="480.9" stroke="#f49ac2" stroke-width="0.8"/>
<line x1="386.2" y1="479.4" x2="386.2" y2="480.9" stroke="#f49ac2" stroke-width="0.8"/>
<line x1="388.1" y1="479.4" x2="388.1" y2="480.9" stroke="#f49ac2" stroke-width="0.8"/>
<line x1="389.9" y1="479.4" x2="389.9" y2="480.9" stroke="#f49ac2" stroke-width="0.8"/>
<line x1="391.8" y1="479.4" x2="391.8" y2="480.9" stroke="#f49ac2" stroke-width="0.8"/>
<line x1="393.7" y1="479.4" x2="393.7" y2="480.9" stroke="#f49ac2" stroke-width="0.8"/>
<line x1="395.5" y1="479.4" x2="395.5" y2="480.9" stroke="#f49ac2" stroke-width="0.8"/>
<line x1="397.4" y1="479.4" x2="397.4" y2="480.9" stroke="#f49ac2" stroke-width="0.8"/>
<line x1="399.2" y1="479.4" x2="399.2" y2="480.9" stroke="#f49ac2" stroke-width="0.8"/>
<line x1="401.1" y1="479.4" x2="401.1" y2="480.9" stroke="#f49ac2" stroke-width="0.8"/>
<line x1="403.0" y1="479.4" x2="403.0" y2="480.9" stroke="#f49ac2" stroke-width="0.8"/>
<line x1="404.8" y1="479.4" x2="404.8" y2="480.9" stroke="#f49ac2" stroke-width="0.8"/>
<line x1="406.7" y1="479.4" x2="406.7" y2="480.9" stroke="#f49ac2" stroke-width="0.8"/>
<line x1="408.5" y1="479.4" x2="408.5" y2="480.9" stroke="#f49ac2" stroke-width="0.8"/>
<line x1="410.4" y1="479.4" x2="410.4" y2="480.9" stroke="#f49ac2" stroke-width="0.8"/>
<line x1="412.3" y1="479.4" x2="412.3" y2="480.9" stroke="#f49ac2" stroke-width="0.8"/>
<line x1="414.1" y1="479.4" x2="414.1" y2="480.9" stroke="#f49ac2" stroke-width="0.8"/>
<line x1="416.0" y1="479.4" x2="416.0" y2="480.9" stroke="#f49ac2" stroke-width="0.8"/>
<line x1="417.8" y1="479.4" x2="417.8" y2="480.9" stroke="#f49ac2" stroke-width="0.8"/>
<line x1="419.7" y1="479.4" x2="419.7" y2="480.9" stroke="#f49ac2" stroke-width="0.8"/>
<line x1="421.6" y1="479.4" x2="421.6" y2="480.9" stroke="#f49ac2" stroke-width="0.8"/>
<line x1="423.4" y1="479.4" x2="423.4" y2="480.9" stroke="#f49ac2" stroke-width="0.8"/>
<line x1="425.3" y1="479.4" x2="425.3" y2="480.9" stroke="#f49ac2" stroke-width="0.8"/>
<line x1="427.1" y1="479.4" x2="427.1" y2="480.9" stroke="#f49ac2" stroke-width="0.8"/>
<line x1="429.0" y1="479.4" x2="429.0" y2="480.9" stroke="#f49ac2" stroke-width="0.8"/>
<line x1="430.9" y1="479.4" x2="430.9" y2="480.9" stroke="#f49ac2" stroke-width="0.8"/>
<line x1="432.7" y1="479.4" x2="432.7" y2="480.9" stroke="#f49ac2" stroke-width="0.8"/>
<line x1="434.6" y1="479.4" x2="434.6" y2="480.9" stroke="#f49ac2" stroke-width="0.8"/>
<line x1="436.4" y1="479.4" x2="436.4" y2="480.9" stroke="#f49ac2" stroke-width="0.8"/>
<line x1="438.3" y1="479.4" x2="438.3" y2="480.9" stroke="#f49ac2" stroke-width="0.8"/>
<line x1="440.2" y1="479.4" x2="440.2" y2="480.9" stroke="#f49ac2" stroke-width="0.8"/>
<line x1="442.0" y1="479.4" x2="442.0" y2="480.9" stroke="#f49ac2" stroke-width="0.8"/>
<line x1="443.9" y1="479.4" x2="443.9" y2="480.9" stroke="#f49ac2" stroke-width="0.8"/>
<line x1="445.8" y1="479.4" x2="445.8" y2="480.9" stroke="#f49ac2" stroke-width="0.8"/>
<line x1="447.6" y1="479.4" x2="447.6" y2="480.9" stroke="#f49ac2" stroke-width="0.8"/>
<line x1="449.5" y1="479.4" x2="449.5" y2="480.9" stroke="#f49ac2" stroke-width="0.8"/>
<line x1="451.3" y1="479.4" x2="451.3" y2="480.9" stroke="#f49ac2" stroke-width="0.8"/>
<line x1="453.2" y1="479.4" x2="453.2" y2="480.9" stroke="#f49ac2" stroke-width="0.8"/>
<line x1="455.1" y1="479.4" x2="455.1" y2="480.9" stroke="#f49ac2" stroke-width="0.8"/>
<line x1="456.9" y1="479.4" x2="456.9" y2="480.9" stroke="#f49ac2" stroke-width="0.8"/>
<line x1="458.8" y1="479.4" x2="458.8" y2="480.9" stroke="#f49ac2" stroke-width="0.8"/>
<line x1="460.6" y1="479.4" x2="460.6" y2="480.9" stroke="#f49ac2" stroke-width="0.8"/>
<line x1="462.5" y1="479.4" x2="462.5" y2="480.9" stroke="#f49ac2" stroke-width="0.8"/>
<line x1="464.4" y1="479.4" x2="464.4" y2="480.9" stroke="#f49ac2" stroke-width="0.8"/>
<line x1="466.2" y1="479.4" x2="466.2" y2="480.9" stroke="#f49ac2" stroke-width="0.8"/>
<line x1="468.1" y1="479.4" x2="468.1" y2="480.9" stroke="#f49ac2" stroke-width="0.8"/>
<line x1="469.9" y1="479.4" x2="469.9" y2="480.9" stroke="#f49ac2" stroke-width="0.8"/>
<line x1="471.8" y1="479.4" x2="471.8" y2="480.9" stroke="#f49ac2" stroke-width="0.8"/>
<line x1="473.7" y1="479.4" x2="473.7" y2="480.9" stroke="#f49ac2" stroke-width="0.8"/>
<line x1="475.5" y1="479.4" x2="475.5" y2="480.9" stroke="#f49ac2" stroke-width="0.8"/>
<line x1="477.4" y1="479.4" x2="477.4" y2="480.9" stroke="#f49ac2" stroke-width="0.8"/>
<line x1="479.2" y1="479.4" x2="479.2" y2="480.9" stroke="#f49ac2" stroke-width="0.8"/>
<line x1="481.1" y1="479.4" x2="481.1" y2="480.9" stroke="#f49ac2" stroke-width="0.8"/>
<line x1="483.0" y1="479.4" x2="483.0" y2="480.9" stroke="#f49ac2" stroke-width="0.8"/>
<line x1="484.8" y1="479.4" x2="484.8" y2="480.9" stroke="#f49ac2" stroke-width="0.8"/>
<line x1="486.7" y1="479.4" x2="486.7" y2="480.9" stroke="#f49ac2" stroke-width="0.8"/>
<line x1="488.5" y1="479.4" x2="488.5" y2="480.9" stroke="#f49ac2" stroke-width="0.8"/>
<line x1="490.4" y1="479.4" x2="490.4" y2="480.9" stroke="#f49ac2" stroke-width="0.8"/>
<line x1="492.3" y1="479.4" x2="492.3" y2="480.9" stroke="#f49ac2" stroke-width="0.8"/>
<line x1="494.1" y1="479.4" x2="494.1" y2="480.9" stroke="#f49ac2" stroke-width="0.8"/>
<line x1="496.0" y1="479.4" x2="496.0" y2="480.9" stroke="#f49ac2" stroke-width="0.8"/>
<line x1="497.9" y1="479.4" x2="497.9" y2="480.9" stroke="#f49ac2" stroke-width="0.8"/>
<line x1="499.7" y1="479.4" x2="499.7" y2="480.9" stroke="#f49ac2" stroke-width="0.8"/>
<line x1="501.6" y1="479.4" x2="501.6" y2="480.9" stroke="#f49ac2" stroke-width="0.8"/>
<line x1="503.4" y1="479.4" x2="503.4" y2="480.9" stroke="#f49ac2" stroke-width="0.8"/>
<line x1="505.3" y1="479.4" x2="505.3" y2="480.9" stroke="#f49ac2" stroke-width="0.8"/>
<line x1="507.2" y1="479.4" x2="507.2" y2="480.9" stroke="#f49ac2" stroke-width="0.8"/>
<line x1="509.0" y1="479.4" x2="509.0" y2="480.9" stroke="#f49ac2" stroke-width="0.8"/>
<line x1="510.9" y1="479.4" x2="510.9" y2="480.9" stroke="#f49ac2" stroke-width="0.8"/>
<line x1="512.7" y1="479.4" x2="512.7" y2="480.9" stroke="#f49ac2" stroke-width="0.8"/>
<line x1="514.6" y1="479.4" x2="514.6" y2="480.9" stroke="#f49ac2" stroke-width="0.8"/>
<line x1="516.5" y1="479.4" x2="516.5" y2="480.9" stroke="#f49ac2" stroke-width="0.8"/>
<line x1="518.3" y1="479.4" x2="518.3" y2="480.9" stroke="#f49ac2" stroke-width="0.8"/>
<line x1="520.2" y1="479.4" x2="520.2" y2="480.9" stroke="#f49ac2" stroke-width="0.8"/>
<line x1="522.0" y1="479.4" x2="522.0" y2="480.9" stroke="#f49ac2" stroke-width="0.8"/>
<line x1="523.9" y1="479.4" x2="523.9" y2="480.9" stroke="#f49ac2" stroke-width="0.8"/>
<line x1="525.8" y1="479.4" x2="525.8" y2="480.9" stroke="#f49ac2" stroke-width="0.8"/>
<line x1="527.6" y1="479.4" x2="527.6" y2="480.9" stroke="#f49ac2" stroke-width="0.8"/>
<line x1="529.5" y1="479.4" x2="529.5" y2="480.9" stroke="#f49ac2" stroke-width="0.8"/>
<line x1="531.3" y1="479.4" x2="531.3" y2="480.9" stroke="#f49ac2" stroke-width="0.8"/>
<rect x="289.0" y="442.6" width="245.00" height="75.00" fill="none" stroke="#111" stroke-width="1"/>
<text x="286.80" y="444.60" font-size="5.6" fill="#222" stroke="#222" stroke-width="0.078" text-anchor="end" font-weight="bold" font-family="Liberation Sans, sans-serif" >1.0</text>
<line x1="287.20" y1="442.60" x2="289.00" y2="442.60" stroke="#111" stroke-width="0.7" />
<text x="286.80" y="463.35" font-size="5.6" fill="#222" stroke="#222" stroke-width="0.078" text-anchor="end" font-weight="bold" font-family="Liberation Sans, sans-serif" >0.5</text>
<line x1="287.20" y1="461.35" x2="289.00" y2="461.35" stroke="#111" stroke-width="0.7" />
<text x="286.80" y="482.10" font-size="5.6" fill="#222" stroke="#222" stroke-width="0.078" text-anchor="end" font-weight="bold" font-family="Liberation Sans, sans-serif" >0.0</text>
<line x1="287.20" y1="480.10" x2="289.00" y2="480.10" stroke="#111" stroke-width="0.7" />
<text x="286.80" y="500.85" font-size="5.6" fill="#222" stroke="#222" stroke-width="0.078" text-anchor="end" font-weight="bold" font-family="Liberation Sans, sans-serif" >-0.5</text>
<line x1="287.20" y1="498.85" x2="289.00" y2="498.85" stroke="#111" stroke-width="0.7" />
<text x="286.80" y="519.60" font-size="5.6" fill="#222" stroke="#222" stroke-width="0.078" text-anchor="end" font-weight="bold" font-family="Liberation Sans, sans-serif" >-1.0</text>
<line x1="287.20" y1="517.60" x2="289.00" y2="517.60" stroke="#111" stroke-width="0.7" />
<text x="291.80" y="524.90" font-size="5.6" fill="#222" stroke="#222" stroke-width="0.078" text-anchor="middle" font-weight="bold" font-family="Liberation Sans, sans-serif" >0</text>
<line x1="291.80" y1="517.60" x2="291.80" y2="519.40" stroke="#111" stroke-width="0.7" />
<text x="332.25" y="524.90" font-size="5.6" fill="#222" stroke="#222" stroke-width="0.078" text-anchor="middle" font-weight="bold" font-family="Liberation Sans, sans-serif" >100</text>
<line x1="332.25" y1="517.60" x2="332.25" y2="519.40" stroke="#111" stroke-width="0.7" />
<text x="372.70" y="524.90" font-size="5.6" fill="#222" stroke="#222" stroke-width="0.078" text-anchor="middle" font-weight="bold" font-family="Liberation Sans, sans-serif" >200</text>
<line x1="372.70" y1="517.60" x2="372.70" y2="519.40" stroke="#111" stroke-width="0.7" />
<text x="413.15" y="524.90" font-size="5.6" fill="#222" stroke="#222" stroke-width="0.078" text-anchor="middle" font-weight="bold" font-family="Liberation Sans, sans-serif" >300</text>
<line x1="413.15" y1="517.60" x2="413.15" y2="519.40" stroke="#111" stroke-width="0.7" />
<text x="453.60" y="524.90" font-size="5.6" fill="#222" stroke="#222" stroke-width="0.078" text-anchor="middle" font-weight="bold" font-family="Liberation Sans, sans-serif" >400</text>
<line x1="453.60" y1="517.60" x2="453.60" y2="519.40" stroke="#111" stroke-width="0.7" />
<text x="494.05" y="524.90" font-size="5.6" fill="#222" stroke="#222" stroke-width="0.078" text-anchor="middle" font-weight="bold" font-family="Liberation Sans, sans-serif" >500</text>
<line x1="494.05" y1="517.60" x2="494.05" y2="519.40" stroke="#111" stroke-width="0.7" />
<text x="534.50" y="524.90" font-size="5.6" fill="#222" stroke="#222" stroke-width="0.078" text-anchor="middle" font-weight="bold" font-family="Liberation Sans, sans-serif" >600</text>
<line x1="534.50" y1="517.60" x2="534.50" y2="519.40" stroke="#111" stroke-width="0.7" />
<text x="0" y="0" font-size="5.5" fill="#222" text-anchor="middle" font-weight="bold" font-family="Liberation Sans, sans-serif" transform="translate(274.60,474.70) rotate(-90)" dominant-baseline="central">Voltage (V)</text>
<text x="414.20" y="530.30" font-size="5.8" fill="#222" stroke="#222" stroke-width="0.081" text-anchor="middle" font-weight="bold" font-family="Liberation Sans, sans-serif" >Time (h)</text>
<line x1="468.60" y1="502.60" x2="481.00" y2="502.60" stroke="#8fcff0" stroke-width="1" />
<line x1="468.60" y1="509.00" x2="481.00" y2="509.00" stroke="#e7529a" stroke-width="1" />
<text x="482.50" y="504.60" font-size="5.2" fill="#222" stroke="#222" stroke-width="0.073" text-anchor="start" font-weight="bold" font-family="Liberation Sans, sans-serif" >raw Li&#160;&#160;&#160;4h</text>
<text x="482.50" y="511.00" font-size="5.2" fill="#222" stroke="#222" stroke-width="0.073" text-anchor="start" font-weight="bold" font-family="Liberation Sans, sans-serif" >Zn0.1M@Li 4h</text>
<polygon points="312.14,593.39 312.40,593.35 312.65,593.30 312.90,593.26 313.15,593.20 313.41,593.15 313.66,593.09 313.91,593.03 314.16,592.96 314.41,592.89 314.67,592.81 314.92,592.73 315.17,592.64 315.42,592.54 315.68,592.44 315.93,592.33 316.18,592.22 316.43,592.09 316.68,591.95 316.94,591.81 317.19,591.65 317.44,591.49 317.69,591.31 317.95,591.11 318.20,590.91 318.45,590.69 318.70,590.45 318.96,590.20 319.21,589.92 319.46,589.63 319.71,589.32 319.96,588.98 320.22,588.62 320.47,588.23 320.72,587.82 320.97,587.37 321.23,586.90 321.48,586.38 321.73,585.84 321.98,585.25 322.23,584.62 322.49,583.94 322.74,583.21 322.99,582.43 323.24,581.60 323.50,580.70 323.75,579.74 324.00,578.71 324.25,577.60 324.51,576.42 324.76,575.15 325.01,573.78 325.26,572.32 325.51,570.75 325.77,569.07 326.02,567.26 326.27,565.33 326.52,563.25 326.78,561.03 327.03,558.64 327.28,558.00 327.28,643.50 327.03,643.06 326.78,640.67 326.52,638.45 326.27,636.37 326.02,634.44 325.77,632.63 325.51,630.95 325.26,629.38 325.01,627.92 324.76,626.55 324.51,625.28 324.25,624.10 324.00,622.99 323.75,621.96 323.50,621.00 323.24,620.10 322.99,619.27 322.74,618.49 322.49,617.76 322.23,617.08 321.98,616.45 321.73,615.86 321.48,615.32 321.23,614.80 320.97,614.33 320.72,613.88 320.47,613.47 320.22,613.08 319.96,612.72 319.71,612.38 319.46,612.07 319.21,611.78 318.96,611.50 318.70,611.25 318.45,611.01 318.20,610.79 317.95,610.59 317.69,610.39 317.44,610.21 317.19,610.05 316.94,609.89 316.68,609.75 316.43,609.61 316.18,609.48 315.93,609.37 315.68,609.26 315.42,609.16 315.17,609.06 314.92,608.97 314.67,608.89 314.41,608.81 314.16,608.74 313.91,608.67 313.66,608.61 313.41,608.55 313.15,608.50 312.90,608.44 312.65,608.40 312.40,608.35 312.14,608.31" fill="#3a3a3a" />
<polygon points="336.91,593.39 337.21,592.94 337.51,592.48 337.81,592.00 338.11,591.52 338.41,591.02 338.71,590.51 339.01,589.99 339.31,589.46 339.61,588.91 339.91,588.34 340.21,587.77 340.51,587.18 340.81,586.57 341.11,585.95 341.41,585.31 341.71,584.65 342.01,583.98 342.31,583.30 342.61,582.59 342.91,581.87 343.21,581.13 343.51,580.37 343.81,579.59 344.11,578.79 344.41,577.97 344.71,577.13 345.01,576.27 345.31,575.39 345.61,574.48 345.91,573.55 346.21,572.60 346.51,571.62 346.81,570.62 347.11,569.60 347.41,568.55 347.71,567.47 348.01,566.36 348.31,565.23 348.61,564.07 348.91,562.87 349.21,561.65 349.51,560.40 349.81,559.12 350.11,558.00 350.41,558.00 350.71,558.00 351.01,558.00 351.31,558.00 351.61,558.00 351.91,558.00 352.21,558.00 352.51,558.00 352.81,558.00 353.11,558.00 353.41,558.00 353.71,558.00 354.01,558.00 354.31,558.00 354.61,558.00 354.91,558.00 354.91,643.50 354.61,643.50 354.31,643.50 354.01,643.50 353.71,643.50 353.41,643.50 353.11,643.50 352.81,643.50 352.51,643.50 352.21,643.50 351.91,643.50 351.61,643.50 351.31,643.50 351.01,643.50 350.71,643.50 350.41,643.50 350.11,643.50 349.81,642.58 349.51,641.30 349.21,640.05 348.91,638.83 348.61,637.63 348.31,636.47 348.01,635.34 347.71,634.23 347.41,633.15 347.11,632.10 346.81,631.08 346.51,630.08 346.21,629.10 345.91,628.15 345.61,627.22 345.31,626.31 345.01,625.43 344.71,624.57 344.41,623.73 344.11,622.91 343.81,622.11 343.51,621.33 343.21,620.57 342.91,619.83 342.61,619.11 342.31,618.40 342.01,617.72 341.71,617.05 341.41,616.39 341.11,615.75 340.81,615.13 340.51,614.52 340.21,613.93 339.91,613.36 339.61,612.79 339.31,612.24 339.01,611.71 338.71,611.19 338.41,610.68 338.11,610.18 337.81,609.70 337.51,609.22 337.21,608.76 336.91,608.31" fill="#f43c3c" />
<polygon points="319.02,593.39 319.38,593.26 319.74,593.12 320.10,592.98 320.46,592.84 320.81,592.69 321.17,592.54 321.53,592.38 321.89,592.22 322.24,592.05 322.60,591.87 322.96,591.69 323.32,591.50 323.67,591.31 324.03,591.11 324.39,590.90 324.75,590.68 325.11,590.46 325.46,590.23 325.82,590.00 326.18,589.75 326.54,589.50 326.89,589.24 327.25,588.96 327.61,588.68 327.97,588.40 328.33,588.10 328.68,587.79 329.04,587.47 329.40,587.14 329.76,586.79 330.11,586.44 330.47,586.07 330.83,585.70 331.19,585.31 331.55,584.90 331.90,584.48 332.26,584.05 332.62,583.61 332.98,583.14 333.33,582.67 333.69,582.17 334.05,581.66 334.41,581.14 334.77,580.59 335.12,580.03 335.48,579.44 335.84,578.84 336.20,578.22 336.55,577.57 336.91,576.91 337.27,576.22 337.63,575.51 337.99,574.77 338.34,574.01 338.70,573.22 339.06,572.41 339.42,571.57 339.77,570.70 340.13,569.80 340.49,568.87 340.49,632.83 340.13,631.90 339.77,631.00 339.42,630.13 339.06,629.29 338.70,628.48 338.34,627.69 337.99,626.93 337.63,626.19 337.27,625.48 336.91,624.79 336.55,624.13 336.20,623.48 335.84,622.86 335.48,622.26 335.12,621.67 334.77,621.11 334.41,620.56 334.05,620.04 333.69,619.53 333.33,619.03 332.98,618.56 332.62,618.09 332.26,617.65 331.90,617.22 331.55,616.80 331.19,616.39 330.83,616.00 330.47,615.63 330.11,615.26 329.76,614.91 329.40,614.56 329.04,614.23 328.68,613.91 328.33,613.60 327.97,613.30 327.61,613.02 327.25,612.74 326.89,612.46 326.54,612.20 326.18,611.95 325.82,611.70 325.46,611.47 325.11,611.24 324.75,611.02 324.39,610.80 324.03,610.59 323.67,610.39 323.32,610.20 322.96,610.01 322.60,609.83 322.24,609.65 321.89,609.48 321.53,609.32 321.17,609.16 320.81,609.01 320.46,608.86 320.10,608.72 319.74,608.58 319.38,608.44 319.02,608.31" fill="#f28414" />
<polygon points="286.00,588.06 287.65,590.19 291.50,593.39 291.50,608.31 287.65,611.51 286.00,613.64" fill="#f25050" />
<rect x="286.3" y="593.8" width="246.9" height="12.8" fill="#1c6ee6"/>
<rect x="286.2" y="558.0" width="247.50" height="85.50" fill="none" stroke="#111" stroke-width="1"/>
<text x="283.80" y="560.81" font-size="7.2" fill="#222" stroke="#222" stroke-width="0.180" text-anchor="end" font-weight="normal" font-family="Liberation Sans, sans-serif" >0.4</text>
<line x1="284.40" y1="558.21" x2="286.20" y2="558.21" stroke="#111" stroke-width="0.8" />
<text x="283.80" y="582.13" font-size="7.2" fill="#222" stroke="#222" stroke-width="0.180" text-anchor="end" font-weight="normal" font-family="Liberation Sans, sans-serif" >0.2</text>
<line x1="284.40" y1="579.53" x2="286.20" y2="579.53" stroke="#111" stroke-width="0.8" />
<text x="283.80" y="603.45" font-size="7.2" fill="#222" stroke="#222" stroke-width="0.180" text-anchor="end" font-weight="normal" font-family="Liberation Sans, sans-serif" >0.0</text>
<line x1="284.40" y1="600.85" x2="286.20" y2="600.85" stroke="#111" stroke-width="0.8" />
<text x="283.80" y="624.77" font-size="7.2" fill="#222" stroke="#222" stroke-width="0.180" text-anchor="end" font-weight="normal" font-family="Liberation Sans, sans-serif" >-0.2</text>
<line x1="284.40" y1="622.17" x2="286.20" y2="622.17" stroke="#111" stroke-width="0.8" />
<text x="283.80" y="646.09" font-size="7.2" fill="#222" stroke="#222" stroke-width="0.180" text-anchor="end" font-weight="normal" font-family="Liberation Sans, sans-serif" >-0.4</text>
<line x1="284.40" y1="643.49" x2="286.20" y2="643.49" stroke="#111" stroke-width="0.8" />
<text x="286.00" y="651.00" font-size="7.2" fill="#222" stroke="#222" stroke-width="0.180" text-anchor="middle" font-weight="normal" font-family="Liberation Sans, sans-serif" >0</text>
<line x1="286.00" y1="643.50" x2="286.00" y2="645.30" stroke="#111" stroke-width="0.8" />
<text x="313.52" y="651.00" font-size="7.2" fill="#222" stroke="#222" stroke-width="0.180" text-anchor="middle" font-weight="normal" font-family="Liberation Sans, sans-serif" >100</text>
<line x1="313.52" y1="643.50" x2="313.52" y2="645.30" stroke="#111" stroke-width="0.8" />
<text x="341.04" y="651.00" font-size="7.2" fill="#222" stroke="#222" stroke-width="0.180" text-anchor="middle" font-weight="normal" font-family="Liberation Sans, sans-serif" >200</text>
<line x1="341.04" y1="643.50" x2="341.04" y2="645.30" stroke="#111" stroke-width="0.8" />
<text x="368.56" y="651.00" font-size="7.2" fill="#222" stroke="#222" stroke-width="0.180" text-anchor="middle" font-weight="normal" font-family="Liberation Sans, sans-serif" >300</text>
<line x1="368.56" y1="643.50" x2="368.56" y2="645.30" stroke="#111" stroke-width="0.8" />
<text x="396.08" y="651.00" font-size="7.2" fill="#222" stroke="#222" stroke-width="0.180" text-anchor="middle" font-weight="normal" font-family="Liberation Sans, sans-serif" >400</text>
<line x1="396.08" y1="643.50" x2="396.08" y2="645.30" stroke="#111" stroke-width="0.8" />
<text x="423.60" y="651.00" font-size="7.2" fill="#222" stroke="#222" stroke-width="0.180" text-anchor="middle" font-weight="normal" font-family="Liberation Sans, sans-serif" >500</text>
<line x1="423.60" y1="643.50" x2="423.60" y2="645.30" stroke="#111" stroke-width="0.8" />
<text x="451.12" y="651.00" font-size="7.2" fill="#222" stroke="#222" stroke-width="0.180" text-anchor="middle" font-weight="normal" font-family="Liberation Sans, sans-serif" >600</text>
<line x1="451.12" y1="643.50" x2="451.12" y2="645.30" stroke="#111" stroke-width="0.8" />
<text x="478.64" y="651.00" font-size="7.2" fill="#222" stroke="#222" stroke-width="0.180" text-anchor="middle" font-weight="normal" font-family="Liberation Sans, sans-serif" >700</text>
<line x1="478.64" y1="643.50" x2="478.64" y2="645.30" stroke="#111" stroke-width="0.8" />
<text x="506.16" y="651.00" font-size="7.2" fill="#222" stroke="#222" stroke-width="0.180" text-anchor="middle" font-weight="normal" font-family="Liberation Sans, sans-serif" >800</text>
<line x1="506.16" y1="643.50" x2="506.16" y2="645.30" stroke="#111" stroke-width="0.8" />
<text x="533.68" y="651.00" font-size="7.2" fill="#222" stroke="#222" stroke-width="0.180" text-anchor="middle" font-weight="normal" font-family="Liberation Sans, sans-serif" >900</text>
<line x1="533.68" y1="643.50" x2="533.68" y2="645.30" stroke="#111" stroke-width="0.8" />
<text x="0" y="0" font-size="7.6" fill="#111" text-anchor="middle" font-weight="bold" font-family="Liberation Sans, sans-serif" transform="translate(266.50,600.50) rotate(-90)" dominant-baseline="central">Voltage(V)</text>
<text x="410.20" y="660.20" font-size="7.1" fill="#111" stroke="#111" stroke-width="0.099" text-anchor="middle" font-weight="bold" font-family="Liberation Sans, sans-serif" >Time(h)</text>
<text x="461.00" y="580.00" font-size="7.0" fill="#111" stroke="#111" stroke-width="0.175" text-anchor="start" font-weight="normal" font-family="Liberation Sans, sans-serif" >1 mA cm<tspan font-size='4.6' dy='-3'>-2</tspan><tspan dy='3'>,1 mAh cm</tspan><tspan font-size='4.6' dy='-3'>-2</tspan></text>
<line x1="469.70" y1="610.50" x2="483.80" y2="610.50" stroke="#9a9a9a" stroke-width="1.6" />
<text x="486.50" y="613.10" font-size="7.0" fill="#222" stroke="#222" stroke-width="0.175" text-anchor="start" font-weight="normal" font-family="Liberation Sans, sans-serif" >Blank</text>
<line x1="469.70" y1="619.50" x2="483.80" y2="619.50" stroke="#f2b870" stroke-width="1.6" />
<text x="486.50" y="622.10" font-size="7.0" fill="#222" stroke="#222" stroke-width="0.175" text-anchor="start" font-weight="normal" font-family="Liberation Sans, sans-serif" >PVDF-HFP-LiF</text>
<line x1="469.70" y1="629.20" x2="483.80" y2="629.20" stroke="#f07474" stroke-width="1.6" />
<text x="486.50" y="631.80" font-size="7.0" fill="#222" stroke="#222" stroke-width="0.175" text-anchor="start" font-weight="normal" font-family="Liberation Sans, sans-serif" >PPF</text>
<line x1="469.70" y1="637.80" x2="483.80" y2="637.80" stroke="#86aae6" stroke-width="1.6" />
<text x="486.50" y="640.40" font-size="7.0" fill="#222" stroke="#222" stroke-width="0.175" text-anchor="start" font-weight="normal" font-family="Liberation Sans, sans-serif" >LiF@PPF</text>
<rect x="410.5" y="608.8" width="44.30000000000001" height="31.90000000000009" fill="#fff" stroke="#444" stroke-width="0.6"/>
<path d="M411.5,628.0 L415.0,628.0 L415.0,616.5 L422.1,616.5 L422.1,628.0 L425.6,628.0 L429.1,628.0 L429.1,616.5 L436.2,616.5 L436.2,628.0 L439.7,628.0 L443.2,628.0 L443.2,616.5 L450.3,616.5 L450.3,628.0 L453.8,628.0 " fill="none" stroke="#808080" stroke-width="0.8"/>
<path d="M411.5,628.8 L415.0,628.8 L415.0,617.3 L422.1,617.3 L422.1,628.8 L425.6,628.8 L429.1,628.8 L429.1,617.3 L436.2,617.3 L436.2,628.8 L439.7,628.8 L443.2,628.8 L443.2,617.3 L450.3,617.3 L450.3,628.8 L453.8,628.8 " fill="none" stroke="#f0a040" stroke-width="0.8"/>
<path d="M411.5,629.2 L415.0,629.2 L415.0,617.7 L422.1,617.7 L422.1,629.2 L425.6,629.2 L429.1,629.2 L429.1,617.7 L436.2,617.7 L436.2,629.2 L439.7,629.2 L443.2,629.2 L443.2,617.7 L450.3,617.7 L450.3,629.2 L453.8,629.2 " fill="none" stroke="#f05050" stroke-width="0.8"/>
<path d="M411.5,629.6 L415.0,629.6 L415.0,618.1 L422.1,618.1 L422.1,629.6 L425.6,629.6 L429.1,629.6 L429.1,618.1 L436.2,618.1 L436.2,629.6 L439.7,629.6 L443.2,629.6 L443.2,618.1 L450.3,618.1 L450.3,629.6 L453.8,629.6 " fill="none" stroke="#5590e0" stroke-width="0.8"/>
<text x="409.70" y="610.30" font-size="2.3" fill="#333" stroke="#333" stroke-width="0.057" text-anchor="end" font-weight="normal" font-family="Liberation Sans, sans-serif" >0.3</text>
<text x="409.70" y="617.77" font-size="2.3" fill="#333" stroke="#333" stroke-width="0.057" text-anchor="end" font-weight="normal" font-family="Liberation Sans, sans-serif" >0.2</text>
<text x="409.70" y="625.25" font-size="2.3" fill="#333" stroke="#333" stroke-width="0.057" text-anchor="end" font-weight="normal" font-family="Liberation Sans, sans-serif" >0.0</text>
<text x="409.70" y="632.73" font-size="2.3" fill="#333" stroke="#333" stroke-width="0.057" text-anchor="end" font-weight="normal" font-family="Liberation Sans, sans-serif" >-0.2</text>
<text x="409.70" y="640.20" font-size="2.3" fill="#333" stroke="#333" stroke-width="0.057" text-anchor="end" font-weight="normal" font-family="Liberation Sans, sans-serif" >-0.3</text>
<text x="410.50" y="643.50" font-size="2.3" fill="#333" stroke="#333" stroke-width="0.057" text-anchor="middle" font-weight="normal" font-family="Liberation Sans, sans-serif" >100</text>
<text x="419.36" y="643.50" font-size="2.3" fill="#333" stroke="#333" stroke-width="0.057" text-anchor="middle" font-weight="normal" font-family="Liberation Sans, sans-serif" >101</text>
<text x="428.22" y="643.50" font-size="2.3" fill="#333" stroke="#333" stroke-width="0.057" text-anchor="middle" font-weight="normal" font-family="Liberation Sans, sans-serif" >102</text>
<text x="437.08" y="643.50" font-size="2.3" fill="#333" stroke="#333" stroke-width="0.057" text-anchor="middle" font-weight="normal" font-family="Liberation Sans, sans-serif" >103</text>
<text x="445.94" y="643.50" font-size="2.3" fill="#333" stroke="#333" stroke-width="0.057" text-anchor="middle" font-weight="normal" font-family="Liberation Sans, sans-serif" >104</text>
<text x="454.80" y="643.50" font-size="2.3" fill="#333" stroke="#333" stroke-width="0.057" text-anchor="middle" font-weight="normal" font-family="Liberation Sans, sans-serif" >105</text>
<polygon points="289.60,719.46 299.34,720.80 299.74,718.56 300.15,720.80 309.89,721.70 310.29,719.46 310.70,722.14 330.17,723.04 354.51,722.14 356.13,720.35 357.35,721.70 391.03,720.35 431.60,719.90 472.17,719.01 532.21,717.67 532.21,736.46 525.72,736.46 524.91,740.94 492.45,740.04 453.10,738.70 452.29,740.94 451.88,739.15 393.46,738.70 391.84,736.01 391.03,738.70 357.76,738.25 354.51,736.46 330.17,736.46 310.70,738.25 310.29,740.94 309.89,738.70 300.15,739.60 299.74,742.73 299.34,739.60 289.60,741.38" fill="#000" />
<polygon points="289.60,720.35 297.71,721.70 309.89,722.81 330.17,723.71 350.46,724.16 411.31,724.16 532.21,723.93 532.21,735.12 411.31,734.90 350.46,734.90 330.17,735.34 309.89,736.46 297.71,737.36 289.60,738.70" fill="#ff0000" />
<rect x="289.3" y="685.0" width="242.10" height="89.50" fill="none" stroke="#333" stroke-width="0.75"/>
<text x="287.70" y="686.70" font-size="4.6" fill="#333" stroke="#333" stroke-width="0.115" text-anchor="end" font-weight="normal" font-family="Liberation Sans, sans-serif" >1.0</text>
<line x1="287.70" y1="685.00" x2="289.30" y2="685.00" stroke="#222" stroke-width="0.6" />
<text x="287.70" y="695.65" font-size="4.6" fill="#333" stroke="#333" stroke-width="0.115" text-anchor="end" font-weight="normal" font-family="Liberation Sans, sans-serif" >0.8</text>
<line x1="287.70" y1="693.95" x2="289.30" y2="693.95" stroke="#222" stroke-width="0.6" />
<text x="287.70" y="704.60" font-size="4.6" fill="#333" stroke="#333" stroke-width="0.115" text-anchor="end" font-weight="normal" font-family="Liberation Sans, sans-serif" >0.6</text>
<line x1="287.70" y1="702.90" x2="289.30" y2="702.90" stroke="#222" stroke-width="0.6" />
<text x="287.70" y="713.55" font-size="4.6" fill="#333" stroke="#333" stroke-width="0.115" text-anchor="end" font-weight="normal" font-family="Liberation Sans, sans-serif" >0.4</text>
<line x1="287.70" y1="711.85" x2="289.30" y2="711.85" stroke="#222" stroke-width="0.6" />
<text x="287.70" y="722.50" font-size="4.6" fill="#333" stroke="#333" stroke-width="0.115" text-anchor="end" font-weight="normal" font-family="Liberation Sans, sans-serif" >0.2</text>
<line x1="287.70" y1="720.80" x2="289.30" y2="720.80" stroke="#222" stroke-width="0.6" />
<text x="287.70" y="731.45" font-size="4.6" fill="#333" stroke="#333" stroke-width="0.115" text-anchor="end" font-weight="normal" font-family="Liberation Sans, sans-serif" >0.0</text>
<line x1="287.70" y1="729.75" x2="289.30" y2="729.75" stroke="#222" stroke-width="0.6" />
<text x="287.70" y="740.40" font-size="4.6" fill="#333" stroke="#333" stroke-width="0.115" text-anchor="end" font-weight="normal" font-family="Liberation Sans, sans-serif" >-0.2</text>
<line x1="287.70" y1="738.70" x2="289.30" y2="738.70" stroke="#222" stroke-width="0.6" />
<text x="287.70" y="749.35" font-size="4.6" fill="#333" stroke="#333" stroke-width="0.115" text-anchor="end" font-weight="normal" font-family="Liberation Sans, sans-serif" >-0.4</text>
<line x1="287.70" y1="747.65" x2="289.30" y2="747.65" stroke="#222" stroke-width="0.6" />
<text x="287.70" y="758.30" font-size="4.6" fill="#333" stroke="#333" stroke-width="0.115" text-anchor="end" font-weight="normal" font-family="Liberation Sans, sans-serif" >-0.6</text>
<line x1="287.70" y1="756.60" x2="289.30" y2="756.60" stroke="#222" stroke-width="0.6" />
<text x="287.70" y="767.25" font-size="4.6" fill="#333" stroke="#333" stroke-width="0.115" text-anchor="end" font-weight="normal" font-family="Liberation Sans, sans-serif" >-0.8</text>
<line x1="287.70" y1="765.55" x2="289.30" y2="765.55" stroke="#222" stroke-width="0.6" />
<text x="287.70" y="776.20" font-size="4.6" fill="#333" stroke="#333" stroke-width="0.115" text-anchor="end" font-weight="normal" font-family="Liberation Sans, sans-serif" >-1.0</text>
<line x1="287.70" y1="774.50" x2="289.30" y2="774.50" stroke="#222" stroke-width="0.6" />
<text x="289.60" y="781.20" font-size="5.0" fill="#333" stroke="#333" stroke-width="0.125" text-anchor="middle" font-weight="normal" font-family="Liberation Sans, sans-serif" >0</text>
<line x1="289.60" y1="774.50" x2="289.60" y2="776.10" stroke="#222" stroke-width="0.6" />
<text x="309.89" y="781.20" font-size="5.0" fill="#333" stroke="#333" stroke-width="0.125" text-anchor="middle" font-weight="normal" font-family="Liberation Sans, sans-serif" >50</text>
<line x1="309.89" y1="774.50" x2="309.89" y2="776.10" stroke="#222" stroke-width="0.6" />
<text x="330.17" y="781.20" font-size="5.0" fill="#333" stroke="#333" stroke-width="0.125" text-anchor="middle" font-weight="normal" font-family="Liberation Sans, sans-serif" >100</text>
<line x1="330.17" y1="774.50" x2="330.17" y2="776.10" stroke="#222" stroke-width="0.6" />
<text x="350.46" y="781.20" font-size="5.0" fill="#333" stroke="#333" stroke-width="0.125" text-anchor="middle" font-weight="normal" font-family="Liberation Sans, sans-serif" >150</text>
<line x1="350.46" y1="774.50" x2="350.46" y2="776.10" stroke="#222" stroke-width="0.6" />
<text x="370.74" y="781.20" font-size="5.0" fill="#333" stroke="#333" stroke-width="0.125" text-anchor="middle" font-weight="normal" font-family="Liberation Sans, sans-serif" >200</text>
<line x1="370.74" y1="774.50" x2="370.74" y2="776.10" stroke="#222" stroke-width="0.6" />
<text x="391.03" y="781.20" font-size="5.0" fill="#333" stroke="#333" stroke-width="0.125" text-anchor="middle" font-weight="normal" font-family="Liberation Sans, sans-serif" >250</text>
<line x1="391.03" y1="774.50" x2="391.03" y2="776.10" stroke="#222" stroke-width="0.6" />
<text x="411.31" y="781.20" font-size="5.0" fill="#333" stroke="#333" stroke-width="0.125" text-anchor="middle" font-weight="normal" font-family="Liberation Sans, sans-serif" >300</text>
<line x1="411.31" y1="774.50" x2="411.31" y2="776.10" stroke="#222" stroke-width="0.6" />
<text x="431.60" y="781.20" font-size="5.0" fill="#333" stroke="#333" stroke-width="0.125" text-anchor="middle" font-weight="normal" font-family="Liberation Sans, sans-serif" >350</text>
<line x1="431.60" y1="774.50" x2="431.60" y2="776.10" stroke="#222" stroke-width="0.6" />
<text x="451.88" y="781.20" font-size="5.0" fill="#333" stroke="#333" stroke-width="0.125" text-anchor="middle" font-weight="normal" font-family="Liberation Sans, sans-serif" >400</text>
<line x1="451.88" y1="774.50" x2="451.88" y2="776.10" stroke="#222" stroke-width="0.6" />
<text x="472.17" y="781.20" font-size="5.0" fill="#333" stroke="#333" stroke-width="0.125" text-anchor="middle" font-weight="normal" font-family="Liberation Sans, sans-serif" >450</text>
<line x1="472.17" y1="774.50" x2="472.17" y2="776.10" stroke="#222" stroke-width="0.6" />
<text x="492.45" y="781.20" font-size="5.0" fill="#333" stroke="#333" stroke-width="0.125" text-anchor="middle" font-weight="normal" font-family="Liberation Sans, sans-serif" >500</text>
<line x1="492.45" y1="774.50" x2="492.45" y2="776.10" stroke="#222" stroke-width="0.6" />
<text x="512.74" y="781.20" font-size="5.0" fill="#333" stroke="#333" stroke-width="0.125" text-anchor="middle" font-weight="normal" font-family="Liberation Sans, sans-serif" >550</text>
<line x1="512.74" y1="774.50" x2="512.74" y2="776.10" stroke="#222" stroke-width="0.6" />
<text x="533.02" y="781.20" font-size="5.0" fill="#333" stroke="#333" stroke-width="0.125" text-anchor="middle" font-weight="normal" font-family="Liberation Sans, sans-serif" >600</text>
<line x1="533.02" y1="774.50" x2="533.02" y2="776.10" stroke="#222" stroke-width="0.6" />
<text x="0" y="0" font-size="5.0" fill="#333" text-anchor="middle" font-weight="normal" font-family="Liberation Sans, sans-serif" transform="translate(276.60,736.00) rotate(-90)" dominant-baseline="central">Voltage (V)</text>
<text x="407.00" y="787.20" font-size="5.4" fill="#333" stroke="#333" stroke-width="0.135" text-anchor="middle" font-weight="normal" font-family="Liberation Sans, sans-serif" >Time (h)</text>
<line x1="298.00" y1="690.00" x2="309.50" y2="690.00" stroke="#000" stroke-width="1.4" />
<line x1="298.00" y1="695.50" x2="309.50" y2="695.50" stroke="#ff0000" stroke-width="1.4" />
<text x="311.00" y="691.80" font-size="5.2" fill="#333" stroke="#333" stroke-width="0.130" text-anchor="start" font-weight="normal" font-family="Liberation Sans, sans-serif" >bare Li</text>
<text x="311.00" y="697.40" font-size="5.2" fill="#333" stroke="#333" stroke-width="0.130" text-anchor="start" font-weight="normal" font-family="Liberation Sans, sans-serif" >LiF-coated&#160;&#160;Li</text>
<text x="392.50" y="763.40" font-size="4.5" fill="#333" stroke="#333" stroke-width="0.113" text-anchor="start" font-weight="normal" font-family="Liberation Sans, sans-serif" >1 mA 1mAh 300 cycles</text>
<polygon points="362.11,846.34 362.96,846.44 363.80,846.37 364.65,845.63 365.49,846.15 366.34,846.33 367.19,846.43 368.03,846.42 368.88,845.83 369.72,845.89 370.57,845.83 371.42,845.79 372.26,846.39 373.11,845.92 373.95,846.12 374.80,845.71 375.65,845.70 376.49,845.63 377.34,846.38 378.18,845.65 379.03,845.60 379.87,845.57 380.72,846.33 381.57,846.24 382.41,846.32 383.26,846.38 384.10,845.64 384.95,845.67 385.80,845.82 386.64,845.64 387.49,845.82 388.33,846.13 389.18,846.30 390.03,846.29 390.87,845.68 391.72,846.18 392.56,846.07 393.41,845.97 394.26,846.33 395.10,846.11 395.95,846.08 396.79,845.66 397.64,845.98 398.49,846.01 399.33,845.39 400.18,845.82 401.02,845.48 401.87,845.69 402.72,846.24 403.56,845.86 404.41,845.83 405.25,845.49 406.10,845.89 406.95,845.52 407.79,845.67 408.64,845.97 409.48,845.31 410.33,846.07 411.18,845.32 412.02,845.95 412.87,846.11 413.71,845.88 414.56,845.29 415.40,845.04 416.25,846.03 417.10,845.49 417.94,845.46 418.79,845.11 419.63,845.74 420.48,845.37 421.33,845.50 422.17,844.93 423.02,845.53 423.86,844.72 424.71,845.43 425.56,845.48 426.40,844.87 427.25,845.06 428.09,845.48 428.94,844.80 429.79,845.42 430.63,844.50 431.48,844.55 432.32,844.37 433.17,844.51 434.02,844.80 434.86,844.67 435.71,844.61 436.55,843.86 437.40,844.90 438.25,843.68 439.09,844.84 439.94,844.49 440.78,844.32 441.63,843.24 442.48,843.75 443.32,843.84 444.17,842.90 445.01,843.86 445.86,843.35 446.71,843.10 447.55,842.56 448.40,842.41 449.24,842.44 450.09,842.85 450.93,842.74 451.78,842.92 452.63,841.32 453.47,841.50 454.32,841.11 455.16,842.18 456.01,841.36 456.86,840.33 457.70,840.55 458.55,841.44 459.39,840.32 460.24,838.90 461.09,840.39 461.93,840.24 462.78,839.62 463.62,838.06 464.47,837.24 465.32,839.12 466.16,838.76 467.01,838.08 467.85,837.40 468.70,836.23 469.55,837.19 470.39,836.07 471.24,836.17 472.08,832.23 472.93,832.71 473.78,835.06 474.62,830.27 475.47,833.95 476.31,831.85 477.16,827.85 478.01,828.09 478.85,827.61 479.70,828.60 480.54,829.32 481.39,825.52 482.23,828.28 483.08,826.69 483.93,824.36 484.77,826.14 485.62,822.14 486.46,817.60 487.31,817.13 488.16,817.58 489.00,814.92 489.00,881.42 488.16,877.04 487.31,880.06 486.46,877.06 485.62,878.70 484.77,878.83 483.93,873.96 483.08,874.01 482.23,874.24 481.39,871.02 480.54,868.89 479.70,871.19 478.85,871.27 478.01,869.79 477.16,868.58 476.31,868.64 475.47,867.01 474.62,866.14 473.78,864.61 472.93,863.39 472.08,864.25 471.24,861.44 470.39,862.31 469.55,863.26 468.70,862.50 467.85,861.72 467.01,859.93 466.16,860.15 465.32,859.88 464.47,860.05 463.62,859.03 462.78,859.50 461.93,859.90 461.09,857.46 460.24,858.48 459.39,858.51 458.55,857.23 457.70,857.23 456.86,858.16 456.01,855.71 455.16,856.66 454.32,855.61 453.47,856.76 452.63,856.88 451.78,855.82 450.93,854.81 450.09,855.58 449.24,855.36 448.40,855.53 447.55,855.01 446.71,855.09 445.86,855.28 445.01,854.62 444.17,854.32 443.32,855.07 442.48,853.79 441.63,854.42 440.78,853.88 439.94,854.33 439.09,853.30 438.25,854.46 437.40,853.48 436.55,852.99 435.71,853.22 434.86,853.32 434.02,852.75 433.17,853.22 432.32,853.16 431.48,853.45 430.63,852.96 429.79,852.80 428.94,852.70 428.09,853.28 427.25,853.46 426.40,852.93 425.56,852.53 424.71,853.16 423.86,852.65 423.02,852.41 422.17,852.29 421.33,852.97 420.48,852.97 419.63,852.75 418.79,852.54 417.94,852.61 417.10,852.23 416.25,852.98 415.40,852.31 414.56,852.59 413.71,852.75 412.87,852.72 412.02,852.35 411.18,852.15 410.33,852.39 409.48,851.95 408.64,852.64 407.79,852.15 406.95,852.62 406.10,852.03 405.25,852.13 404.41,851.99 403.56,852.15 402.72,851.91 401.87,851.72 401.02,852.40 400.18,851.97 399.33,851.92 398.49,851.97 397.64,852.13 396.79,852.07 395.95,852.26 395.10,852.27 394.26,851.98 393.41,852.51 392.56,852.43 391.72,851.68 390.87,852.39 390.03,852.45 389.18,852.34 388.33,851.74 387.49,852.37 386.64,852.18 385.80,851.61 384.95,851.60 384.10,852.46 383.26,852.18 382.41,851.81 381.57,851.67 380.72,851.70 379.87,851.78 379.03,852.27 378.18,851.88 377.34,851.70 376.49,852.38 375.65,852.27 374.80,851.71 373.95,852.36 373.11,852.10 372.26,852.25 371.42,852.15 370.57,852.35 369.72,852.25 368.88,852.30 368.03,851.72 367.19,852.16 366.34,852.01 365.49,852.20 364.65,851.93 363.80,852.33 362.96,852.03 362.11,851.77" fill="#000" />
<clipPath id="ck2"><polygon points="362.11,846.34 362.96,846.44 363.80,846.37 364.65,845.63 365.49,846.15 366.34,846.33 367.19,846.43 368.03,846.42 368.88,845.83 369.72,845.89 370.57,845.83 371.42,845.79 372.26,846.39 373.11,845.92 373.95,846.12 374.80,845.71 375.65,845.70 376.49,845.63 377.34,846.38 378.18,845.65 379.03,845.60 379.87,845.57 380.72,846.33 381.57,846.24 382.41,846.32 383.26,846.38 384.10,845.64 384.95,845.67 385.80,845.82 386.64,845.64 387.49,845.82 388.33,846.13 389.18,846.30 390.03,846.29 390.87,845.68 391.72,846.18 392.56,846.07 393.41,845.97 394.26,846.33 395.10,846.11 395.95,846.08 396.79,845.66 397.64,845.98 398.49,846.01 399.33,845.39 400.18,845.82 401.02,845.48 401.87,845.69 402.72,846.24 403.56,845.86 404.41,845.83 405.25,845.49 406.10,845.89 406.95,845.52 407.79,845.67 408.64,845.97 409.48,845.31 410.33,846.07 411.18,845.32 412.02,845.95 412.87,846.11 413.71,845.88 414.56,845.29 415.40,845.04 416.25,846.03 417.10,845.49 417.94,845.46 418.79,845.11 419.63,845.74 420.48,845.37 421.33,845.50 422.17,844.93 423.02,845.53 423.86,844.72 424.71,845.43 425.56,845.48 426.40,844.87 427.25,845.06 428.09,845.48 428.94,844.80 429.79,845.42 430.63,844.50 431.48,844.55 432.32,844.37 433.17,844.51 434.02,844.80 434.86,844.67 435.71,844.61 436.55,843.86 437.40,844.90 438.25,843.68 439.09,844.84 439.94,844.49 440.78,844.32 441.63,843.24 442.48,843.75 443.32,843.84 444.17,842.90 445.01,843.86 445.86,843.35 446.71,843.10 447.55,842.56 448.40,842.41 449.24,842.44 450.09,842.85 450.93,842.74 451.78,842.92 452.63,841.32 453.47,841.50 454.32,841.11 455.16,842.18 456.01,841.36 456.86,840.33 457.70,840.55 458.55,841.44 459.39,840.32 460.24,838.90 461.09,840.39 461.93,840.24 462.78,839.62 463.62,838.06 464.47,837.24 465.32,839.12 466.16,838.76 467.01,838.08 467.85,837.40 468.70,836.23 469.55,837.19 470.39,836.07 471.24,836.17 472.08,832.23 472.93,832.71 473.78,835.06 474.62,830.27 475.47,833.95 476.31,831.85 477.16,827.85 478.01,828.09 478.85,827.61 479.70,828.60 480.54,829.32 481.39,825.52 482.23,828.28 483.08,826.69 483.93,824.36 484.77,826.14 485.62,822.14 486.46,817.60 487.31,817.13 488.16,817.58 489.00,814.92 489.00,881.42 488.16,877.04 487.31,880.06 486.46,877.06 485.62,878.70 484.77,878.83 483.93,873.96 483.08,874.01 482.23,874.24 481.39,871.02 480.54,868.89 479.70,871.19 478.85,871.27 478.01,869.79 477.16,868.58 476.31,868.64 475.47,867.01 474.62,866.14 473.78,864.61 472.93,863.39 472.08,864.25 471.24,861.44 470.39,862.31 469.55,863.26 468.70,862.50 467.85,861.72 467.01,859.93 466.16,860.15 465.32,859.88 464.47,860.05 463.62,859.03 462.78,859.50 461.93,859.90 461.09,857.46 460.24,858.48 459.39,858.51 458.55,857.23 457.70,857.23 456.86,858.16 456.01,855.71 455.16,856.66 454.32,855.61 453.47,856.76 452.63,856.88 451.78,855.82 450.93,854.81 450.09,855.58 449.24,855.36 448.40,855.53 447.55,855.01 446.71,855.09 445.86,855.28 445.01,854.62 444.17,854.32 443.32,855.07 442.48,853.79 441.63,854.42 440.78,853.88 439.94,854.33 439.09,853.30 438.25,854.46 437.40,853.48 436.55,852.99 435.71,853.22 434.86,853.32 434.02,852.75 433.17,853.22 432.32,853.16 431.48,853.45 430.63,852.96 429.79,852.80 428.94,852.70 428.09,853.28 427.25,853.46 426.40,852.93 425.56,852.53 424.71,853.16 423.86,852.65 423.02,852.41 422.17,852.29 421.33,852.97 420.48,852.97 419.63,852.75 418.79,852.54 417.94,852.61 417.10,852.23 416.25,852.98 415.40,852.31 414.56,852.59 413.71,852.75 412.87,852.72 412.02,852.35 411.18,852.15 410.33,852.39 409.48,851.95 408.64,852.64 407.79,852.15 406.95,852.62 406.10,852.03 405.25,852.13 404.41,851.99 403.56,852.15 402.72,851.91 401.87,851.72 401.02,852.40 400.18,851.97 399.33,851.92 398.49,851.97 397.64,852.13 396.79,852.07 395.95,852.26 395.10,852.27 394.26,851.98 393.41,852.51 392.56,852.43 391.72,851.68 390.87,852.39 390.03,852.45 389.18,852.34 388.33,851.74 387.49,852.37 386.64,852.18 385.80,851.61 384.95,851.60 384.10,852.46 383.26,852.18 382.41,851.81 381.57,851.67 380.72,851.70 379.87,851.78 379.03,852.27 378.18,851.88 377.34,851.70 376.49,852.38 375.65,852.27 374.80,851.71 373.95,852.36 373.11,852.10 372.26,852.25 371.42,852.15 370.57,852.35 369.72,852.25 368.88,852.30 368.03,851.72 367.19,852.16 366.34,852.01 365.49,852.20 364.65,851.93 363.80,852.33 362.96,852.03 362.11,851.77"/></clipPath><g clip-path="url(#ck2)">
<line x1="410.45" y1="811.8" x2="410.45" y2="886.2" stroke="#fff" stroke-width="0.3" stroke-opacity="0.55"/>
<line x1="411.78" y1="811.8" x2="411.78" y2="886.2" stroke="#fff" stroke-width="0.3" stroke-opacity="0.55"/>
<line x1="413.11" y1="811.8" x2="413.11" y2="886.2" stroke="#fff" stroke-width="0.3" stroke-opacity="0.55"/>
<line x1="414.44" y1="811.8" x2="414.44" y2="886.2" stroke="#fff" stroke-width="0.3" stroke-opacity="0.55"/>
<line x1="415.77" y1="811.8" x2="415.77" y2="886.2" stroke="#fff" stroke-width="0.3" stroke-opacity="0.55"/>
<line x1="417.10" y1="811.8" x2="417.10" y2="886.2" stroke="#fff" stroke-width="0.3" stroke-opacity="0.55"/>
<line x1="418.43" y1="811.8" x2="418.43" y2="886.2" stroke="#fff" stroke-width="0.3" stroke-opacity="0.55"/>
<line x1="419.76" y1="811.8" x2="419.76" y2="886.2" stroke="#fff" stroke-width="0.3" stroke-opacity="0.55"/>
<line x1="421.08" y1="811.8" x2="421.08" y2="886.2" stroke="#fff" stroke-width="0.3" stroke-opacity="0.55"/>
<line x1="422.41" y1="811.8" x2="422.41" y2="886.2" stroke="#fff" stroke-width="0.3" stroke-opacity="0.55"/>
<line x1="423.74" y1="811.8" x2="423.74" y2="886.2" stroke="#fff" stroke-width="0.3" stroke-opacity="0.55"/>
<line x1="425.07" y1="811.8" x2="425.07" y2="886.2" stroke="#fff" stroke-width="0.3" stroke-opacity="0.55"/>
<line x1="426.40" y1="811.8" x2="426.40" y2="886.2" stroke="#fff" stroke-width="0.3" stroke-opacity="0.55"/>
<line x1="427.73" y1="811.8" x2="427.73" y2="886.2" stroke="#fff" stroke-width="0.3" stroke-opacity="0.55"/>
<line x1="429.06" y1="811.8" x2="429.06" y2="886.2" stroke="#fff" stroke-width="0.3" stroke-opacity="0.55"/>
<line x1="430.39" y1="811.8" x2="430.39" y2="886.2" stroke="#fff" stroke-width="0.3" stroke-opacity="0.55"/>
<line x1="431.72" y1="811.8" x2="431.72" y2="886.2" stroke="#fff" stroke-width="0.3" stroke-opacity="0.55"/>
<line x1="433.05" y1="811.8" x2="433.05" y2="886.2" stroke="#fff" stroke-width="0.3" stroke-opacity="0.55"/>
<line x1="434.38" y1="811.8" x2="434.38" y2="886.2" stroke="#fff" stroke-width="0.3" stroke-opacity="0.55"/>
<line x1="435.71" y1="811.8" x2="435.71" y2="886.2" stroke="#fff" stroke-width="0.3" stroke-opacity="0.55"/>
<line x1="437.04" y1="811.8" x2="437.04" y2="886.2" stroke="#fff" stroke-width="0.3" stroke-opacity="0.55"/>
<line x1="438.37" y1="811.8" x2="438.37" y2="886.2" stroke="#fff" stroke-width="0.3" stroke-opacity="0.55"/>
<line x1="439.70" y1="811.8" x2="439.70" y2="886.2" stroke="#fff" stroke-width="0.3" stroke-opacity="0.55"/>
<line x1="441.03" y1="811.8" x2="441.03" y2="886.2" stroke="#fff" stroke-width="0.3" stroke-opacity="0.55"/>
<line x1="442.35" y1="811.8" x2="442.35" y2="886.2" stroke="#fff" stroke-width="0.3" stroke-opacity="0.55"/>
<line x1="443.68" y1="811.8" x2="443.68" y2="886.2" stroke="#fff" stroke-width="0.3" stroke-opacity="0.55"/>
<line x1="445.01" y1="811.8" x2="445.01" y2="886.2" stroke="#fff" stroke-width="0.3" stroke-opacity="0.55"/>
<line x1="446.34" y1="811.8" x2="446.34" y2="886.2" stroke="#fff" stroke-width="0.3" stroke-opacity="0.55"/>
<line x1="447.67" y1="811.8" x2="447.67" y2="886.2" stroke="#fff" stroke-width="0.3" stroke-opacity="0.55"/>
<line x1="449.00" y1="811.8" x2="449.00" y2="886.2" stroke="#fff" stroke-width="0.3" stroke-opacity="0.55"/>
<line x1="450.33" y1="811.8" x2="450.33" y2="886.2" stroke="#fff" stroke-width="0.3" stroke-opacity="0.55"/>
<line x1="451.66" y1="811.8" x2="451.66" y2="886.2" stroke="#fff" stroke-width="0.3" stroke-opacity="0.55"/>
<line x1="452.99" y1="811.8" x2="452.99" y2="886.2" stroke="#fff" stroke-width="0.3" stroke-opacity="0.55"/>
<line x1="454.32" y1="811.8" x2="454.32" y2="886.2" stroke="#fff" stroke-width="0.3" stroke-opacity="0.55"/>
<line x1="455.65" y1="811.8" x2="455.65" y2="886.2" stroke="#fff" stroke-width="0.3" stroke-opacity="0.55"/>
<line x1="456.98" y1="811.8" x2="456.98" y2="886.2" stroke="#fff" stroke-width="0.3" stroke-opacity="0.55"/>
<line x1="458.31" y1="811.8" x2="458.31" y2="886.2" stroke="#fff" stroke-width="0.3" stroke-opacity="0.55"/>
<line x1="459.64" y1="811.8" x2="459.64" y2="886.2" stroke="#fff" stroke-width="0.3" stroke-opacity="0.55"/>
<line x1="460.97" y1="811.8" x2="460.97" y2="886.2" stroke="#fff" stroke-width="0.3" stroke-opacity="0.55"/>
<line x1="462.29" y1="811.8" x2="462.29" y2="886.2" stroke="#fff" stroke-width="0.3" stroke-opacity="0.55"/>
<line x1="463.62" y1="811.8" x2="463.62" y2="886.2" stroke="#fff" stroke-width="0.3" stroke-opacity="0.55"/>
<line x1="464.95" y1="811.8" x2="464.95" y2="886.2" stroke="#fff" stroke-width="0.3" stroke-opacity="0.55"/>
<line x1="466.28" y1="811.8" x2="466.28" y2="886.2" stroke="#fff" stroke-width="0.3" stroke-opacity="0.55"/>
<line x1="467.61" y1="811.8" x2="467.61" y2="886.2" stroke="#fff" stroke-width="0.3" stroke-opacity="0.55"/>
<line x1="468.94" y1="811.8" x2="468.94" y2="886.2" stroke="#fff" stroke-width="0.3" stroke-opacity="0.55"/>
<line x1="470.27" y1="811.8" x2="470.27" y2="886.2" stroke="#fff" stroke-width="0.3" stroke-opacity="0.55"/>
<line x1="471.60" y1="811.8" x2="471.60" y2="886.2" stroke="#fff" stroke-width="0.3" stroke-opacity="0.55"/>
<line x1="472.93" y1="811.8" x2="472.93" y2="886.2" stroke="#fff" stroke-width="0.3" stroke-opacity="0.55"/>
<line x1="474.26" y1="811.8" x2="474.26" y2="886.2" stroke="#fff" stroke-width="0.3" stroke-opacity="0.55"/>
<line x1="475.59" y1="811.8" x2="475.59" y2="886.2" stroke="#fff" stroke-width="0.3" stroke-opacity="0.55"/>
<line x1="476.92" y1="811.8" x2="476.92" y2="886.2" stroke="#fff" stroke-width="0.3" stroke-opacity="0.55"/>
<line x1="478.25" y1="811.8" x2="478.25" y2="886.2" stroke="#fff" stroke-width="0.3" stroke-opacity="0.55"/>
<line x1="479.58" y1="811.8" x2="479.58" y2="886.2" stroke="#fff" stroke-width="0.3" stroke-opacity="0.55"/>
<line x1="480.91" y1="811.8" x2="480.91" y2="886.2" stroke="#fff" stroke-width="0.3" stroke-opacity="0.55"/>
<line x1="482.23" y1="811.8" x2="482.23" y2="886.2" stroke="#fff" stroke-width="0.3" stroke-opacity="0.55"/>
<line x1="483.56" y1="811.8" x2="483.56" y2="886.2" stroke="#fff" stroke-width="0.3" stroke-opacity="0.55"/>
<line x1="484.89" y1="811.8" x2="484.89" y2="886.2" stroke="#fff" stroke-width="0.3" stroke-opacity="0.55"/>
<line x1="486.22" y1="811.8" x2="486.22" y2="886.2" stroke="#fff" stroke-width="0.3" stroke-opacity="0.55"/>
<line x1="487.55" y1="811.8" x2="487.55" y2="886.2" stroke="#fff" stroke-width="0.3" stroke-opacity="0.55"/>
</g>
<polygon points="289.60,840.06 290.57,838.27 292.02,841.55 294.43,843.04 294.43,856.45 292.02,857.94 290.57,858.68 289.60,857.20" fill="#000" />
<polygon points="290.20,842.29 301.69,842.59 307.73,843.04 319.81,844.08 337.94,844.98 362.11,845.72 410.45,845.87 458.79,845.72 530.09,845.72 530.09,852.28 458.79,852.28 410.45,852.13 362.11,852.13 337.94,852.73 319.81,853.32 307.73,854.07 301.69,854.36 290.20,854.51" fill="#ff0000" />
<rect x="289.6" y="804.0" width="241.40" height="89.50" fill="none" stroke="#222" stroke-width="0.8"/>
<text x="287.40" y="806.10" font-size="5.0" fill="#333" stroke="#333" stroke-width="0.125" text-anchor="end" font-weight="normal" font-family="Liberation Sans, sans-serif" >3</text>
<line x1="288.00" y1="804.30" x2="289.60" y2="804.30" stroke="#222" stroke-width="0.6" />
<text x="287.40" y="821.00" font-size="5.0" fill="#333" stroke="#333" stroke-width="0.125" text-anchor="end" font-weight="normal" font-family="Liberation Sans, sans-serif" >2</text>
<line x1="288.00" y1="819.20" x2="289.60" y2="819.20" stroke="#222" stroke-width="0.6" />
<text x="287.40" y="835.90" font-size="5.0" fill="#333" stroke="#333" stroke-width="0.125" text-anchor="end" font-weight="normal" font-family="Liberation Sans, sans-serif" >1</text>
<line x1="288.00" y1="834.10" x2="289.60" y2="834.10" stroke="#222" stroke-width="0.6" />
<text x="287.40" y="850.80" font-size="5.0" fill="#333" stroke="#333" stroke-width="0.125" text-anchor="end" font-weight="normal" font-family="Liberation Sans, sans-serif" >0</text>
<line x1="288.00" y1="849.00" x2="289.60" y2="849.00" stroke="#222" stroke-width="0.6" />
<text x="287.40" y="865.70" font-size="5.0" fill="#333" stroke="#333" stroke-width="0.125" text-anchor="end" font-weight="normal" font-family="Liberation Sans, sans-serif" >-1</text>
<line x1="288.00" y1="863.90" x2="289.60" y2="863.90" stroke="#222" stroke-width="0.6" />
<text x="287.40" y="880.60" font-size="5.0" fill="#333" stroke="#333" stroke-width="0.125" text-anchor="end" font-weight="normal" font-family="Liberation Sans, sans-serif" >-2</text>
<line x1="288.00" y1="878.80" x2="289.60" y2="878.80" stroke="#222" stroke-width="0.6" />
<text x="287.40" y="895.50" font-size="5.0" fill="#333" stroke="#333" stroke-width="0.125" text-anchor="end" font-weight="normal" font-family="Liberation Sans, sans-serif" >-3</text>
<line x1="288.00" y1="893.70" x2="289.60" y2="893.70" stroke="#222" stroke-width="0.6" />
<text x="289.60" y="899.60" font-size="5.0" fill="#333" stroke="#333" stroke-width="0.125" text-anchor="middle" font-weight="normal" font-family="Liberation Sans, sans-serif" >0</text>
<line x1="289.60" y1="893.50" x2="289.60" y2="895.10" stroke="#222" stroke-width="0.6" />
<text x="313.77" y="899.60" font-size="5.0" fill="#333" stroke="#333" stroke-width="0.125" text-anchor="middle" font-weight="normal" font-family="Liberation Sans, sans-serif" >20</text>
<line x1="313.77" y1="893.50" x2="313.77" y2="895.10" stroke="#222" stroke-width="0.6" />
<text x="337.94" y="899.60" font-size="5.0" fill="#333" stroke="#333" stroke-width="0.125" text-anchor="middle" font-weight="normal" font-family="Liberation Sans, sans-serif" >40</text>
<line x1="337.94" y1="893.50" x2="337.94" y2="895.10" stroke="#222" stroke-width="0.6" />
<text x="362.11" y="899.60" font-size="5.0" fill="#333" stroke="#333" stroke-width="0.125" text-anchor="middle" font-weight="normal" font-family="Liberation Sans, sans-serif" >60</text>
<line x1="362.11" y1="893.50" x2="362.11" y2="895.10" stroke="#222" stroke-width="0.6" />
<text x="386.28" y="899.60" font-size="5.0" fill="#333" stroke="#333" stroke-width="0.125" text-anchor="middle" font-weight="normal" font-family="Liberation Sans, sans-serif" >80</text>
<line x1="386.28" y1="893.50" x2="386.28" y2="895.10" stroke="#222" stroke-width="0.6" />
<text x="410.45" y="899.60" font-size="5.0" fill="#333" stroke="#333" stroke-width="0.125" text-anchor="middle" font-weight="normal" font-family="Liberation Sans, sans-serif" >100</text>
<line x1="410.45" y1="893.50" x2="410.45" y2="895.10" stroke="#222" stroke-width="0.6" />
<text x="434.62" y="899.60" font-size="5.0" fill="#333" stroke="#333" stroke-width="0.125" text-anchor="middle" font-weight="normal" font-family="Liberation Sans, sans-serif" >120</text>
<line x1="434.62" y1="893.50" x2="434.62" y2="895.10" stroke="#222" stroke-width="0.6" />
<text x="458.79" y="899.60" font-size="5.0" fill="#333" stroke="#333" stroke-width="0.125" text-anchor="middle" font-weight="normal" font-family="Liberation Sans, sans-serif" >140</text>
<line x1="458.79" y1="893.50" x2="458.79" y2="895.10" stroke="#222" stroke-width="0.6" />
<text x="482.96" y="899.60" font-size="5.0" fill="#333" stroke="#333" stroke-width="0.125" text-anchor="middle" font-weight="normal" font-family="Liberation Sans, sans-serif" >160</text>
<line x1="482.96" y1="893.50" x2="482.96" y2="895.10" stroke="#222" stroke-width="0.6" />
<text x="507.13" y="899.60" font-size="5.0" fill="#333" stroke="#333" stroke-width="0.125" text-anchor="middle" font-weight="normal" font-family="Liberation Sans, sans-serif" >180</text>
<line x1="507.13" y1="893.50" x2="507.13" y2="895.10" stroke="#222" stroke-width="0.6" />
<text x="531.30" y="899.60" font-size="5.0" fill="#333" stroke="#333" stroke-width="0.125" text-anchor="middle" font-weight="normal" font-family="Liberation Sans, sans-serif" >200</text>
<line x1="531.30" y1="893.50" x2="531.30" y2="895.10" stroke="#222" stroke-width="0.6" />
<text x="0" y="0" font-size="5.2" fill="#333" text-anchor="middle" font-weight="normal" font-family="Liberation Sans, sans-serif" transform="translate(281.00,852.40) rotate(-90)" dominant-baseline="central">Voltage (V)</text>
<text x="410.50" y="905.50" font-size="5.4" fill="#333" stroke="#333" stroke-width="0.135" text-anchor="middle" font-weight="normal" font-family="Liberation Sans, sans-serif" >Time (h)</text>
<line x1="298.00" y1="809.00" x2="309.50" y2="809.00" stroke="#000" stroke-width="1.4" />
<line x1="298.00" y1="814.20" x2="309.50" y2="814.20" stroke="#ff0000" stroke-width="1.4" />
<text x="311.00" y="810.80" font-size="5.2" fill="#333" stroke="#333" stroke-width="0.130" text-anchor="start" font-weight="normal" font-family="Liberation Sans, sans-serif" >bare Li</text>
<text x="311.00" y="816.10" font-size="5.2" fill="#333" stroke="#333" stroke-width="0.130" text-anchor="start" font-weight="normal" font-family="Liberation Sans, sans-serif" >LiF-coated&#160;&#160;Li</text>
<text x="380.50" y="883.50" font-size="5.0" fill="#333" stroke="#333" stroke-width="0.125" text-anchor="start" font-weight="normal" font-family="Liberation Sans, sans-serif" >3 mA 1 mAh 300 cycles</text>
<defs>
<linearGradient id="ga_gray" x1="0" y1="0" x2="0" y2="1"><stop offset="0" stop-color="#8e8e8e"/><stop offset="0.55" stop-color="#a8a8a8"/><stop offset="1" stop-color="#f2f2f2"/></linearGradient>
<linearGradient id="ga_green" x1="0" y1="0" x2="0" y2="1"><stop offset="0" stop-color="#a4d276"/><stop offset="0.25" stop-color="#c0e0a0"/><stop offset="1" stop-color="#e4f2d8"/></linearGradient>
<linearGradient id="ga_disk" x1="0" y1="0" x2="1" y2="0"><stop offset="0" stop-color="#a4a4a4"/><stop offset="0.5" stop-color="#cecece"/><stop offset="1" stop-color="#acacac"/></linearGradient>
<linearGradient id="ga_arrow" x1="0" y1="0" x2="1" y2="0"><stop offset="0" stop-color="#f4f6e6"/><stop offset="1" stop-color="#d8dfb0"/></linearGradient>
</defs>
<path d="M26.5,29 L26.5,32 A10.5,3.8 0 0 0 47.5,32 L47.5,29 Z" fill="#7a7a7a"/>
<ellipse cx="37" cy="29" rx="10.5" ry="3.8" fill="url(#ga_disk)" stroke="#8a8a8a" stroke-width="0.4"/>
<polygon points="60.00,28.10 64.95,28.10 64.95,27.00 69.00,29.50 64.95,32.00 64.95,30.90 60.00,30.90" fill="url(#ga_arrow)" stroke="#dfe4c4" stroke-width="0.5"/>
<polygon points="149.50,28.60 154.45,28.60 154.45,27.50 158.50,30.00 154.45,32.50 154.45,31.40 149.50,31.40" fill="url(#ga_arrow)" stroke="#dfe4c4" stroke-width="0.5"/>
<polygon points="59.50,76.10 64.45,76.10 64.45,75.00 68.50,77.50 64.45,80.00 64.45,78.90 59.50,78.90" fill="url(#ga_arrow)" stroke="#dfe4c4" stroke-width="0.5"/>
<polygon points="148.50,75.60 153.45,75.60 153.45,74.50 157.50,77.00 153.45,79.50 153.45,78.40 148.50,78.40" fill="url(#ga_arrow)" stroke="#dfe4c4" stroke-width="0.5"/>
<rect x="83.5" y="25.8" width="44.7" height="11.5" fill="url(#ga_gray)"/>
<rect x="83.5" y="23.8" width="44.7" height="2.3" fill="#a8d274"/>
<rect x="86.0" y="25.6" width="1.6" height="0.8" fill="#e8f0e0"/>
<rect x="90.3" y="25.6" width="1.6" height="0.8" fill="#e8f0e0"/>
<rect x="94.6" y="25.6" width="1.6" height="0.8" fill="#e8f0e0"/>
<rect x="98.9" y="25.6" width="1.6" height="0.8" fill="#e8f0e0"/>
<rect x="103.2" y="25.6" width="1.6" height="0.8" fill="#e8f0e0"/>
<rect x="107.5" y="25.6" width="1.6" height="0.8" fill="#e8f0e0"/>
<rect x="111.8" y="25.6" width="1.6" height="0.8" fill="#e8f0e0"/>
<rect x="116.1" y="25.6" width="1.6" height="0.8" fill="#e8f0e0"/>
<rect x="120.4" y="25.6" width="1.6" height="0.8" fill="#e8f0e0"/>
<rect x="124.7" y="25.6" width="1.6" height="0.8" fill="#e8f0e0"/>
<rect x="181.2" y="30" width="44.6" height="10" fill="url(#ga_gray)"/>
<rect x="181.2" y="18.7" width="44.6" height="13" fill="url(#ga_green)"/>
<path d="M182,31 L183,26 M184.5,31 L185,25 L186.5,23.5 M188,31 L188.5,27 L190,26 M191,31 L192,25.5 M194,31 L193.5,27 L195,25 M197,31 L198,28 M200,31 L201,28.5 M203,31 L203.5,26 L205,24.5 M206.5,31 L207,27 M209,31 L210,25 L212,24 M213,31 L213.5,27.5 M216,31 L217,25 L218.5,24 M219.5,31 L220,26 M222.5,31 L223,27 L224.5,26" stroke="#6a6a6a" stroke-width="0.9" fill="none"/>
<rect x="181.2" y="30.5" width="44.6" height="1.5" fill="#8a8a8a" opacity="0.6"/>
<text x="140.70" y="56.00" font-size="5.6" fill="#222" stroke="#222" stroke-width="0.140" text-anchor="start" font-weight="normal" font-family="Liberation Sans, sans-serif" >After cycling</text>
<line x1="52.50" y1="43.50" x2="39.50" y2="60.50" stroke="#404040" stroke-width="1.1" />
<line x1="50.00" y1="46.50" x2="47.00" y2="50.50" stroke="#808080" stroke-width="2.2" />
<circle cx="53" cy="43" r="1" fill="#777"/>
<circle cx="37.5" cy="65.5" r="0.6" fill="#888"/>
<path d="M27,75.5 L27,78.5 A10.4,3.5 0 0 0 47.8,78.5 L47.8,75.5 Z" fill="#606060"/>
<ellipse cx="37.4" cy="75.5" rx="10.4" ry="3.5" fill="#d7e6f6" stroke="#b8c8dc" stroke-width="0.4"/>
<ellipse cx="37.4" cy="75.3" rx="3" ry="1.2" fill="#c0d4ee"/>
<text x="58.80" y="71.40" font-size="5.4" fill="#222" stroke="#222" stroke-width="0.135" text-anchor="start" font-weight="normal" font-family="Liberation Sans, sans-serif" >AIBN</text>
<text x="59.60" y="90.00" font-size="5.4" fill="#222" stroke="#222" stroke-width="0.135" text-anchor="start" font-weight="normal" font-family="Liberation Sans, sans-serif" >Heat</text>
<rect x="83.0" y="75" width="45" height="12.5" fill="url(#ga_gray)"/>
<rect x="83.0" y="68.5" width="45" height="2.8" fill="#b2d486"/>
<rect x="83.0" y="71.3" width="45" height="1.7" fill="#f4f8f0"/>
<rect x="83.0" y="73" width="45" height="2.6" fill="#bccaf0"/>
<rect x="181.2" y="75" width="45" height="12.5" fill="url(#ga_gray)"/>
<rect x="181.2" y="68.5" width="45" height="2.8" fill="#b2d486"/>
<rect x="181.2" y="71.3" width="45" height="1.7" fill="#f4f8f0"/>
<rect x="181.2" y="73" width="45" height="2.6" fill="#bccaf0"/>
<ellipse cx="37.5" cy="107.3" rx="26.5" ry="12.8" fill="none" stroke="#a8bcc8" stroke-width="0.7" stroke-dasharray="1.5 0.8"/>
<ellipse cx="106" cy="107.3" rx="26.5" ry="12.8" fill="none" stroke="#a8bcc8" stroke-width="0.7" stroke-dasharray="1.5 0.8"/>
<ellipse cx="202.2" cy="106.6" rx="24.6" ry="12.9" fill="none" stroke="#a8bcc8" stroke-width="0.7" stroke-dasharray="1.5 0.8"/>
<line x1="29.00" y1="80.00" x2="13.00" y2="102.00" stroke="#aaaaaa" stroke-width="0.5" />
<line x1="46.00" y1="80.00" x2="62.00" y2="102.00" stroke="#aaaaaa" stroke-width="0.5" />
<line x1="104.00" y1="76.00" x2="86.00" y2="96.00" stroke="#aaaaaa" stroke-width="0.5" />
<line x1="107.00" y1="76.00" x2="126.00" y2="96.00" stroke="#aaaaaa" stroke-width="0.5" />
<line x1="200.00" y1="77.00" x2="182.00" y2="98.00" stroke="#aaaaaa" stroke-width="0.5" />
<line x1="204.00" y1="77.00" x2="224.00" y2="98.00" stroke="#aaaaaa" stroke-width="0.5" />
<path d="M18,100 L21,98.5 L24,100 L27,98.5 L30,100 L33,98.5 L36,100 L39,98 L42,100 L45,98.5 L48,100 L51,98.5 M30,100 L30,103 M39,98 L39,95.5 M45,98.5 L45,96 M40,104 L42,108 L40,112 M42,108 L46,107 M38,110 L36,114 M42,112 L44,116 M30,104 L28,107 M24,110 L26,109" stroke="#333" stroke-width="0.6" fill="none"/>
<circle cx="22" cy="110" r="0.6" fill="#333"/>
<circle cx="33" cy="107" r="0.6" fill="#333"/>
<circle cx="44" cy="103" r="0.6" fill="#333"/>
<circle cx="47" cy="113" r="0.6" fill="#333"/>
<rect x="85.6" y="105.5" width="42.6" height="6" fill="#b0b0b0"/>
<rect x="85.6" y="102" width="42.6" height="4" fill="#c8d4f0"/>
<circle cx="86.8" cy="103.0" r="0.9" fill="#2c48c0"/>
<circle cx="89.1" cy="104.6" r="0.9" fill="#2c48c0"/>
<circle cx="91.4" cy="106.2" r="0.9" fill="#2c48c0"/>
<circle cx="93.7" cy="103.0" r="0.9" fill="#2c48c0"/>
<circle cx="96.0" cy="104.6" r="0.9" fill="#2c48c0"/>
<circle cx="98.3" cy="106.2" r="0.9" fill="#2c48c0"/>
<circle cx="100.6" cy="103.0" r="0.9" fill="#2c48c0"/>
<circle cx="102.9" cy="104.6" r="0.9" fill="#2c48c0"/>
<circle cx="105.2" cy="106.2" r="0.9" fill="#2c48c0"/>
<circle cx="107.5" cy="103.0" r="0.9" fill="#2c48c0"/>
<circle cx="109.8" cy="104.6" r="0.9" fill="#2c48c0"/>
<circle cx="112.1" cy="106.2" r="0.9" fill="#2c48c0"/>
<circle cx="114.4" cy="103.0" r="0.9" fill="#2c48c0"/>
<circle cx="116.7" cy="104.6" r="0.9" fill="#2c48c0"/>
<circle cx="119.0" cy="106.2" r="0.9" fill="#2c48c0"/>
<circle cx="121.3" cy="103.0" r="0.9" fill="#2c48c0"/>
<circle cx="123.6" cy="104.6" r="0.9" fill="#2c48c0"/>
<circle cx="125.9" cy="106.2" r="0.9" fill="#2c48c0"/>
<rect x="181.7" y="105.5" width="44.1" height="6" fill="#b0b0b0"/>
<rect x="181.7" y="102" width="44.1" height="4" fill="#c8d4f0"/>
<circle cx="182.9" cy="103.0" r="0.9" fill="#2c48c0"/>
<circle cx="185.2" cy="104.6" r="0.9" fill="#2c48c0"/>
<circle cx="187.5" cy="106.2" r="0.9" fill="#2c48c0"/>
<circle cx="189.8" cy="103.0" r="0.9" fill="#2c48c0"/>
<circle cx="192.1" cy="104.6" r="0.9" fill="#2c48c0"/>
<circle cx="194.4" cy="106.2" r="0.9" fill="#2c48c0"/>
<circle cx="196.7" cy="103.0" r="0.9" fill="#2c48c0"/>
<circle cx="199.0" cy="104.6" r="0.9" fill="#2c48c0"/>
<circle cx="201.3" cy="106.2" r="0.9" fill="#2c48c0"/>
<circle cx="203.6" cy="103.0" r="0.9" fill="#2c48c0"/>
<circle cx="205.9" cy="104.6" r="0.9" fill="#2c48c0"/>
<circle cx="208.2" cy="106.2" r="0.9" fill="#2c48c0"/>
<circle cx="210.5" cy="103.0" r="0.9" fill="#2c48c0"/>
<circle cx="212.8" cy="104.6" r="0.9" fill="#2c48c0"/>
<circle cx="215.1" cy="106.2" r="0.9" fill="#2c48c0"/>
<circle cx="217.4" cy="103.0" r="0.9" fill="#2c48c0"/>
<circle cx="219.7" cy="104.6" r="0.9" fill="#2c48c0"/>
<circle cx="222.0" cy="106.2" r="0.9" fill="#2c48c0"/>
<circle cx="224.3" cy="103.0" r="0.9" fill="#2c48c0"/>
<circle cx="186" cy="102" r="0.6" fill="#e8d060"/>
<circle cx="194" cy="101.5" r="0.6" fill="#e8d060"/>
<circle cx="203" cy="102" r="0.6" fill="#e8d060"/>
<circle cx="212" cy="101.5" r="0.6" fill="#e8d060"/>
<circle cx="219" cy="102" r="0.6" fill="#e8d060"/>
<path d="M139,97 L142,95 L145,97 L148,95 L151,97 L154,95 L157,97 L160,95 L163,97 L166,95 L169,97 L171.5,95 M148,95 L148,93 M154,97 L154,100 M163,97 L163,100 M160,95 L160,92.5 M142,95 L142,99 M171.5,95 L171.5,100" stroke="#555" stroke-width="0.55" fill="none"/>
<circle cx="153.8" cy="108" r="0.6" fill="#555"/>
<text x="152.00" y="116.00" font-size="3.6" fill="#333" stroke="#333" stroke-width="0.090" text-anchor="start" font-weight="normal" font-family="Liberation Sans, sans-serif" >LiF</text>
<rect x="25.7" y="133.6" width="15.7" height="2.4" fill="#9a9a9a"/>
<text x="46.50" y="137.00" font-size="6" fill="#444" stroke="#444" stroke-width="0.150" text-anchor="start" font-weight="normal" font-family="Liberation Sans, sans-serif" >Li</text>
<rect x="61" y="133.6" width="15.5" height="2.4" fill="#b4c4f0"/>
<text x="82.00" y="137.00" font-size="6" fill="#444" stroke="#444" stroke-width="0.150" text-anchor="start" font-weight="normal" font-family="Liberation Sans, sans-serif" >Artificial SEI</text>
<rect x="117.5" y="133.4" width="17.8" height="2.6" fill="#b2d486"/>
<text x="144.00" y="137.00" font-size="6" fill="#444" stroke="#444" stroke-width="0.150" text-anchor="start" font-weight="normal" font-family="Liberation Sans, sans-serif" >Electrolyte</text>
<line x1="177.00" y1="136.50" x2="180.00" y2="133.50" stroke="#555" stroke-width="0.7" />
<text x="185.50" y="137.00" font-size="6" fill="#444" stroke="#444" stroke-width="0.150" text-anchor="start" font-weight="normal" font-family="Liberation Sans, sans-serif" >Dead lithium</text>
<circle cx="26.5" cy="143.6" r="0.9" fill="#2c48c0"/>
<text x="32.00" y="146.00" font-size="6" fill="#444" stroke="#444" stroke-width="0.150" text-anchor="start" font-weight="normal" font-family="Liberation Sans, sans-serif" >LiF</text>
<path d="M60,145 L63,142 L66,145" stroke="#888" stroke-width="0.6" fill="none"/>
<text x="75.00" y="146.00" font-size="6" fill="#444" stroke="#444" stroke-width="0.150" text-anchor="start" font-weight="normal" font-family="Liberation Sans, sans-serif" >Poly PEGDA</text>
<path d="M121,145 L124,142 L127,145" stroke="#e0c860" stroke-width="0.8" fill="none"/>
<text x="135.00" y="146.00" font-size="6" fill="#444" stroke="#444" stroke-width="0.150" text-anchor="start" font-weight="normal" font-family="Liberation Sans, sans-serif" >Lithiated poly PEGDA</text>
<defs>
<linearGradient id="gc_gray" x1="0" y1="0" x2="1" y2="1"><stop offset="0" stop-color="#5a5a5a"/><stop offset="0.5" stop-color="#8a8a8a"/><stop offset="1" stop-color="#5e5e5e"/></linearGradient>
<linearGradient id="gc_blue" x1="0" y1="0" x2="1" y2="1"><stop offset="0" stop-color="#3e64a8"/><stop offset="1" stop-color="#4a72b8"/></linearGradient>
<pattern id="gc_noise" width="3" height="3" patternUnits="userSpaceOnUse"><rect width="3" height="3" fill="#8c8c8c"/><rect x="0" y="0" width="1" height="1" fill="#b0b0b0"/><rect x="2" y="1" width="1" height="1" fill="#6a6a6a"/><rect x="1" y="2" width="1" height="1" fill="#bcbcbc"/></pattern>
</defs>
<text x="25.80" y="186.00" font-size="7.3" fill="#467c2c" stroke="#467c2c" stroke-width="0.102" text-anchor="start" font-weight="bold" font-family="Liberation Sans, sans-serif" >Li electrode</text>
<polygon points="75.50,181.93 87.12,181.93 87.12,179.75 93.50,183.50 87.12,187.25 87.12,185.07 75.50,185.07" fill="#5fb23f" />
<text x="102.50" y="186.00" font-size="7.3" fill="#467c2c" stroke="#467c2c" stroke-width="0.102" text-anchor="start" font-weight="bold" font-family="Liberation Sans, sans-serif" >SEI formation</text>
<polygon points="157.00,181.93 169.12,181.93 169.12,179.75 175.50,183.50 169.12,187.25 169.12,185.07 157.00,185.07" fill="#5fb23f" />
<text x="185.50" y="186.00" font-size="7.3" fill="#467c2c" stroke="#467c2c" stroke-width="0.102" text-anchor="start" font-weight="bold" font-family="Liberation Sans, sans-serif" >Long cycling</text>
<polygon points="14.80,252.50 67.00,252.50 67.00,256.00 14.80,256.00" fill="#3a3a3a" />
<polygon points="67.00,252.50 76.00,237.00 76.00,240.50 67.00,256.00" fill="#2a2a2a" />
<polygon points="23.80,237.00 76.00,237.00 67.00,252.50 14.80,252.50" fill="url(#gc_noise)" />
<polygon points="23.80,237.00 76.00,237.00 67.00,252.50 14.80,252.50" fill="url(#gc_gray)" opacity="0.55"/>
<text x="45.50" y="247.20" font-size="7.2" fill="#111" stroke="#111" stroke-width="0.101" text-anchor="middle" font-weight="bold" font-family="Liberation Sans, sans-serif" >Bare Li</text>
<polygon points="77.00,243.43 89.12,243.43 89.12,241.25 95.50,245.00 89.12,248.75 89.12,246.57 77.00,246.57" fill="#5fb23f" />
<polygon points="96.00,252.50 147.00,252.50 147.00,256.00 96.00,256.00" fill="#3a3a3a" />
<polygon points="147.00,252.50 156.00,237.00 156.00,240.50 147.00,256.00" fill="#2a2a2a" />
<polygon points="105.00,237.00 156.00,237.00 147.00,252.50 96.00,252.50" fill="url(#gc_blue)" />
<polygon points="132.00,237.00 156.00,237.00 147.00,252.50 123.00,252.50" fill="url(#gc_noise)" />
<polygon points="140.00,237.00 146.00,230.00 148.00,224.00 145.00,229.00 137.00,237.00" fill="#40609c" />
<path d="M145,251 L146,244 L148,240 M150,248 L151,242 L153,241" stroke="#ddd" stroke-width="1" fill="none"/>
<polygon points="159.00,244.43 169.12,244.43 169.12,242.25 175.50,246.00 169.12,249.75 169.12,247.57 159.00,247.57" fill="#5fb23f" />
<polygon points="177.00,249.50 231.00,249.50 231.00,254.50 177.00,254.50" fill="#3a3a3a" />
<polygon points="231.00,249.50 238.50,234.00 238.50,239.00 231.00,254.50" fill="#2a2a2a" />
<polygon points="184.50,234.00 238.50,234.00 231.00,249.50 177.00,249.50" fill="url(#gc_blue)" />
<path d="M186,246 L186,236 L183,232 M186,236 L189,233 M195,244 L195,228 L192,224 M195,228 L198,225 M205,246 L205,236 L201,233 M205,236 L208,232 L211,232 M214,243 L214,232 L217,229 M224,246 L224,230 L221,226 M224,230 L227,225 M231,240 L231,234" stroke="#7a7a7a" stroke-width="2.6" fill="none" stroke-linecap="round" stroke-linejoin="round"/>
<path d="M201,229 L206,226 L210,228 L206,231 Z" fill="#777"/>
<text x="175.50" y="210.00" font-size="5.4" fill="#111" stroke="#111" stroke-width="0.076" text-anchor="start" font-weight="bold" font-family="Liberation Sans, sans-serif" >Li dendrite</text>
<text x="219.50" y="211.00" font-size="5.4" fill="#111" stroke="#111" stroke-width="0.076" text-anchor="start" font-weight="bold" font-family="Liberation Sans, sans-serif" >Dead Li</text>
<line x1="188.00" y1="213.00" x2="196.00" y2="227.00" stroke="#111" stroke-width="1.2" />
<circle cx="196" cy="227" r="1.2" fill="#111"/>
<line x1="213.00" y1="214.00" x2="206.00" y2="226.00" stroke="#111" stroke-width="1.2" />
<circle cx="206" cy="226" r="1.2" fill="#111"/>
<line x1="231.00" y1="214.00" x2="231.00" y2="233.00" stroke="#111" stroke-width="1.2" />
<circle cx="231" cy="233" r="1.2" fill="#111"/>
<clipPath id="cb1"><ellipse cx="108.2" cy="214.5" rx="27.6" ry="17.6"/></clipPath>
<ellipse cx="108.2" cy="214.5" rx="27.6" ry="17.6" fill="#fff"/>
<g clip-path="url(#cb1)" stroke="#fff" stroke-width="0.9">
<path d="M80,203 Q88,199 97,201 L96,211 Q88,212 80,210 Z" fill="#8a4fc4"/>
<path d="M94,200 Q101,197.5 109,199 L108,206 Q100,207.5 94,206 Z" fill="#e8202c"/>
<path d="M109,198.5 L121.5,198.6 L121.4,207 L108.4,206.5 Z" fill="#8a4fc4"/>
<path d="M121.8,200.9 Q130,202 136,207 L136,212.2 Q128,210 121.8,209 Z" fill="#f6b22e"/>
<ellipse cx="88" cy="214.8" rx="7.5" ry="5" fill="#6c9c46"/>
<path d="M96,209 Q106,207 118.6,208 L118.6,219.5 Q106,220.5 96,219.5 Z" fill="#f6b22e"/>
<path d="M117,209 Q127,209 136,213 L136,219.5 Q126,219 117,216 Z" fill="#e8202c"/>
<path d="M118.6,216 Q126,218 134,222 L126,227.4 L119,226 Z" fill="#6c9c46"/>
<path d="M80,218 Q88,216.5 96,218 L96,232 L80,232 Z" fill="#f6b22e"/>
<path d="M96.5,221.5 Q108,220 121.4,221.5 L121.4,231 Q108,232.5 96.5,231 Z" fill="#8a4fc4"/>
</g>
<ellipse cx="108.2" cy="214.5" rx="27.6" ry="17.6" fill="none" stroke="#b070c0" stroke-width="0.9" stroke-dasharray="1 1"/>
<text x="98.00" y="204.30" font-size="3.6" fill="#f4c0c0" stroke="#f4c0c0" stroke-width="0.090" text-anchor="start" font-weight="normal" font-family="Liberation Sans, sans-serif" >LiF</text>
<text x="84.00" y="216.20" font-size="3.5" fill="#cfe0c0" stroke="#cfe0c0" stroke-width="0.088" text-anchor="start" font-weight="normal" font-family="Liberation Sans, sans-serif" >ROLi</text>
<text x="103.00" y="215.30" font-size="3.6" fill="#fde8b0" stroke="#fde8b0" stroke-width="0.090" text-anchor="start" font-weight="normal" font-family="Liberation Sans, sans-serif" >Li₂O</text>
<text x="101.30" y="228.50" font-size="4.8" fill="#fff" stroke="#fff" stroke-width="0.120" text-anchor="start" font-weight="normal" font-family="Liberation Sans, sans-serif" >COOR</text>
<path d="M125,229 L141,235 M135,223 L146,232" stroke="#b070c0" stroke-width="0.7" stroke-dasharray="1 1" fill="none"/>
<polygon points="14.80,310.50 67.00,310.50 67.00,314.00 14.80,314.00" fill="#3a3a3a" />
<polygon points="67.00,310.50 76.00,295.50 76.00,299.00 67.00,314.00" fill="#2a2a2a" />
<polygon points="23.80,295.50 76.00,295.50 67.00,310.50 14.80,310.50" fill="#4c70b4" />
<text x="44.00" y="306.00" font-size="7.6" fill="#111" stroke="#111" stroke-width="0.106" text-anchor="middle" font-weight="bold" font-family="Liberation Sans, sans-serif" >Li-PVC</text>
<polygon points="77.00,303.93 88.62,303.93 88.62,301.75 95.00,305.50 88.62,309.25 88.62,307.07 77.00,307.07" fill="#5fb23f" />
<polygon points="96.30,311.00 147.00,311.00 147.00,314.50 96.30,314.50" fill="#3a3a3a" />
<polygon points="147.00,311.00 156.00,295.00 156.00,298.50 147.00,314.50" fill="#2a2a2a" />
<polygon points="105.30,295.00 156.00,295.00 147.00,311.00 96.30,311.00" fill="url(#gc_blue)" />
<polygon points="130.00,295.00 156.00,295.00 147.00,311.00 121.00,311.00" fill="url(#gc_noise)" />
<ellipse cx="136" cy="298" rx="2" ry="1.1" fill="#e0e0e0"/>
<ellipse cx="144" cy="298" rx="2" ry="1.1" fill="#e0e0e0"/>
<ellipse cx="151" cy="298" rx="2" ry="1.1" fill="#e0e0e0"/>
<ellipse cx="133" cy="302" rx="2" ry="1.1" fill="#e0e0e0"/>
<ellipse cx="141" cy="302" rx="2" ry="1.1" fill="#e0e0e0"/>
<ellipse cx="148" cy="302" rx="2" ry="1.1" fill="#e0e0e0"/>
<ellipse cx="130" cy="306" rx="2" ry="1.1" fill="#e0e0e0"/>
<ellipse cx="138" cy="306" rx="2" ry="1.1" fill="#e0e0e0"/>
<ellipse cx="145" cy="306" rx="2" ry="1.1" fill="#e0e0e0"/>
<ellipse cx="127" cy="309" rx="2" ry="1.1" fill="#e0e0e0"/>
<ellipse cx="135" cy="309" rx="2" ry="1.1" fill="#e0e0e0"/>
<polygon points="134.00,297.50 143.00,285.00 141.00,292.00 137.00,297.50" fill="#40609c" />
<polygon points="159.00,305.93 169.12,305.93 169.12,303.75 175.50,307.50 169.12,311.25 169.12,309.07 159.00,309.07" fill="#5fb23f" />
<polygon points="177.00,309.50 231.00,309.50 231.00,314.50 177.00,314.50" fill="#3a3a3a" />
<polygon points="231.00,309.50 238.50,294.00 238.50,299.00 231.00,314.50" fill="#2a2a2a" />
<polygon points="184.50,294.00 238.50,294.00 231.00,309.50 177.00,309.50" fill="url(#gc_blue)" />
<ellipse cx="108.5" cy="274.2" rx="27.8" ry="18.4" fill="#c890c8" stroke="#b070c0" stroke-width="0.9" stroke-dasharray="1 1"/>
<rect x="99.5" y="259" width="20.5" height="5.8" rx="2.9" fill="#8a50c0" stroke="#fff" stroke-width="0.5"/>
<rect x="99.5" y="285.3" width="20.5" height="5.8" rx="2.9" fill="#8a50c0" stroke="#fff" stroke-width="0.5"/>
<text x="109.70" y="263.60" font-size="4.3" fill="#fff" stroke="#fff" stroke-width="0.107" text-anchor="middle" font-weight="normal" font-family="Liberation Sans, sans-serif" >COOR</text>
<text x="109.70" y="289.90" font-size="4.3" fill="#fff" stroke="#fff" stroke-width="0.107" text-anchor="middle" font-weight="normal" font-family="Liberation Sans, sans-serif" >COOR</text>
<polygon points="81.00,270.00 86.00,267.00 91.00,269.00 90.00,276.00 85.00,280.00 81.00,277.00" fill="#e8101c" />
<polygon points="125.00,271.00 132.00,270.00 135.50,275.00 133.00,282.00 126.00,283.00 124.00,277.00" fill="#6a86cc" />
<text x="104.00" y="276.00" font-size="4" fill="#f0d8f0" stroke="#f0d8f0" stroke-width="0.100" text-anchor="start" font-weight="normal" font-family="Liberation Sans, sans-serif" >PVC</text>
<text x="82.50" y="275.50" font-size="3.4" fill="#fff" stroke="#fff" stroke-width="0.085" text-anchor="start" font-weight="normal" font-family="Liberation Sans, sans-serif" >LiF</text>
<path d="M125,289 L139,294 M134,283 L145,291" stroke="#b070c0" stroke-width="0.7" stroke-dasharray="1 1" fill="none"/>
<defs>
<linearGradient id="ge_silver" x1="0" y1="0" x2="1" y2="0"><stop offset="0" stop-color="#c8c8d0"/><stop offset="0.15" stop-color="#e4e4ea"/><stop offset="0.35" stop-color="#fbfbfd"/><stop offset="0.5" stop-color="#c0c2d6"/><stop offset="0.62" stop-color="#a8acc8"/><stop offset="0.78" stop-color="#f4f4f8"/><stop offset="1" stop-color="#c4c4cc"/></linearGradient>
<linearGradient id="ge_col" x1="0" y1="0" x2="1" y2="0"><stop offset="0" stop-color="#dcdcdc"/><stop offset="0.5" stop-color="#f3f3f3"/><stop offset="1" stop-color="#d8d8d8"/></linearGradient>
<linearGradient id="ge_arrow" x1="0" y1="0" x2="1" y2="0"><stop offset="0" stop-color="#e6f6f8"/><stop offset="1" stop-color="#a8dde4"/></linearGradient>
</defs>
<rect x="12.8" y="354.8" width="238.5" height="46.0" rx="6" fill="none" stroke="#5bbcc6" stroke-width="1.3" stroke-dasharray="2.6 2.2"/>
<rect x="13.3" y="406.2" width="115.5" height="44.6" rx="6" fill="none" stroke="#5bbcc6" stroke-width="1.3" stroke-dasharray="2.6 2.2"/>
<rect x="136.0" y="406.2" width="115.5" height="44.6" rx="6" fill="none" stroke="#5bbcc6" stroke-width="1.3" stroke-dasharray="2.6 2.2"/>
<rect x="13.3" y="459.8" width="115.5" height="46.2" rx="6" fill="none" stroke="#5bbcc6" stroke-width="1.3" stroke-dasharray="2.6 2.2"/>
<rect x="136.0" y="459.8" width="115.5" height="46.2" rx="6" fill="none" stroke="#5bbcc6" stroke-width="1.3" stroke-dasharray="2.6 2.2"/>
<ellipse cx="39.8" cy="379" rx="23.7" ry="18.8" fill="url(#ge_silver)"/>
<path d="M20,391 A23.7,18.8 0 0 0 59,391 A23.7,15 0 0 1 20,391 Z" fill="#a8aac0" opacity="0.6"/>
<text x="68.00" y="377.00" font-size="5.4" fill="#111" stroke="#111" stroke-width="0.076" text-anchor="start" font-weight="bold" font-family="Liberation Sans, sans-serif" >Zn(CF<tspan font-size='3.2' dy='1.2'>3</tspan><tspan dy='-1.2'>SO</tspan><tspan font-size='3.2' dy='1.2'>3</tspan><tspan dy='-1.2'>)</tspan><tspan font-size='3.2' dy='1.2'>2</tspan></text>
<rect x="72" y="382.4" width="22.0" height="3.2" fill="url(#ge_arrow)" stroke="#7ccdd6" stroke-width="0.5"/>
<polygon points="93.50,381.60 96.00,384.00 93.50,386.40" fill="#8fd4dc" />
<defs><radialGradient id="ge_d2" cx="0.5" cy="0.45" r="0.6"><stop offset="0" stop-color="#f8f8fa"/><stop offset="0.8" stop-color="#eceef4"/><stop offset="1" stop-color="#d4d6e2"/></radialGradient></defs>
<path d="M110.5,379 A23.2,18.5 0 0 0 156.5,379 L156.5,381 A23.2,16 0 0 1 110.5,381 Z" fill="#b8bcd0"/>
<ellipse cx="133.5" cy="377.5" rx="23.2" ry="18.8" fill="url(#ge_d2)" stroke="#dadce6" stroke-width="0.5"/>
<circle cx="112.0" cy="374.0" r="0.9" fill="#d8e890"/>
<circle cx="115.2" cy="376.3" r="1.0" fill="#e04a6a"/>
<circle cx="118.4" cy="376.2" r="1.0" fill="#6a7a9a"/>
<circle cx="121.6" cy="378.6" r="1.0" fill="#e04a6a"/>
<circle cx="124.8" cy="378.5" r="0.9" fill="#d8e890"/>
<circle cx="121.0" cy="388.0" r="0.9" fill="#d8e890"/>
<circle cx="124.2" cy="388.2" r="1.0" fill="#e04a6a"/>
<circle cx="127.4" cy="386.1" r="1.0" fill="#6a7a9a"/>
<circle cx="130.6" cy="386.3" r="1.0" fill="#e04a6a"/>
<circle cx="133.8" cy="384.2" r="0.9" fill="#d8e890"/>
<circle cx="130.0" cy="366.0" r="0.9" fill="#d8e890"/>
<circle cx="133.2" cy="368.8" r="1.0" fill="#e04a6a"/>
<circle cx="136.4" cy="369.2" r="1.0" fill="#6a7a9a"/>
<circle cx="139.6" cy="372.0" r="1.0" fill="#e04a6a"/>
<circle cx="142.8" cy="372.4" r="0.9" fill="#d8e890"/>
<circle cx="134.0" cy="380.0" r="0.9" fill="#d8e890"/>
<circle cx="137.2" cy="380.7" r="1.0" fill="#e04a6a"/>
<circle cx="140.4" cy="379.0" r="1.0" fill="#6a7a9a"/>
<circle cx="143.6" cy="379.8" r="1.0" fill="#e04a6a"/>
<circle cx="146.8" cy="378.1" r="0.9" fill="#d8e890"/>
<circle cx="143.0" cy="372.0" r="0.9" fill="#d8e890"/>
<circle cx="146.2" cy="374.0" r="1.0" fill="#e04a6a"/>
<circle cx="149.4" cy="373.6" r="1.0" fill="#6a7a9a"/>
<circle cx="152.6" cy="375.6" r="1.0" fill="#e04a6a"/>
<circle cx="155.8" cy="375.2" r="0.9" fill="#d8e890"/>
<circle cx="123.9" cy="365.9" r="0.7" fill="#e8f0b0"/>
<circle cx="136.2" cy="375.6" r="0.7" fill="#d8e890"/>
<circle cx="141.6" cy="368.9" r="0.7" fill="#d8e890"/>
<circle cx="135.5" cy="386.2" r="0.7" fill="#d8e890"/>
<circle cx="121.1" cy="371.0" r="0.7" fill="#f0b0c0"/>
<circle cx="136.4" cy="380.6" r="0.7" fill="#e8f0b0"/>
<circle cx="129.2" cy="373.7" r="0.7" fill="#f0b0c0"/>
<circle cx="117.9" cy="379.8" r="0.7" fill="#f0b0c0"/>
<circle cx="139.6" cy="362.6" r="0.7" fill="#d8e890"/>
<circle cx="140.9" cy="388.1" r="0.7" fill="#e8f0b0"/>
<circle cx="145.7" cy="364.6" r="0.7" fill="#e8f0b0"/>
<circle cx="133.4" cy="387.1" r="0.7" fill="#d8e890"/>
<circle cx="123.1" cy="373.6" r="0.7" fill="#d8e890"/>
<circle cx="127.9" cy="386.1" r="0.7" fill="#e8f0b0"/>
<text x="166.00" y="376.00" font-size="5.2" fill="#111" stroke="#111" stroke-width="0.073" text-anchor="start" font-weight="bold" font-family="Liberation Sans, sans-serif" >pretreated</text>
<rect x="168" y="381.9" width="20.5" height="3.2" fill="url(#ge_arrow)" stroke="#7ccdd6" stroke-width="0.5"/>
<polygon points="188.00,381.10 190.50,383.50 188.00,385.90" fill="#8fd4dc" />
<clipPath id="ce3"><ellipse cx="223.5" cy="377.5" rx="24.5" ry="19.5"/></clipPath>
<path d="M199,381 A24.5,19.5 0 0 0 248,381 L248,378 A24.5,19.5 0 0 1 199,378 Z" fill="#a0a0a8"/>
<g clip-path="url(#ce3)">
<polygon points="196.00,355.00 203.34,355.00 202.90,362.69 196.61,367.29 196.00,367.30" fill="#f4b2a2" stroke="#4a3a5a" stroke-width="0.7"/>
<polygon points="203.34,355.00 210.51,355.00 212.31,360.93 206.73,363.99 202.90,362.69" fill="#b2a4e2" stroke="#4a3a5a" stroke-width="0.7"/>
<polygon points="210.51,355.00 219.33,355.00 219.99,359.82 215.48,362.65 212.31,360.93" fill="#b4e0f0" stroke="#4a3a5a" stroke-width="0.7"/>
<polygon points="219.33,355.00 228.43,355.00 227.58,361.20 225.25,361.98 219.99,359.82" fill="#f4b2a2" stroke="#4a3a5a" stroke-width="0.7"/>
<polygon points="228.43,355.00 237.24,355.00 237.31,362.02 232.29,363.54 227.58,361.20" fill="#b2a4e2" stroke="#4a3a5a" stroke-width="0.7"/>
<polygon points="237.24,355.00 252.00,355.00 252.00,361.09 240.19,363.59 237.31,362.02" fill="#b4e0f0" stroke="#4a3a5a" stroke-width="0.7"/>
<polygon points="196.61,367.29 202.90,362.69 206.73,363.99 209.70,370.68 202.93,372.77" fill="#b2a4e2" stroke="#4a3a5a" stroke-width="0.7"/>
<polygon points="209.70,370.68 206.73,363.99 212.31,360.93 215.48,362.65 215.68,368.18 210.75,371.07" fill="#b4e0f0" stroke="#4a3a5a" stroke-width="0.7"/>
<polygon points="215.68,368.18 215.48,362.65 219.99,359.82 225.25,361.98 222.49,370.56 221.04,370.91" fill="#f4b2a2" stroke="#4a3a5a" stroke-width="0.7"/>
<polygon points="222.49,370.56 225.25,361.98 227.58,361.20 232.29,363.54 231.33,371.28 228.08,373.39" fill="#b2a4e2" stroke="#4a3a5a" stroke-width="0.7"/>
<polygon points="231.33,371.28 232.29,363.54 237.31,362.02 240.19,363.59 240.11,370.54 236.35,372.96" fill="#b4e0f0" stroke="#4a3a5a" stroke-width="0.7"/>
<polygon points="252.00,361.09 252.00,376.36 249.57,376.41 240.11,370.54 240.19,363.59" fill="#f4b2a2" stroke="#4a3a5a" stroke-width="0.7"/>
<polygon points="196.00,382.20 196.00,367.30 196.61,367.29 202.93,372.77 202.88,378.20" fill="#b4e0f0" stroke="#4a3a5a" stroke-width="0.7"/>
<polygon points="202.88,378.20 202.93,372.77 209.70,370.68 210.75,371.07 212.42,378.77 207.26,380.47" fill="#f4b2a2" stroke="#4a3a5a" stroke-width="0.7"/>
<polygon points="212.42,378.77 210.75,371.07 215.68,368.18 221.04,370.91 217.48,379.86 215.90,380.57" fill="#b2a4e2" stroke="#4a3a5a" stroke-width="0.7"/>
<polygon points="217.48,379.86 221.04,370.91 222.49,370.56 228.08,373.39 228.15,376.88 222.65,381.05" fill="#b4e0f0" stroke="#4a3a5a" stroke-width="0.7"/>
<polygon points="228.15,376.88 228.08,373.39 231.33,371.28 236.35,372.96 237.32,379.30 232.80,381.91" fill="#f4b2a2" stroke="#4a3a5a" stroke-width="0.7"/>
<polygon points="241.41,380.34 237.32,379.30 236.35,372.96 240.11,370.54 249.57,376.41" fill="#b2a4e2" stroke="#4a3a5a" stroke-width="0.7"/>
<polygon points="196.00,385.91 196.00,382.20 202.88,378.20 207.26,380.47 205.92,388.36 204.89,388.64" fill="#f4b2a2" stroke="#4a3a5a" stroke-width="0.7"/>
<polygon points="205.92,388.36 207.26,380.47 212.42,378.77 215.90,380.57 215.35,387.84 210.02,390.14" fill="#b2a4e2" stroke="#4a3a5a" stroke-width="0.7"/>
<polygon points="215.35,387.84 215.90,380.57 217.48,379.86 222.65,381.05 225.90,387.05 218.12,390.00" fill="#b4e0f0" stroke="#4a3a5a" stroke-width="0.7"/>
<polygon points="225.90,387.05 222.65,381.05 228.15,376.88 232.80,381.91 231.62,387.35 229.66,388.52" fill="#f4b2a2" stroke="#4a3a5a" stroke-width="0.7"/>
<polygon points="231.62,387.35 232.80,381.91 237.32,379.30 241.41,380.34 241.27,386.55 235.85,388.99" fill="#b2a4e2" stroke="#4a3a5a" stroke-width="0.7"/>
<polygon points="252.00,376.36 252.00,393.53 241.27,386.55 241.41,380.34 249.57,376.41" fill="#b4e0f0" stroke="#4a3a5a" stroke-width="0.7"/>
<polygon points="200.70,400.00 196.00,400.00 196.00,385.91 204.89,388.64" fill="#b2a4e2" stroke="#4a3a5a" stroke-width="0.7"/>
<polygon points="210.30,400.00 200.70,400.00 204.89,388.64 205.92,388.36 210.02,390.14" fill="#b4e0f0" stroke="#4a3a5a" stroke-width="0.7"/>
<polygon points="220.59,400.00 210.30,400.00 210.02,390.14 215.35,387.84 218.12,390.00" fill="#f4b2a2" stroke="#4a3a5a" stroke-width="0.7"/>
<polygon points="227.32,400.00 220.59,400.00 218.12,390.00 225.90,387.05 229.66,388.52" fill="#b2a4e2" stroke="#4a3a5a" stroke-width="0.7"/>
<polygon points="241.47,400.00 227.32,400.00 229.66,388.52 231.62,387.35 235.85,388.99" fill="#b4e0f0" stroke="#4a3a5a" stroke-width="0.7"/>
<polygon points="252.00,393.53 252.00,400.00 241.47,400.00 235.85,388.99 241.27,386.55" fill="#f4b2a2" stroke="#4a3a5a" stroke-width="0.7"/>
</g>
<ellipse cx="223.5" cy="377.5" rx="24.5" ry="19.5" fill="none" stroke="#8a8a96" stroke-width="0.6"/>
<rect x="14.8" y="427" width="12.3" height="19" fill="url(#ge_col)"/>
<rect x="30.4" y="427" width="17.0" height="19" fill="url(#ge_col)"/>
<rect x="48.8" y="427" width="13.2" height="19" fill="url(#ge_col)" opacity="0.6"/>
<circle cx="19.0" cy="420.8" r="1.6" fill="#f4a868"/>
<circle cx="25.2" cy="422.6" r="1.6" fill="#f4a868"/>
<circle cx="26.8" cy="421.4" r="0.8" fill="#8888aa"/>
<circle cx="30.0" cy="420.6" r="1.6" fill="#f4a868"/>
<circle cx="35.6" cy="421.9" r="1.6" fill="#f4a868"/>
<circle cx="39.8" cy="421.5" r="1.6" fill="#f4a868"/>
<circle cx="41.4" cy="420.3" r="0.8" fill="#8888aa"/>
<circle cx="44.8" cy="418.3" r="1.6" fill="#f4a868"/>
<circle cx="50.4" cy="421.0" r="1.6" fill="#f4a868"/>
<circle cx="56.0" cy="421.3" r="1.6" fill="#f4a868"/>
<circle cx="57.6" cy="420.1" r="0.8" fill="#8888aa"/>
<circle cx="59.3" cy="421.8" r="1.6" fill="#f4a868"/>
<rect x="66" y="434.2" width="6.0" height="2.6" fill="url(#ge_arrow)" stroke="#7ccdd6" stroke-width="0.5"/>
<polygon points="71.50,433.40 74.00,435.50 71.50,437.60" fill="#8fd4dc" />
<rect x="79.5" y="435" width="12.0" height="11" fill="url(#ge_col)"/>
<rect x="94.7" y="435" width="16.6" height="11" fill="url(#ge_col)"/>
<rect x="112.7" y="435" width="12.9" height="11" fill="url(#ge_col)" opacity="0.6"/>
<clipPath id="cli2"><rect x="79.5" y="423.6" width="46" height="12"/></clipPath><g clip-path="url(#cli2)">
<rect x="79.5" y="423.6" width="46" height="12" fill="#9c9080"/>
<polygon points="83.26,437.34 77.38,437.34 77.38,427.26 82.15,429.31 83.66,431.39" fill="#cfc6b8" stroke="#6e645a" stroke-width="0.35"/>
<polygon points="87.48,421.60 87.87,421.60 88.67,427.71 84.20,430.61 82.69,428.52" fill="#e6e0d8" stroke="#6e645a" stroke-width="0.35"/>
<polygon points="93.35,437.41 88.89,437.41 89.84,429.11 92.75,430.09 94.31,431.24" fill="#eeeae4" stroke="#6e645a" stroke-width="0.35"/>
<polygon points="94.87,421.62 98.05,421.62 99.06,427.89 94.72,430.41 93.16,429.26" fill="#eeeae4" stroke="#6e645a" stroke-width="0.35"/>
<polygon points="106.34,437.46 100.33,437.46 100.17,429.11 103.31,429.86" fill="#cfc6b8" stroke="#6e645a" stroke-width="0.35"/>
<polygon points="105.33,421.49 110.27,421.49 109.40,427.03 109.31,427.12 104.56,428.46" fill="#cfc6b8" stroke="#6e645a" stroke-width="0.35"/>
<polygon points="114.35,437.32 108.51,437.32 109.67,427.98 109.76,427.89 114.58,431.01" fill="#d8d0c4" stroke="#6e645a" stroke-width="0.35"/>
<polygon points="114.36,421.48 119.90,421.48 119.54,427.92 116.19,429.21" fill="#d8d0c4" stroke="#6e645a" stroke-width="0.35"/>
<polygon points="127.61,432.93 127.61,437.49 118.98,437.49 121.68,430.26 124.43,430.68" fill="#e6e0d8" stroke="#6e645a" stroke-width="0.35"/>
<polygon points="125.56,421.63 127.85,421.63 127.85,432.03 124.67,429.78" fill="#eeeae4" stroke="#6e645a" stroke-width="0.35"/>
<polygon points="77.40,421.40 86.96,421.40 82.17,428.32 77.40,426.28" fill="#d8d0c4" stroke="#6e645a" stroke-width="0.35"/>
<polygon points="88.40,437.37 83.87,437.37 84.27,431.42 88.75,428.52 89.35,429.07" fill="#cfc6b8" stroke="#6e645a" stroke-width="0.35"/>
<polygon points="88.33,421.56 94.36,421.56 92.65,429.20 89.74,428.22 89.14,427.66" fill="#cfc6b8" stroke="#6e645a" stroke-width="0.35"/>
<polygon points="99.82,437.37 93.91,437.37 94.87,431.20 99.21,428.68 99.66,429.02" fill="#cfc6b8" stroke="#6e645a" stroke-width="0.35"/>
<polygon points="98.62,421.62 104.72,421.62 103.95,428.59 103.23,428.98 100.08,428.23 99.63,427.89" fill="#cfc6b8" stroke="#6e645a" stroke-width="0.35"/>
<polygon points="108.02,437.32 106.73,437.32 103.70,429.73 104.42,429.33 109.17,427.98" fill="#eeeae4" stroke="#6e645a" stroke-width="0.35"/>
<polygon points="110.80,421.60 113.91,421.60 115.74,429.33 114.75,430.25 109.92,427.13" fill="#eeeae4" stroke="#6e645a" stroke-width="0.35"/>
<polygon points="118.33,437.33 114.97,437.33 115.20,431.03 116.19,430.10 119.55,428.81 121.03,430.11" fill="#eeeae4" stroke="#6e645a" stroke-width="0.35"/>
<polygon points="120.37,421.61 125.13,421.61 124.25,429.75 121.50,429.34 120.02,428.04" fill="#eeeae4" stroke="#6e645a" stroke-width="0.35"/>
</g>
<text x="83.00" y="420.50" font-size="5.0" fill="#111" stroke="#111" stroke-width="0.070" text-anchor="start" font-weight="bold" font-family="Liberation Sans, sans-serif" >Li<tspan font-size='3.4' dy='1.2'>2</tspan><tspan dy='-1.2'>CO</tspan><tspan font-size='3.4' dy='1.2'>3</tspan><tspan dy='-1.2'> LiOH Li</tspan><tspan font-size='3.4' dy='1.2'>2</tspan><tspan dy='-1.2'>O</tspan></text>
<rect x="138" y="436.6" width="11.7" height="9.399999999999977" fill="url(#ge_col)"/>
<rect x="152.8" y="436.6" width="16.2" height="9.399999999999977" fill="url(#ge_col)"/>
<rect x="170.4" y="436.6" width="12.6" height="9.399999999999977" fill="url(#ge_col)" opacity="0.6"/>
<clipPath id="cm138423"><rect x="138" y="423.6" width="45" height="13.0"/></clipPath>
<g clip-path="url(#cm138423)">
<polygon points="135.00,420.60 138.83,420.60 140.47,430.70 135.00,435.34" fill="#f5bcae" stroke="#6a5a7a" stroke-width="0.5"/>
<polygon points="145.01,439.60 135.00,439.60 135.00,435.34 140.47,430.70 145.03,431.95" fill="#c0e6f4" stroke="#6a5a7a" stroke-width="0.5"/>
<polygon points="138.83,420.60 146.01,420.60 147.29,430.33 145.03,431.95 140.47,430.70" fill="#bcb0e8" stroke="#6a5a7a" stroke-width="0.5"/>
<polygon points="150.42,439.60 145.01,439.60 145.03,431.95 147.29,430.33 150.75,431.16" fill="#bcb0e8" stroke="#6a5a7a" stroke-width="0.5"/>
<polygon points="146.01,420.60 154.43,420.60 152.29,430.68 150.75,431.16 147.29,430.33" fill="#f5bcae" stroke="#6a5a7a" stroke-width="0.5"/>
<polygon points="156.03,439.60 150.42,439.60 150.75,431.16 152.29,430.68 156.06,432.25" fill="#c0e6f4" stroke="#6a5a7a" stroke-width="0.5"/>
<polygon points="154.43,420.60 158.14,420.60 159.74,430.27 159.73,430.28 156.06,432.25 152.29,430.68" fill="#c0e6f4" stroke="#6a5a7a" stroke-width="0.5"/>
<polygon points="163.95,439.60 156.03,439.60 156.06,432.25 159.73,430.28" fill="#bcb0e8" stroke="#6a5a7a" stroke-width="0.5"/>
<polygon points="158.14,420.60 166.60,420.60 164.88,429.78 159.74,430.27" fill="#f5bcae" stroke="#6a5a7a" stroke-width="0.5"/>
<polygon points="166.48,439.60 163.95,439.60 159.73,430.28 159.74,430.27 164.88,429.78 168.08,432.37" fill="#f5bcae" stroke="#6a5a7a" stroke-width="0.5"/>
<polygon points="166.60,420.60 171.34,420.60 169.70,431.43 168.08,432.37 164.88,429.78" fill="#c0e6f4" stroke="#6a5a7a" stroke-width="0.5"/>
<polygon points="174.99,439.60 166.48,439.60 168.08,432.37 169.70,431.43 174.91,431.98" fill="#bcb0e8" stroke="#6a5a7a" stroke-width="0.5"/>
<polygon points="171.34,420.60 174.86,420.60 176.99,430.24 174.91,431.98 169.70,431.43" fill="#bcb0e8" stroke="#6a5a7a" stroke-width="0.5"/>
<polygon points="181.14,439.60 174.99,439.60 174.91,431.98 176.99,430.24 180.89,431.35" fill="#f5bcae" stroke="#6a5a7a" stroke-width="0.5"/>
<polygon points="174.86,420.60 185.56,420.60 182.55,430.54 180.89,431.35 176.99,430.24" fill="#c0e6f4" stroke="#6a5a7a" stroke-width="0.5"/>
<polygon points="186.00,432.96 186.00,439.60 181.14,439.60 180.89,431.35 182.55,430.54 185.41,431.75" fill="#c0e6f4" stroke="#6a5a7a" stroke-width="0.5"/>
<polygon points="185.56,420.60 186.00,420.60 186.00,431.44 185.41,431.75 182.55,430.54" fill="#bcb0e8" stroke="#6a5a7a" stroke-width="0.5"/>
<polygon points="186.00,431.44 186.00,432.96 185.41,431.75" fill="#f5bcae" stroke="#6a5a7a" stroke-width="0.5"/>
</g>
<rect x="138.0" y="422.2" width="1" height="1.6" fill="#c8e060"/>
<rect x="139.5" y="421.8" width="1" height="1.6" fill="#90c030"/>
<rect x="141.0" y="422.5" width="1" height="1.6" fill="#a8d040"/>
<rect x="142.5" y="421.9" width="1" height="1.6" fill="#a8d040"/>
<rect x="144.0" y="422.3" width="1" height="1.6" fill="#c8e060"/>
<rect x="145.5" y="422.3" width="1" height="1.6" fill="#c8e060"/>
<rect x="147.0" y="422.2" width="1" height="1.6" fill="#a8d040"/>
<rect x="148.5" y="422.4" width="1" height="1.6" fill="#c8e060"/>
<rect x="150.0" y="422.1" width="1" height="1.6" fill="#90c030"/>
<rect x="151.5" y="422.4" width="1" height="1.6" fill="#a8d040"/>
<rect x="153.0" y="421.8" width="1" height="1.6" fill="#90c030"/>
<rect x="154.5" y="422.1" width="1" height="1.6" fill="#c8e060"/>
<rect x="156.0" y="422.5" width="1" height="1.6" fill="#90c030"/>
<rect x="157.5" y="421.9" width="1" height="1.6" fill="#90c030"/>
<rect x="159.0" y="422.2" width="1" height="1.6" fill="#a8d040"/>
<rect x="160.5" y="421.8" width="1" height="1.6" fill="#a8d040"/>
<rect x="162.0" y="421.8" width="1" height="1.6" fill="#90c030"/>
<rect x="163.5" y="421.9" width="1" height="1.6" fill="#90c030"/>
<rect x="165.0" y="422.2" width="1" height="1.6" fill="#c8e060"/>
<rect x="166.5" y="422.4" width="1" height="1.6" fill="#a8d040"/>
<rect x="168.0" y="421.8" width="1" height="1.6" fill="#c8e060"/>
<rect x="169.5" y="422.0" width="1" height="1.6" fill="#a8d040"/>
<rect x="171.0" y="422.0" width="1" height="1.6" fill="#c8e060"/>
<rect x="172.5" y="422.4" width="1" height="1.6" fill="#a8d040"/>
<rect x="174.0" y="421.9" width="1" height="1.6" fill="#a8d040"/>
<rect x="175.5" y="421.9" width="1" height="1.6" fill="#90c030"/>
<rect x="177.0" y="422.2" width="1" height="1.6" fill="#a8d040"/>
<rect x="178.5" y="421.6" width="1" height="1.6" fill="#90c030"/>
<rect x="180.0" y="422.1" width="1" height="1.6" fill="#90c030"/>
<rect x="181.5" y="421.8" width="1" height="1.6" fill="#c8e060"/>
<circle cx="142.9" cy="419.7" r="1.6" fill="#f4a868"/>
<circle cx="148.8" cy="419.1" r="1.6" fill="#f4a868"/>
<circle cx="150.4" cy="417.9" r="0.8" fill="#8888aa"/>
<circle cx="154.5" cy="416.3" r="1.6" fill="#f4a868"/>
<circle cx="157.9" cy="416.0" r="1.6" fill="#f4a868"/>
<circle cx="163.5" cy="415.4" r="1.6" fill="#f4a868"/>
<circle cx="165.1" cy="414.2" r="0.8" fill="#8888aa"/>
<circle cx="168.5" cy="417.8" r="1.6" fill="#f4a868"/>
<circle cx="175.5" cy="417.3" r="1.6" fill="#f4a868"/>
<circle cx="180.9" cy="419.5" r="1.6" fill="#f4a868"/>
<circle cx="182.5" cy="418.3" r="0.8" fill="#8888aa"/>
<rect x="190" y="434.2" width="6.0" height="2.6" fill="url(#ge_arrow)" stroke="#7ccdd6" stroke-width="0.5"/>
<polygon points="195.50,433.40 198.00,435.50 195.50,437.60" fill="#8fd4dc" />
<rect x="203" y="435.5" width="11.7" height="10.5" fill="url(#ge_col)"/>
<rect x="217.8" y="435.5" width="16.2" height="10.5" fill="url(#ge_col)"/>
<rect x="235.4" y="435.5" width="12.6" height="10.5" fill="url(#ge_col)" opacity="0.6"/>
<clipPath id="cm203422"><rect x="203" y="422.5" width="45" height="13.0"/></clipPath>
<g clip-path="url(#cm203422)">
<polygon points="200.00,419.50 205.25,419.50 206.14,427.06 200.00,432.17" fill="#f5bcae" stroke="#6a5a7a" stroke-width="0.5"/>
<polygon points="207.45,438.50 200.00,438.50 200.00,432.17 206.14,427.06 209.54,429.80" fill="#c0e6f4" stroke="#6a5a7a" stroke-width="0.5"/>
<polygon points="205.25,419.50 214.78,419.50 212.82,428.99 209.54,429.80 206.14,427.06" fill="#bcb0e8" stroke="#6a5a7a" stroke-width="0.5"/>
<polygon points="215.54,438.50 207.45,438.50 209.54,429.80 212.82,428.99 214.67,430.25" fill="#bcb0e8" stroke="#6a5a7a" stroke-width="0.5"/>
<polygon points="214.78,419.50 220.08,419.50 220.09,419.57 217.63,429.55 214.67,430.25 212.82,428.99" fill="#f5bcae" stroke="#6a5a7a" stroke-width="0.5"/>
<polygon points="222.13,438.50 215.54,438.50 214.67,430.25 217.63,429.55 221.52,431.46" fill="#c0e6f4" stroke="#6a5a7a" stroke-width="0.5"/>
<polygon points="223.54,428.69 221.52,431.46 217.63,429.55 220.09,419.57" fill="#c0e6f4" stroke="#6a5a7a" stroke-width="0.5"/>
<polygon points="224.68,438.50 222.13,438.50 221.52,431.46 223.54,428.69 229.45,428.83 229.48,428.89" fill="#bcb0e8" stroke="#6a5a7a" stroke-width="0.5"/>
<polygon points="220.08,419.50 231.34,419.50 229.45,428.83 223.54,428.69 220.09,419.57" fill="#f5bcae" stroke="#6a5a7a" stroke-width="0.5"/>
<polygon points="232.43,438.50 224.68,438.50 229.48,428.89 231.89,430.63" fill="#f5bcae" stroke="#6a5a7a" stroke-width="0.5"/>
<polygon points="231.34,419.50 236.12,419.50 237.25,430.26 231.89,430.63 229.48,428.89 229.45,428.83" fill="#c0e6f4" stroke="#6a5a7a" stroke-width="0.5"/>
<polygon points="240.56,438.50 232.43,438.50 231.89,430.63 237.25,430.26 238.80,431.42" fill="#bcb0e8" stroke="#6a5a7a" stroke-width="0.5"/>
<polygon points="236.12,419.50 242.35,419.50 241.63,429.00 238.80,431.42 237.25,430.26" fill="#bcb0e8" stroke="#6a5a7a" stroke-width="0.5"/>
<polygon points="244.40,438.50 240.56,438.50 238.80,431.42 241.63,429.00 247.21,429.64" fill="#f5bcae" stroke="#6a5a7a" stroke-width="0.5"/>
<polygon points="242.35,419.50 246.60,419.50 247.36,429.51 247.21,429.64 241.63,429.00" fill="#c0e6f4" stroke="#6a5a7a" stroke-width="0.5"/>
<polygon points="251.00,430.11 251.00,438.50 244.40,438.50 247.21,429.64 247.36,429.51" fill="#c0e6f4" stroke="#6a5a7a" stroke-width="0.5"/>
<polygon points="246.60,419.50 251.00,419.50 251.00,430.11 247.36,429.51" fill="#bcb0e8" stroke="#6a5a7a" stroke-width="0.5"/>
<polygon points="" fill="#f5bcae" stroke="#6a5a7a" stroke-width="0.5"/>
</g>
<rect x="203.0" y="420.8" width="1" height="1.6" fill="#c8e060"/>
<rect x="204.5" y="420.9" width="1" height="1.6" fill="#c8e060"/>
<rect x="206.0" y="421.0" width="1" height="1.6" fill="#a8d040"/>
<rect x="207.5" y="420.9" width="1" height="1.6" fill="#a8d040"/>
<rect x="209.0" y="421.4" width="1" height="1.6" fill="#a8d040"/>
<rect x="210.5" y="421.0" width="1" height="1.6" fill="#a8d040"/>
<rect x="212.0" y="421.3" width="1" height="1.6" fill="#a8d040"/>
<rect x="213.5" y="421.4" width="1" height="1.6" fill="#a8d040"/>
<rect x="215.0" y="420.6" width="1" height="1.6" fill="#90c030"/>
<rect x="216.5" y="421.4" width="1" height="1.6" fill="#90c030"/>
<rect x="218.0" y="420.6" width="1" height="1.6" fill="#c8e060"/>
<rect x="219.5" y="421.5" width="1" height="1.6" fill="#c8e060"/>
<rect x="221.0" y="421.3" width="1" height="1.6" fill="#90c030"/>
<rect x="222.5" y="420.6" width="1" height="1.6" fill="#c8e060"/>
<rect x="224.0" y="420.8" width="1" height="1.6" fill="#a8d040"/>
<rect x="225.5" y="421.0" width="1" height="1.6" fill="#90c030"/>
<rect x="227.0" y="420.9" width="1" height="1.6" fill="#c8e060"/>
<rect x="228.5" y="420.7" width="1" height="1.6" fill="#a8d040"/>
<rect x="230.0" y="420.7" width="1" height="1.6" fill="#c8e060"/>
<rect x="231.5" y="421.1" width="1" height="1.6" fill="#a8d040"/>
<rect x="233.0" y="420.9" width="1" height="1.6" fill="#a8d040"/>
<rect x="234.5" y="420.8" width="1" height="1.6" fill="#c8e060"/>
<rect x="236.0" y="420.7" width="1" height="1.6" fill="#a8d040"/>
<rect x="237.5" y="420.8" width="1" height="1.6" fill="#c8e060"/>
<rect x="239.0" y="420.8" width="1" height="1.6" fill="#a8d040"/>
<rect x="240.5" y="420.8" width="1" height="1.6" fill="#a8d040"/>
<rect x="242.0" y="420.8" width="1" height="1.6" fill="#c8e060"/>
<rect x="243.5" y="420.6" width="1" height="1.6" fill="#90c030"/>
<rect x="245.0" y="420.6" width="1" height="1.6" fill="#90c030"/>
<rect x="246.5" y="421.4" width="1" height="1.6" fill="#90c030"/>
<rect x="14.8" y="478" width="10.7" height="19" fill="url(#ge_col)"/>
<rect x="28.4" y="478" width="14.8" height="19" fill="url(#ge_col)"/>
<rect x="44.5" y="478" width="11.5" height="19" fill="url(#ge_col)" opacity="0.6"/>
<text x="63.00" y="482.00" font-size="4.8" fill="#111" stroke="#111" stroke-width="0.067" text-anchor="start" font-weight="bold" font-family="Liberation Sans, sans-serif" >plating</text>
<rect x="66" y="485.2" width="6.0" height="2.6" fill="url(#ge_arrow)" stroke="#7ccdd6" stroke-width="0.5"/>
<polygon points="71.50,484.40 74.00,486.50 71.50,488.60" fill="#8fd4dc" />
<rect x="79.5" y="474" width="12.0" height="23" fill="url(#ge_col)"/>
<rect x="94.7" y="474" width="16.6" height="23" fill="url(#ge_col)"/>
<rect x="112.7" y="474" width="12.9" height="23" fill="url(#ge_col)" opacity="0.6"/>
<polygon points="82.80,474.00 84.00,471.00 85.20,474.00" fill="#b0b4d8" />
<polygon points="93.80,474.00 95.00,470.00 96.20,474.00" fill="#b0b4d8" />
<polygon points="98.80,474.00 100.00,471.50 101.20,474.00" fill="#b0b4d8" />
<polygon points="108.80,474.00 110.00,470.50 111.20,474.00" fill="#b0b4d8" />
<polygon points="116.80,474.00 118.00,471.50 119.20,474.00" fill="#b0b4d8" />
<rect x="138" y="486" width="11.7" height="11" fill="url(#ge_col)"/>
<rect x="152.8" y="486" width="16.2" height="11" fill="url(#ge_col)"/>
<rect x="170.4" y="486" width="12.6" height="11" fill="url(#ge_col)" opacity="0.6"/>
<clipPath id="cm138475"><rect x="138" y="475.6" width="45" height="10.399999999999977"/></clipPath>
<g clip-path="url(#cm138475)">
<polygon points="135.00,472.60 143.20,472.60 140.54,479.74 135.00,482.47" fill="#f5bcae" stroke="#6a5a7a" stroke-width="0.5"/>
<polygon points="143.04,489.00 135.00,489.00 135.00,482.47 140.54,479.74 144.24,484.43" fill="#c0e6f4" stroke="#6a5a7a" stroke-width="0.5"/>
<polygon points="143.20,472.60 143.55,472.60 147.14,481.47 144.24,484.43 140.54,479.74" fill="#bcb0e8" stroke="#6a5a7a" stroke-width="0.5"/>
<polygon points="153.77,489.00 143.04,489.00 144.24,484.43 147.14,481.47 150.39,481.61" fill="#bcb0e8" stroke="#6a5a7a" stroke-width="0.5"/>
<polygon points="143.55,472.60 152.74,472.60 152.74,478.67 150.39,481.61 147.14,481.47" fill="#f5bcae" stroke="#6a5a7a" stroke-width="0.5"/>
<polygon points="157.45,489.00 153.77,489.00 150.39,481.61 152.74,478.67 157.29,481.32" fill="#c0e6f4" stroke="#6a5a7a" stroke-width="0.5"/>
<polygon points="152.74,472.60 159.93,472.60 159.78,479.08 157.29,481.32 152.74,478.67" fill="#c0e6f4" stroke="#6a5a7a" stroke-width="0.5"/>
<polygon points="162.26,489.00 157.45,489.00 157.29,481.32 159.78,479.08 162.16,480.55" fill="#bcb0e8" stroke="#6a5a7a" stroke-width="0.5"/>
<polygon points="159.93,472.60 166.50,472.60 165.86,479.62 162.16,480.55 159.78,479.08" fill="#f5bcae" stroke="#6a5a7a" stroke-width="0.5"/>
<polygon points="165.69,489.00 162.26,489.00 162.16,480.55 165.86,479.62 167.24,481.67" fill="#f5bcae" stroke="#6a5a7a" stroke-width="0.5"/>
<polygon points="166.50,472.60 171.27,472.60 172.44,480.50 167.24,481.67 165.86,479.62" fill="#c0e6f4" stroke="#6a5a7a" stroke-width="0.5"/>
<polygon points="174.37,489.00 165.69,489.00 167.24,481.67 172.44,480.50 173.43,481.41" fill="#bcb0e8" stroke="#6a5a7a" stroke-width="0.5"/>
<polygon points="171.27,472.60 179.78,472.60 179.78,472.64 176.52,480.13 173.43,481.41 172.44,480.50" fill="#bcb0e8" stroke="#6a5a7a" stroke-width="0.5"/>
<polygon points="180.25,489.00 174.37,489.00 173.43,481.41 176.52,480.13 180.43,482.44" fill="#f5bcae" stroke="#6a5a7a" stroke-width="0.5"/>
<polygon points="182.34,479.76 180.43,482.44 176.52,480.13 179.78,472.64" fill="#c0e6f4" stroke="#6a5a7a" stroke-width="0.5"/>
<polygon points="186.00,480.52 186.00,486.30 185.57,489.00 180.25,489.00 180.43,482.44 182.34,479.76" fill="#c0e6f4" stroke="#6a5a7a" stroke-width="0.5"/>
<polygon points="179.78,472.60 186.00,472.60 186.00,480.52 182.34,479.76 179.78,472.64" fill="#bcb0e8" stroke="#6a5a7a" stroke-width="0.5"/>
<polygon points="186.00,486.30 186.00,489.00 185.57,489.00" fill="#f5bcae" stroke="#6a5a7a" stroke-width="0.5"/>
</g>
<rect x="138.0" y="473.9" width="1" height="1.6" fill="#a8d040"/>
<rect x="139.5" y="473.7" width="1" height="1.6" fill="#90c030"/>
<rect x="141.0" y="474.3" width="1" height="1.6" fill="#a8d040"/>
<rect x="142.5" y="474.2" width="1" height="1.6" fill="#a8d040"/>
<rect x="144.0" y="473.6" width="1" height="1.6" fill="#90c030"/>
<rect x="145.5" y="474.3" width="1" height="1.6" fill="#c8e060"/>
<rect x="147.0" y="474.4" width="1" height="1.6" fill="#a8d040"/>
<rect x="148.5" y="474.1" width="1" height="1.6" fill="#c8e060"/>
<rect x="150.0" y="473.9" width="1" height="1.6" fill="#90c030"/>
<rect x="151.5" y="474.5" width="1" height="1.6" fill="#c8e060"/>
<rect x="153.0" y="473.7" width="1" height="1.6" fill="#c8e060"/>
<rect x="154.5" y="474.5" width="1" height="1.6" fill="#c8e060"/>
<rect x="156.0" y="473.7" width="1" height="1.6" fill="#90c030"/>
<rect x="157.5" y="473.9" width="1" height="1.6" fill="#a8d040"/>
<rect x="159.0" y="474.2" width="1" height="1.6" fill="#c8e060"/>
<rect x="160.5" y="473.6" width="1" height="1.6" fill="#90c030"/>
<rect x="162.0" y="474.0" width="1" height="1.6" fill="#90c030"/>
<rect x="163.5" y="474.5" width="1" height="1.6" fill="#c8e060"/>
<rect x="165.0" y="474.1" width="1" height="1.6" fill="#c8e060"/>
<rect x="166.5" y="474.6" width="1" height="1.6" fill="#a8d040"/>
<rect x="168.0" y="473.7" width="1" height="1.6" fill="#90c030"/>
<rect x="169.5" y="473.8" width="1" height="1.6" fill="#c8e060"/>
<rect x="171.0" y="474.4" width="1" height="1.6" fill="#c8e060"/>
<rect x="172.5" y="474.2" width="1" height="1.6" fill="#a8d040"/>
<rect x="174.0" y="473.9" width="1" height="1.6" fill="#a8d040"/>
<rect x="175.5" y="474.6" width="1" height="1.6" fill="#c8e060"/>
<rect x="177.0" y="474.0" width="1" height="1.6" fill="#a8d040"/>
<rect x="178.5" y="474.1" width="1" height="1.6" fill="#90c030"/>
<rect x="180.0" y="473.7" width="1" height="1.6" fill="#a8d040"/>
<rect x="181.5" y="474.6" width="1" height="1.6" fill="#a8d040"/>
<text x="185.60" y="482.00" font-size="4.8" fill="#111" stroke="#111" stroke-width="0.067" text-anchor="start" font-weight="bold" font-family="Liberation Sans, sans-serif" >plating</text>
<rect x="191" y="485.7" width="6.0" height="2.6" fill="url(#ge_arrow)" stroke="#7ccdd6" stroke-width="0.5"/>
<polygon points="196.50,484.90 199.00,487.00 196.50,489.10" fill="#8fd4dc" />
<rect x="203" y="482.7" width="11.7" height="14.300000000000011" fill="url(#ge_col)"/>
<rect x="217.8" y="482.7" width="16.2" height="14.300000000000011" fill="url(#ge_col)"/>
<rect x="235.4" y="482.7" width="12.6" height="14.300000000000011" fill="url(#ge_col)" opacity="0.6"/>
<clipPath id="cm203471"><rect x="203" y="471" width="45" height="11.699999999999989"/></clipPath>
<g clip-path="url(#cm203471)">
<polygon points="200.00,468.00 206.53,468.00 207.04,476.09 200.00,478.25" fill="#f5bcae" stroke="#6a5a7a" stroke-width="0.5"/>
<polygon points="209.00,485.70 200.00,485.70 200.00,478.25 207.04,476.09 209.55,477.81" fill="#c0e6f4" stroke="#6a5a7a" stroke-width="0.5"/>
<polygon points="206.53,468.00 216.03,468.00 215.97,468.48 210.30,477.52 209.55,477.81 207.04,476.09" fill="#bcb0e8" stroke="#6a5a7a" stroke-width="0.5"/>
<polygon points="216.69,485.70 209.00,485.70 209.55,477.81 210.30,477.52 215.54,478.51" fill="#bcb0e8" stroke="#6a5a7a" stroke-width="0.5"/>
<polygon points="217.59,476.63 215.54,478.51 210.30,477.52 215.97,468.48" fill="#f5bcae" stroke="#6a5a7a" stroke-width="0.5"/>
<polygon points="222.33,485.70 216.69,485.70 215.54,478.51 217.59,476.63 220.58,477.58" fill="#c0e6f4" stroke="#6a5a7a" stroke-width="0.5"/>
<polygon points="216.03,468.00 222.59,468.00 223.26,475.62 220.58,477.58 217.59,476.63 215.97,468.48" fill="#c0e6f4" stroke="#6a5a7a" stroke-width="0.5"/>
<polygon points="225.31,485.70 222.33,485.70 220.58,477.58 223.26,475.62 227.21,477.55" fill="#bcb0e8" stroke="#6a5a7a" stroke-width="0.5"/>
<polygon points="222.59,468.00 229.56,468.00 230.06,475.88 227.21,477.55 223.26,475.62" fill="#f5bcae" stroke="#6a5a7a" stroke-width="0.5"/>
<polygon points="231.50,485.70 225.31,485.70 227.21,477.55 230.06,475.88 232.98,477.49" fill="#f5bcae" stroke="#6a5a7a" stroke-width="0.5"/>
<polygon points="229.56,468.00 236.82,468.00 236.22,477.05 232.98,477.49 230.06,475.88" fill="#c0e6f4" stroke="#6a5a7a" stroke-width="0.5"/>
<polygon points="238.51,485.70 231.50,485.70 232.98,477.49 236.22,477.05 237.71,477.89" fill="#bcb0e8" stroke="#6a5a7a" stroke-width="0.5"/>
<polygon points="236.82,468.00 242.53,468.00 241.76,476.68 237.71,477.89 236.22,477.05" fill="#bcb0e8" stroke="#6a5a7a" stroke-width="0.5"/>
<polygon points="246.71,485.70 238.51,485.70 237.71,477.89 241.76,476.68 245.00,478.55" fill="#f5bcae" stroke="#6a5a7a" stroke-width="0.5"/>
<polygon points="242.53,468.00 249.05,468.00 248.02,475.54 245.00,478.55 241.76,476.68" fill="#c0e6f4" stroke="#6a5a7a" stroke-width="0.5"/>
<polygon points="251.00,477.25 251.00,481.87 249.64,485.70 246.71,485.70 245.00,478.55 248.02,475.54" fill="#c0e6f4" stroke="#6a5a7a" stroke-width="0.5"/>
<polygon points="249.05,468.00 251.00,468.00 251.00,477.25 248.02,475.54" fill="#bcb0e8" stroke="#6a5a7a" stroke-width="0.5"/>
<polygon points="251.00,481.87 251.00,485.70 249.64,485.70" fill="#f5bcae" stroke="#6a5a7a" stroke-width="0.5"/>
</g>
<rect x="203.0" y="469.0" width="1" height="1.6" fill="#a8d040"/>
<rect x="204.5" y="469.8" width="1" height="1.6" fill="#c8e060"/>
<rect x="206.0" y="469.4" width="1" height="1.6" fill="#c8e060"/>
<rect x="207.5" y="469.7" width="1" height="1.6" fill="#90c030"/>
<rect x="209.0" y="469.8" width="1" height="1.6" fill="#c8e060"/>
<rect x="210.5" y="469.8" width="1" height="1.6" fill="#90c030"/>
<rect x="212.0" y="469.1" width="1" height="1.6" fill="#90c030"/>
<rect x="213.5" y="469.1" width="1" height="1.6" fill="#90c030"/>
<rect x="215.0" y="469.9" width="1" height="1.6" fill="#a8d040"/>
<rect x="216.5" y="469.9" width="1" height="1.6" fill="#90c030"/>
<rect x="218.0" y="469.6" width="1" height="1.6" fill="#c8e060"/>
<rect x="219.5" y="469.1" width="1" height="1.6" fill="#a8d040"/>
<rect x="221.0" y="469.1" width="1" height="1.6" fill="#c8e060"/>
<rect x="222.5" y="469.2" width="1" height="1.6" fill="#90c030"/>
<rect x="224.0" y="469.0" width="1" height="1.6" fill="#a8d040"/>
<rect x="225.5" y="469.4" width="1" height="1.6" fill="#c8e060"/>
<rect x="227.0" y="469.8" width="1" height="1.6" fill="#c8e060"/>
<rect x="228.5" y="469.6" width="1" height="1.6" fill="#a8d040"/>
<rect x="230.0" y="469.0" width="1" height="1.6" fill="#90c030"/>
<rect x="231.5" y="469.6" width="1" height="1.6" fill="#90c030"/>
<rect x="233.0" y="469.6" width="1" height="1.6" fill="#90c030"/>
<rect x="234.5" y="469.5" width="1" height="1.6" fill="#a8d040"/>
<rect x="236.0" y="469.6" width="1" height="1.6" fill="#c8e060"/>
<rect x="237.5" y="469.1" width="1" height="1.6" fill="#a8d040"/>
<rect x="239.0" y="469.4" width="1" height="1.6" fill="#a8d040"/>
<rect x="240.5" y="469.3" width="1" height="1.6" fill="#c8e060"/>
<rect x="242.0" y="469.3" width="1" height="1.6" fill="#a8d040"/>
<rect x="243.5" y="469.1" width="1" height="1.6" fill="#90c030"/>
<rect x="245.0" y="470.0" width="1" height="1.6" fill="#90c030"/>
<rect x="246.5" y="469.9" width="1" height="1.6" fill="#a8d040"/>
<path d="M30,522 L34,525 L38,523 L42,526 L46,523" stroke="#999" stroke-width="0.6" fill="none"/>
<circle cx="28" cy="519" r="1.1" fill="#a8d040"/>
<circle cx="30" cy="522" r="1.1" fill="#a8d040"/>
<circle cx="34" cy="525" r="1.1" fill="#e04040"/>
<circle cx="38" cy="523" r="1.1" fill="#8888aa"/>
<circle cx="42" cy="526" r="1.1" fill="#e04040"/>
<circle cx="46" cy="523" r="1.1" fill="#e04040"/>
<circle cx="47" cy="519" r="1.1" fill="#a8d040"/>
<circle cx="45" cy="518" r="1.1" fill="#a8d040"/>
<circle cx="33" cy="528" r="1.1" fill="#d0a040"/>
<text x="63.00" y="525.00" font-size="5.0" fill="#111" stroke="#111" stroke-width="0.070" text-anchor="start" font-weight="bold" font-family="Liberation Sans, sans-serif" >Zn(CF<tspan font-size='3' dy='1.1'>3</tspan><tspan dy='-1.1'>SO</tspan><tspan font-size='3' dy='1.1'>3</tspan><tspan dy='-1.1'>)</tspan><tspan font-size='3' dy='1.1'>2</tspan></text>
<circle cx="104.5" cy="523" r="1.3" fill="#f3a464"/>
<text x="119.50" y="525.00" font-size="5.0" fill="#111" stroke="#111" stroke-width="0.070" text-anchor="start" font-weight="bold" font-family="Liberation Sans, sans-serif" >H<tspan font-size='3' dy='1.1'>2</tspan><tspan dy='-1.1'>O</tspan></text>
<circle cx="151.5" cy="523" r="1.3" fill="#f3a464"/><circle cx="154" cy="523" r="1.3" fill="#f3a464"/>
<text x="170.00" y="525.00" font-size="5.0" fill="#111" stroke="#111" stroke-width="0.070" text-anchor="start" font-weight="bold" font-family="Liberation Sans, sans-serif" >O<tspan font-size='3' dy='1.1'>2</tspan></text>
<circle cx="192" cy="524" r="1.2" fill="#f3a464"/><circle cx="194.5" cy="522" r="1" fill="#c0a090"/><circle cx="197" cy="524" r="1.2" fill="#f3a464"/>
<text x="213.50" y="525.00" font-size="5.0" fill="#111" stroke="#111" stroke-width="0.070" text-anchor="start" font-weight="bold" font-family="Liberation Sans, sans-serif" >CO<tspan font-size='3' dy='1.1'>2</tspan></text>
<defs>
<radialGradient id="gg_disk" cx="0.5" cy="0.4" r="0.6"><stop offset="0" stop-color="#8ed0f4"/><stop offset="1" stop-color="#3aa4e8"/></radialGradient>
<linearGradient id="gg_arrow" x1="0" y1="0" x2="1" y2="0"><stop offset="0" stop-color="#dce8f8"/><stop offset="1" stop-color="#9cc0ec"/></linearGradient>
<radialGradient id="gg_dish" cx="0.5" cy="0.45" r="0.55"><stop offset="0" stop-color="#dfe6f0"/><stop offset="0.75" stop-color="#c8d4e8"/><stop offset="1" stop-color="#5cb6f0"/></radialGradient>
<pattern id="gg_mesh" width="5" height="4" patternUnits="userSpaceOnUse" patternTransform="skewX(-20)"><rect width="5" height="4" fill="#3a3a3a"/><ellipse cx="2.5" cy="2" rx="1.6" ry="1.1" fill="#777"/></pattern>
<pattern id="gg_mesh2" width="5" height="4.5" patternUnits="userSpaceOnUse"><rect width="5" height="4.5" fill="#3e3e30"/><ellipse cx="2.5" cy="2.2" rx="2" ry="1.5" fill="#c4bc3c"/><ellipse cx="2.2" cy="1.8" rx="0.9" ry="0.6" fill="#e0d860"/></pattern>
</defs>
<ellipse cx="46.5" cy="579" rx="11.5" ry="9.5" fill="url(#gg_disk)"/>
<ellipse cx="46" cy="570.8" rx="9" ry="2.3" fill="none" stroke="#888" stroke-width="0.7"/>
<line x1="47.00" y1="568.50" x2="53.50" y2="552.50" stroke="#555" stroke-width="0.7" />
<circle cx="53.5" cy="552" r="0.9" fill="#2050a0"/>
<text x="17.00" y="574.00" font-size="4.0" fill="#222" stroke="#222" stroke-width="0.100" text-anchor="start" font-weight="normal" font-family="Liberation Sans, sans-serif" >PVDF-HFP</text>
<text x="17.00" y="577.80" font-size="4.0" fill="#222" stroke="#222" stroke-width="0.100" text-anchor="start" font-weight="normal" font-family="Liberation Sans, sans-serif" >PVP</text>
<text x="17.00" y="581.60" font-size="4.0" fill="#222" stroke="#222" stroke-width="0.100" text-anchor="start" font-weight="normal" font-family="Liberation Sans, sans-serif" >DMF</text>
<line x1="35.00" y1="573.00" x2="40.00" y2="574.00" stroke="#333" stroke-width="0.4" />
<text x="34.00" y="596.80" font-size="4.3" fill="#222" stroke="#222" stroke-width="0.107" text-anchor="start" font-weight="normal" font-family="Liberation Sans, sans-serif" >Spin coating</text>
<polygon points="61.00,570.00 76.00,570.00 76.00,568.30 80.00,571.60 76.00,575.00 76.00,573.20 61.00,573.20" fill="url(#gg_arrow)" />
<ellipse cx="100.4" cy="575" rx="15.6" ry="11.4" fill="#3d9ce6"/>
<ellipse cx="100.4" cy="569" rx="15.6" ry="11.3" fill="#c4d0e0" stroke="#a8b8cc" stroke-width="0.6"/>
<ellipse cx="100.4" cy="572.5" rx="14" ry="9.2" fill="#7cc4f2"/>
<ellipse cx="100.4" cy="571" rx="13" ry="8.4" fill="#d6dff0"/>
<path d="M92,566 L92,576 M95,564 L95,577 M98,565 L98,576" stroke="#b0c0e4" stroke-width="0.7"/>
<line x1="105.00" y1="565.00" x2="111.00" y2="556.00" stroke="#333" stroke-width="0.4" />
<text x="107.00" y="555.50" font-size="3.6" fill="#222" stroke="#222" stroke-width="0.090" text-anchor="start" font-weight="normal" font-family="Liberation Sans, sans-serif" >PVDF-HFP</text>
<circle cx="114" cy="582" r="0.6" fill="#222"/>
<text x="112.50" y="587.00" font-size="3.6" fill="#222" stroke="#222" stroke-width="0.090" text-anchor="start" font-weight="normal" font-family="Liberation Sans, sans-serif" >Water</text>
<text x="84.00" y="596.80" font-size="4.3" fill="#222" stroke="#222" stroke-width="0.107" text-anchor="start" font-weight="normal" font-family="Liberation Sans, sans-serif" >Phase transformation</text>
<polygon points="120.40,568.40 137.00,568.40 137.00,566.80 140.00,570.40 137.00,574.00 137.00,572.40 120.40,572.40" fill="url(#gg_arrow)" />
<text x="121.50" y="571.80" font-size="4.2" fill="#3a6cb8" stroke="#3a6cb8" stroke-width="0.105" text-anchor="start" font-weight="normal" font-family="Liberation Sans, sans-serif" >Drybowl</text>
<polygon points="149.20,563.20 182.80,565.60 179.20,581.20 142.00,574.00" fill="url(#gg_mesh)" />
<polygon points="142.00,574.00 179.20,581.20 179.20,583.00 142.00,575.80" fill="#222" />
<line x1="150.00" y1="583.00" x2="153.00" y2="579.00" stroke="#333" stroke-width="0.4" />
<text x="144.40" y="588.00" font-size="3.9" fill="#222" stroke="#222" stroke-width="0.098" text-anchor="start" font-weight="normal" font-family="Liberation Sans, sans-serif" >Separator</text>
<text x="164.80" y="597.00" font-size="4.3" fill="#222" stroke="#222" stroke-width="0.107" text-anchor="start" font-weight="normal" font-family="Liberation Sans, sans-serif" >PPF</text>
<polygon points="186.40,568.40 200.00,568.40 200.00,566.80 203.50,570.40 200.00,574.00 200.00,572.40 186.40,572.40" fill="url(#gg_arrow)" />
<text x="187.00" y="565.50" font-size="3.5" fill="#222" stroke="#222" stroke-width="0.088" text-anchor="start" font-weight="normal" font-family="Liberation Sans, sans-serif" >Vacuum</text>
<text x="187.00" y="571.60" font-size="3.5" fill="#3a6cb8" stroke="#3a6cb8" stroke-width="0.088" text-anchor="start" font-weight="normal" font-family="Liberation Sans, sans-serif" >filtration</text>
<polygon points="210.40,564.40 242.80,565.60 245.20,583.60 209.20,583.60" fill="url(#gg_mesh2)" />
<polygon points="209.20,583.60 245.20,583.60 245.20,585.00 209.20,585.00" fill="#333" />
<line x1="229.60" y1="558.00" x2="226.00" y2="564.00" stroke="#333" stroke-width="0.4" />
<text x="229.60" y="557.50" font-size="3.6" fill="#222" stroke="#222" stroke-width="0.090" text-anchor="start" font-weight="normal" font-family="Liberation Sans, sans-serif" >LiF</text>
<text x="219.00" y="597.00" font-size="4.3" fill="#222" stroke="#222" stroke-width="0.107" text-anchor="start" font-weight="normal" font-family="Liberation Sans, sans-serif" >LiF@PPF</text>
<defs>
<linearGradient id="gh_bg1" x1="0" y1="0" x2="1" y2="0"><stop offset="0" stop-color="#9a9a9a"/><stop offset="0.4" stop-color="#d0d0d0"/><stop offset="1" stop-color="#e8e8e8"/></linearGradient>
<linearGradient id="gh_v1" x1="0" y1="0" x2="0" y2="1"><stop offset="0" stop-color="#fff" stop-opacity="0.3"/><stop offset="0.6" stop-color="#fff" stop-opacity="0"/><stop offset="0.68" stop-color="#222" stop-opacity="0.9"/><stop offset="1" stop-color="#1a1a1a" stop-opacity="1"/></linearGradient>
<linearGradient id="gh_bg2" x1="0" y1="0" x2="0" y2="1"><stop offset="0" stop-color="#c8c8c8"/><stop offset="0.35" stop-color="#707070"/><stop offset="0.6" stop-color="#1a1a1a"/><stop offset="1" stop-color="#111"/></linearGradient>
</defs>
<rect x="19.5" y="614.5" width="90" height="24.2" fill="url(#gh_bg1)"/>
<rect x="19.5" y="614.5" width="90" height="24.2" fill="url(#gh_v1)"/>
<path d="M32,631 C40,618 80,616 93.5,631 Z" fill="#0c0c0c"/>
<path d="M30,631.5 L94,631.5" stroke="#4a7ab0" stroke-width="0.7" opacity="0.5"/>
<line x1="32.00" y1="631.00" x2="51.00" y2="615.50" stroke="#5080c0" stroke-width="0.7" />
<text x="96.50" y="626.00" font-size="5.5" fill="#555" stroke="#555" stroke-width="0.138" text-anchor="start" font-weight="normal" font-family="Liberation Sans, sans-serif" >35.5°</text>
<text x="22.00" y="637.00" font-size="5.5" fill="#bbb" stroke="#bbb" stroke-width="0.138" text-anchor="start" font-weight="normal" font-family="Liberation Sans, sans-serif" >Blank</text>
<text x="97.50" y="644.00" font-size="5.5" fill="#222" stroke="#222" stroke-width="0.138" text-anchor="start" font-weight="normal" font-family="Liberation Sans, sans-serif" >11.5°</text>
<rect x="19.5" y="645.5" width="90" height="12.7" fill="url(#gh_bg2)"/>
<path d="M26,652 C45,645 85,645.5 109.5,650 L109.5,653 L26,653 Z" fill="#151515"/>
<line x1="26.00" y1="652.00" x2="66.00" y2="645.50" stroke="#5080c0" stroke-width="0.7" />
<path d="M22,652.5 L109,652.5" stroke="#4a7ab0" stroke-width="0.6" opacity="0.45"/>
<text x="22.00" y="656.50" font-size="5.5" fill="#ccc" stroke="#ccc" stroke-width="0.138" text-anchor="start" font-weight="normal" font-family="Liberation Sans, sans-serif" >LiF@PPF</text>
<rect x="124.2" y="613.6" width="55.80" height="45.20" fill="none" stroke="#777" stroke-width="0.6"/>
<path d="M124.5,650 L128,649 L129,645 L129.4,624.5 L129.8,645 L131,646 L132.5,641 L133.2,619 L134,641 L135.2,638 L135.9,631 L136.6,640 L138,641 L141,641 L143,640 L144,637 L145,640 L150,643 L160,647 L170,649 L179.8,650.5" stroke="#555" stroke-width="0.6" fill="none"/>
<path d="M124.5,650.4 L128,649.5 L129,645.5 L129.4,625 L129.8,645.5 L131,646.5 L132.5,641.5 L133.2,620 L134,641.5 L135.2,638.5 L135.9,632 L136.6,641 L138,642.5 L141,643 L143,641.5 L144,638 L145,641 L150,644 L160,647.5 L163.5,648 L163.8,641 L164.1,648 L170,649.3 L172.1,649.3 L172.4,639 L172.7,649.5 L179.8,651" stroke="#e04040" stroke-width="0.6" fill="none"/>
<line x1="162.00" y1="620.00" x2="166.00" y2="620.00" stroke="#555" stroke-width="0.6" />
<text x="167.00" y="621.00" font-size="2.3" fill="#333" stroke="#333" stroke-width="0.057" text-anchor="start" font-weight="normal" font-family="Liberation Sans, sans-serif" >PVDF-HFP</text>
<line x1="162.00" y1="623.00" x2="166.00" y2="623.00" stroke="#e04040" stroke-width="0.6" />
<text x="167.00" y="624.00" font-size="2.3" fill="#333" stroke="#333" stroke-width="0.057" text-anchor="start" font-weight="normal" font-family="Liberation Sans, sans-serif" >LiF@PPF</text>
<text x="133.00" y="628.50" font-size="2" fill="#333" stroke="#333" stroke-width="0.050" text-anchor="start" font-weight="normal" font-family="Liberation Sans, sans-serif" >PVDF-HFP</text>
<text x="0" y="0" font-size="2.6" fill="#333" text-anchor="middle" font-weight="normal" font-family="Liberation Sans, sans-serif" transform="translate(120.60,636.00) rotate(-90)" dominant-baseline="central">Intensity (a.u.)</text>
<text x="124.20" y="661.50" font-size="2.4" fill="#333" stroke="#333" stroke-width="0.060" text-anchor="middle" font-weight="normal" font-family="Liberation Sans, sans-serif" >10</text>
<text x="135.36" y="661.50" font-size="2.4" fill="#333" stroke="#333" stroke-width="0.060" text-anchor="middle" font-weight="normal" font-family="Liberation Sans, sans-serif" >20</text>
<text x="146.52" y="661.50" font-size="2.4" fill="#333" stroke="#333" stroke-width="0.060" text-anchor="middle" font-weight="normal" font-family="Liberation Sans, sans-serif" >30</text>
<text x="157.68" y="661.50" font-size="2.4" fill="#333" stroke="#333" stroke-width="0.060" text-anchor="middle" font-weight="normal" font-family="Liberation Sans, sans-serif" >40</text>
<text x="168.84" y="661.50" font-size="2.4" fill="#333" stroke="#333" stroke-width="0.060" text-anchor="middle" font-weight="normal" font-family="Liberation Sans, sans-serif" >50</text>
<text x="180.00" y="661.50" font-size="2.4" fill="#333" stroke="#333" stroke-width="0.060" text-anchor="middle" font-weight="normal" font-family="Liberation Sans, sans-serif" >60</text>
<text x="152.00" y="664.50" font-size="2.8" fill="#333" stroke="#333" stroke-width="0.070" text-anchor="middle" font-weight="normal" font-family="Liberation Sans, sans-serif" >2θ (deg.)</text>
<rect x="191.3" y="613" width="55.10" height="45.80" fill="none" stroke="#777" stroke-width="0.6"/>
<path d="M203.9,614 L203.9,658 M218.5,614 L218.5,658" stroke="#888" stroke-width="0.4" stroke-dasharray="0.8 0.8"/>
<path d="M191.5,627 L197,628 L200,629 L202,629 L203,631 L203.9,637 L204.8,630 L206,627 L207,632 L208,628 L210,629 L212,630 L215,633 L218,633 L220,634 L222,637 L223.5,641 L224.5,644.5 L225.5,640 L227,634 L229,630 L232,628 L238,628 L240,631 L241,633 L242,630 L246.2,629" stroke="#555" stroke-width="0.6" fill="none"/>
<path d="M191.5,642.8 L202,643 L210,643.5 L215,645 L217,648 L218.5,650 L220,646 L222,645 L224,650 L225,652.8 L226.5,651 L228,646 L231,643 L240,643 L246.2,643.5" stroke="#e86060" stroke-width="0.6" fill="none"/>
<line x1="226.00" y1="617.00" x2="230.00" y2="617.00" stroke="#555" stroke-width="0.6" />
<text x="231.00" y="618.00" font-size="2.3" fill="#333" stroke="#333" stroke-width="0.057" text-anchor="start" font-weight="normal" font-family="Liberation Sans, sans-serif" >PVDF-HFP</text>
<line x1="226.00" y1="621.00" x2="230.00" y2="621.00" stroke="#e86060" stroke-width="0.6" />
<text x="231.00" y="622.00" font-size="2.3" fill="#333" stroke="#333" stroke-width="0.057" text-anchor="start" font-weight="normal" font-family="Liberation Sans, sans-serif" >LiF@PPF</text>
<text x="194.00" y="656.50" font-size="2.2" fill="#333" stroke="#333" stroke-width="0.055" text-anchor="start" font-weight="normal" font-family="Liberation Sans, sans-serif" >ν(C-F)</text>
<text x="219.00" y="656.50" font-size="2.2" fill="#2040e0" stroke="#2040e0" stroke-width="0.055" text-anchor="start" font-weight="normal" font-family="Liberation Sans, sans-serif" >ν(C=O)</text>
<text x="0" y="0" font-size="2.6" fill="#333" text-anchor="middle" font-weight="normal" font-family="Liberation Sans, sans-serif" transform="translate(188.00,633.00) rotate(-90)" dominant-baseline="central">Transmittance</text>
<text x="191.30" y="661.50" font-size="2.4" fill="#333" stroke="#333" stroke-width="0.060" text-anchor="middle" font-weight="normal" font-family="Liberation Sans, sans-serif" >1500</text>
<text x="209.67" y="661.50" font-size="2.4" fill="#333" stroke="#333" stroke-width="0.060" text-anchor="middle" font-weight="normal" font-family="Liberation Sans, sans-serif" >1200</text>
<text x="228.03" y="661.50" font-size="2.4" fill="#333" stroke="#333" stroke-width="0.060" text-anchor="middle" font-weight="normal" font-family="Liberation Sans, sans-serif" >900</text>
<text x="246.40" y="661.50" font-size="2.4" fill="#333" stroke="#333" stroke-width="0.060" text-anchor="middle" font-weight="normal" font-family="Liberation Sans, sans-serif" >600</text>
<text x="219.00" y="664.50" font-size="2.8" fill="#333" stroke="#333" stroke-width="0.070" text-anchor="middle" font-weight="normal" font-family="Liberation Sans, sans-serif" >Wavenumber (cm⁻¹)</text>
<defs>
<linearGradient id="gj_gray" x1="0" y1="0" x2="1" y2="0"><stop offset="0" stop-color="#b4b4b4"/><stop offset="0.45" stop-color="#d4d4d4"/><stop offset="1" stop-color="#a8a8a8"/></linearGradient>
<linearGradient id="gj_blue" x1="0" y1="0" x2="1" y2="0.3"><stop offset="0" stop-color="#9cd6d4"/><stop offset="0.6" stop-color="#cdeceb"/><stop offset="1" stop-color="#f2f8f8"/></linearGradient>
<linearGradient id="gj_blue2" x1="0" y1="0" x2="1" y2="1"><stop offset="0" stop-color="#c0eef0"/><stop offset="1" stop-color="#80cccc"/></linearGradient>
</defs>
<text x="32.80" y="712.50" font-size="6.8" fill="#333" stroke="#333" stroke-width="0.170" text-anchor="middle" font-weight="normal" font-family="Liberation Sans, sans-serif" >Bare Polished</text>
<text x="32.80" y="721.30" font-size="6.8" fill="#333" stroke="#333" stroke-width="0.170" text-anchor="middle" font-weight="normal" font-family="Liberation Sans, sans-serif" >Lithium Foil</text>
<path d="M9.5,742.6 L9.5,744.2 A20.7,8.4 0 0 0 50.9,744.2 L50.9,742.6 Z" fill="#9a9a9a"/>
<ellipse cx="30.2" cy="742.6" rx="20.7" ry="8.4" fill="url(#gj_gray)"/>
<line x1="68.00" y1="743.60" x2="93.10" y2="743.60" stroke="#222" stroke-width="0.8" />
<polygon points="92.10,742.40 94.60,743.60 92.10,744.80" fill="#222" />
<text x="131.30" y="698.30" font-size="6.8" fill="#333" stroke="#333" stroke-width="0.170" text-anchor="middle" font-weight="normal" font-family="Liberation Sans, sans-serif" >PVDF-DMF</text>
<text x="131.30" y="707.30" font-size="6.8" fill="#333" stroke="#333" stroke-width="0.170" text-anchor="middle" font-weight="normal" font-family="Liberation Sans, sans-serif" >Soaked</text>
<text x="131.30" y="716.30" font-size="6.8" fill="#333" stroke="#333" stroke-width="0.170" text-anchor="middle" font-weight="normal" font-family="Liberation Sans, sans-serif" >Sperator</text>
<line x1="115.50" y1="722.00" x2="118.50" y2="728.00" stroke="#222" stroke-width="0.7" />
<line x1="146.50" y1="722.00" x2="143.50" y2="728.00" stroke="#222" stroke-width="0.7" />
<path d="M110.0,740.5 L110.0,741.9 A21,8.3 0 0 0 152.0,741.9 L152.0,740.5 Z" fill="#a8c8cc"/>
<ellipse cx="131" cy="740.5" rx="21" ry="8.3" fill="url(#gj_blue)"/>
<path d="M171,729 C168,720 176,709 192,705.5 C195,712 190,726 171,729 Z" fill="url(#gj_blue2)" opacity="0.8"/>
<line x1="168.50" y1="743.40" x2="192.50" y2="743.40" stroke="#222" stroke-width="0.8" />
<polygon points="191.50,742.20 194.00,743.40 191.50,744.60" fill="#222" />
<text x="181.00" y="757.80" font-size="6.8" fill="#333" stroke="#333" stroke-width="0.170" text-anchor="middle" font-weight="normal" font-family="Liberation Sans, sans-serif" >Remove</text>
<text x="181.00" y="766.60" font-size="6.8" fill="#333" stroke="#333" stroke-width="0.170" text-anchor="middle" font-weight="normal" font-family="Liberation Sans, sans-serif" >Separator</text>
<text x="230.00" y="722.30" font-size="6.8" fill="#333" stroke="#333" stroke-width="0.170" text-anchor="middle" font-weight="normal" font-family="Liberation Sans, sans-serif" >Artificial LiF SEI</text>
<path d="M208.4,741.5 L208.4,743.0 A21.3,8.7 0 0 0 251.0,743.0 L251.0,741.5 Z" fill="#d8a048"/>
<ellipse cx="229.7" cy="741.5" rx="21.3" ry="8.7" fill="#f5c56a"/>
<text x="29.80" y="781.50" font-size="6.8" fill="#333" stroke="#333" stroke-width="0.170" text-anchor="middle" font-weight="normal" font-family="Liberation Sans, sans-serif" >Artificial</text>
<text x="30.40" y="790.50" font-size="6.8" fill="#333" stroke="#333" stroke-width="0.170" text-anchor="middle" font-weight="normal" font-family="Liberation Sans, sans-serif" >LiF-coated&#160;&#160;Li</text>
<path d="M9.5,808.8 L9.5,810.3 A20.7,8.3 0 0 0 50.9,810.3 L50.9,808.8 Z" fill="#d8a048"/>
<ellipse cx="30.2" cy="808.8" rx="20.7" ry="8.3" fill="#f5c56a"/>
<text x="81.80" y="801.50" font-size="6.8" fill="#333" stroke="#333" stroke-width="0.170" text-anchor="middle" font-weight="normal" font-family="Liberation Sans, sans-serif" >Li Plating</text>
<line x1="68.00" y1="809.00" x2="94.20" y2="809.00" stroke="#222" stroke-width="0.8" />
<polygon points="93.20,807.80 95.70,809.00 93.20,810.20" fill="#222" />
<text x="103.50" y="784.30" font-size="6.6" fill="#333" stroke="#333" stroke-width="0.165" text-anchor="start" font-weight="normal" font-family="Liberation Sans, sans-serif" >Li<tspan font-size='4.6' dy='-2.6'>+</tspan></text>
<line x1="113.00" y1="782.50" x2="118.00" y2="779.50" stroke="#222" stroke-width="0.7" />
<path d="M110.0,807.5 L110.0,810.0 A21,8.3 0 0 0 152.0,810.0 L152.0,807.5 Z" fill="#9a9a9a"/>
<ellipse cx="131" cy="807.5" rx="21" ry="8.3" fill="#f5c56a"/>
<rect x="122.4" y="774.4" width="3.2" height="3.2" rx="0.8" fill="#d8d8dc" stroke="#aaa" stroke-width="0.3"/>
<rect x="134.4" y="778.4" width="3.2" height="3.2" rx="0.8" fill="#d8d8dc" stroke="#aaa" stroke-width="0.3"/>
<rect x="116.4" y="790.4" width="3.2" height="3.2" rx="0.8" fill="#d8d8dc" stroke="#aaa" stroke-width="0.3"/>
<rect x="128.4" y="787.4" width="3.2" height="3.2" rx="0.8" fill="#d8d8dc" stroke="#aaa" stroke-width="0.3"/>
<rect x="139.4" y="790.4" width="3.2" height="3.2" rx="0.8" fill="#d8d8dc" stroke="#aaa" stroke-width="0.3"/>
<rect x="125.4" y="798.4" width="3.2" height="3.2" rx="0.8" fill="#d8d8dc" stroke="#aaa" stroke-width="0.3"/>
<rect x="136.4" y="808.4" width="3.2" height="3.2" rx="0.8" fill="#d8d8dc" stroke="#aaa" stroke-width="0.3"/>
<rect x="119.4" y="806.4" width="3.2" height="3.2" rx="0.8" fill="#d8d8dc" stroke="#aaa" stroke-width="0.3"/>
<line x1="168.50" y1="810.00" x2="192.50" y2="810.00" stroke="#222" stroke-width="0.8" />
<polygon points="191.50,808.80 194.00,810.00 191.50,811.20" fill="#222" />
<path d="M208.5,806 L208.5,813 A21.2,7.5 0 0 0 250.9,813 L250.9,806 Z" fill="#a0a0a0"/>
<ellipse cx="229.7" cy="805.3" rx="21.2" ry="8" fill="#f5c56a"/>
<text x="30.00" y="846.00" font-size="6.8" fill="#333" stroke="#333" stroke-width="0.170" text-anchor="middle" font-weight="normal" font-family="Liberation Sans, sans-serif" >Pristine</text>
<text x="30.00" y="854.80" font-size="6.8" fill="#333" stroke="#333" stroke-width="0.170" text-anchor="middle" font-weight="normal" font-family="Liberation Sans, sans-serif" >SEI-coating Li</text>
<path d="M9.5,875.8 L9.5,878.0 A20.7,9 0 0 0 50.9,878.0 L50.9,875.8 Z" fill="#6a6a6a"/>
<clipPath id="cj30"><ellipse cx="30.2" cy="875.8" rx="20.7" ry="9"/></clipPath>
<g clip-path="url(#cj30)">
<ellipse cx="30.2" cy="875.8" rx="20.7" ry="9" fill="#3a2a24"/>
<polygon points="7.95,865.96 14.26,865.96 15.09,871.70 8.31,874.74 7.95,874.75" fill="#f0906a" />
<polygon points="15.38,865.68 21.76,865.68 21.49,870.81 18.70,872.50 16.21,871.42" fill="#f0906a" />
<polygon points="22.76,865.66 29.00,865.66 29.00,870.88 26.25,872.60 22.50,870.79" fill="#f29a74" />
<polygon points="30.01,865.69 36.02,865.69 36.38,871.31 33.19,872.62 30.02,870.91" fill="#f0906a" />
<polygon points="37.03,865.67 44.32,865.67 43.30,870.75 39.69,872.40 37.40,871.29" fill="#f29a74" />
<polygon points="45.42,865.68 52.24,865.68 52.24,871.04 46.63,872.78 44.40,870.75" fill="#ec8a62" />
<polygon points="8.99,875.73 15.76,872.69 18.25,873.77 18.58,876.72 15.97,878.96" fill="#ec8a62" />
<polygon points="19.57,876.68 19.25,873.73 22.04,872.04 25.79,873.85 25.50,877.52 23.53,878.44" fill="#f29a74" />
<polygon points="26.48,877.58 26.76,873.91 29.52,872.20 32.69,873.91 32.51,877.53 29.40,879.01" fill="#f0906a" />
<polygon points="33.49,877.53 33.67,873.91 36.87,872.60 39.16,873.71 39.49,877.19 36.75,879.30" fill="#f29a74" />
<polygon points="40.47,877.16 40.14,873.68 43.75,872.03 45.98,874.06 46.09,877.67 44.87,878.84" fill="#ec8a62" />
<polygon points="52.45,872.30 52.45,877.86 46.95,877.64 46.84,874.03" fill="#ec8a62" />
<polygon points="15.97,885.64 8.01,885.64 8.01,876.82 8.38,876.81 15.36,880.04" fill="#ec8a62" />
<polygon points="21.35,885.82 17.13,885.82 16.52,880.23 19.13,877.99 23.09,879.75" fill="#f29a74" />
<polygon points="29.46,885.87 22.29,885.87 24.03,879.80 26.00,878.87 28.92,880.30" fill="#f0906a" />
<polygon points="36.68,885.91 30.46,885.91 29.92,880.34 33.03,878.86 36.28,880.62" fill="#f29a74" />
<polygon points="44.47,885.88 37.74,885.88 37.34,880.60 40.09,878.49 44.49,880.16" fill="#f0906a" />
<polygon points="52.28,879.17 52.28,885.84 45.54,885.84 45.56,880.12 46.78,878.95" fill="#f29a74" />
</g>
<text x="81.80" y="867.00" font-size="6.8" fill="#333" stroke="#333" stroke-width="0.170" text-anchor="middle" font-weight="normal" font-family="Liberation Sans, sans-serif" >Li Plating</text>
<line x1="68.00" y1="876.60" x2="94.20" y2="876.60" stroke="#222" stroke-width="0.8" />
<polygon points="93.20,875.40 95.70,876.60 93.20,877.80" fill="#222" />
<path d="M109.7,876.0 L109.7,878.2 A20.4,9 0 0 0 150.5,878.2 L150.5,876.0 Z" fill="#6a6a6a"/>
<clipPath id="cj130"><ellipse cx="130.1" cy="876" rx="20.4" ry="9"/></clipPath>
<g clip-path="url(#cj130)">
<ellipse cx="130.1" cy="876" rx="20.4" ry="9" fill="#3a2a24"/>
<polygon points="108.31,865.85 115.96,865.85 115.52,871.86 108.31,873.44" fill="#ec8a62" />
<polygon points="117.03,865.96 122.95,865.96 122.54,871.75 119.12,873.36 116.58,871.97" fill="#f0906a" />
<polygon points="123.94,865.96 130.57,865.96 130.19,872.42 125.54,872.99 123.53,871.75" fill="#f29a74" />
<polygon points="131.53,866.01 136.93,866.01 137.13,872.89 131.54,872.86 131.15,872.47" fill="#ec8a62" />
<polygon points="137.89,866.02 143.90,866.02 143.87,871.64 139.09,873.82 138.10,872.90" fill="#ec8a62" />
<polygon points="144.97,865.94 151.90,865.94 151.90,871.40 147.49,873.70 144.94,871.57" fill="#ec8a62" />
<polygon points="108.63,876.73 108.63,874.83 115.84,873.25 118.38,874.65 118.26,878.00 116.24,879.88" fill="#ec8a62" />
<polygon points="119.40,878.01 119.53,874.65 122.94,873.04 124.95,874.28 125.02,878.25 123.28,879.36" fill="#f0906a" />
<polygon points="125.93,878.28 125.86,874.31 130.50,873.74 130.89,874.13 131.04,878.46 129.86,879.51" fill="#f29a74" />
<polygon points="131.99,878.46 131.84,874.13 137.43,874.16 138.42,875.08 138.56,877.17 136.37,879.24" fill="#ec8a62" />
<polygon points="139.64,877.12 139.50,875.02 144.27,872.84 146.82,874.98 146.78,877.21 143.74,879.35" fill="#f0906a" />
<polygon points="152.14,872.70 152.14,879.99 147.68,877.24 147.73,875.01" fill="#ec8a62" />
<polygon points="116.16,886.18 108.33,886.18 108.33,878.07 115.94,881.22" fill="#f29a74" />
<polygon points="123.25,886.13 117.24,886.13 117.02,881.17 119.04,879.29 122.92,880.64" fill="#ec8a62" />
<polygon points="129.06,886.13 124.17,886.13 123.83,880.63 125.57,879.53 129.50,880.76" fill="#f29a74" />
<polygon points="136.59,886.13 129.97,886.13 130.40,880.76 131.59,879.71 135.97,880.50" fill="#f0906a" />
<polygon points="143.28,886.06 137.59,886.06 136.97,880.43 139.16,878.36 143.27,880.59" fill="#f0906a" />
<polygon points="151.87,881.24 151.87,886.10 144.39,886.10 144.38,880.63 147.41,878.50" fill="#ec8a62" />
</g>
<line x1="122.00" y1="872.00" x2="125.00" y2="851.00" stroke="#222" stroke-width="0.9" />
<rect x="123.4" y="848" width="3.2" height="3.2" rx="0.8" fill="#d8d8dc" stroke="#aaa" stroke-width="0.3"/>
<line x1="129.00" y1="875.00" x2="132.00" y2="850.00" stroke="#222" stroke-width="0.9" />
<rect x="130.4" y="847" width="3.2" height="3.2" rx="0.8" fill="#d8d8dc" stroke="#aaa" stroke-width="0.3"/>
<line x1="136.00" y1="872.00" x2="138.00" y2="856.00" stroke="#222" stroke-width="0.9" />
<rect x="136.4" y="853" width="3.2" height="3.2" rx="0.8" fill="#d8d8dc" stroke="#aaa" stroke-width="0.3"/>
<line x1="142.00" y1="876.00" x2="145.00" y2="862.00" stroke="#222" stroke-width="0.9" />
<rect x="143.4" y="859" width="3.2" height="3.2" rx="0.8" fill="#d8d8dc" stroke="#aaa" stroke-width="0.3"/>
<rect x="120.5" y="875.5" width="3" height="3" fill="#e0e0e4"/>
<rect x="130.5" y="877.5" width="3" height="3" fill="#e0e0e4"/>
<rect x="138.5" y="872.5" width="3" height="3" fill="#e0e0e4"/>
<rect x="125.5" y="879.5" width="3" height="3" fill="#e0e0e4"/>
<text x="128.80" y="900.30" font-size="6.8" fill="#333" stroke="#333" stroke-width="0.170" text-anchor="middle" font-weight="normal" font-family="Liberation Sans, sans-serif" >SEI Break</text>
<text x="181.00" y="859.00" font-size="6.8" fill="#333" stroke="#333" stroke-width="0.170" text-anchor="middle" font-weight="normal" font-family="Liberation Sans, sans-serif" >Dendrite</text>
<text x="181.00" y="867.80" font-size="6.8" fill="#333" stroke="#333" stroke-width="0.170" text-anchor="middle" font-weight="normal" font-family="Liberation Sans, sans-serif" >Growth</text>
<line x1="168.50" y1="876.60" x2="192.50" y2="876.60" stroke="#222" stroke-width="0.8" />
<polygon points="191.50,875.40 194.00,876.60 191.50,877.80" fill="#222" />
<ellipse cx="229" cy="878.5" rx="21.6" ry="8.3" fill="#b0b0b0"/>
<path d="M209.0,876.0 L209.0,878.2 A20,8.5 0 0 0 249.0,878.2 L249.0,876.0 Z" fill="#6a6a6a"/>
<clipPath id="cj229"><ellipse cx="229" cy="876" rx="20" ry="8.5"/></clipPath>
<g clip-path="url(#cj229)">
<ellipse cx="229" cy="876" rx="20" ry="8.5" fill="#3a2a24"/>
<polygon points="207.58,866.61 215.15,866.61 215.00,871.71 210.46,875.03 207.58,875.20" fill="#ec8a62" />
<polygon points="216.23,866.44 220.78,866.44 222.15,872.30 219.02,874.18 216.08,871.54" fill="#f29a74" />
<polygon points="221.71,866.37 228.30,866.37 228.80,871.34 225.61,873.03 223.08,872.24" fill="#f29a74" />
<polygon points="229.25,866.33 236.28,866.33 234.71,871.90 231.22,872.39 229.74,871.29" fill="#f29a74" />
<polygon points="237.22,866.38 241.91,866.38 241.45,871.24 238.36,873.59 235.64,871.95" fill="#f0906a" />
<polygon points="242.96,866.38 250.36,866.38 250.36,871.16 246.04,874.25 242.51,871.23" fill="#f0906a" />
<polygon points="211.12,876.03 215.66,872.70 218.61,875.35 218.62,877.11 215.46,878.86" fill="#ec8a62" />
<polygon points="219.52,877.16 219.51,875.39 222.64,873.52 225.16,874.31 224.92,877.87 222.20,879.22" fill="#ec8a62" />
<polygon points="225.83,877.82 226.07,874.26 229.26,872.56 230.74,873.66 231.24,878.16 229.69,879.43" fill="#ec8a62" />
<polygon points="232.11,878.14 231.61,873.65 235.10,873.16 237.82,874.79 237.83,877.10 235.76,878.66" fill="#f0906a" />
<polygon points="238.83,877.14 238.82,874.83 241.91,872.48 245.44,875.50 245.25,877.69 242.97,879.06" fill="#ec8a62" />
<polygon points="250.64,872.48 250.64,880.14 246.12,877.77 246.31,875.57" fill="#f29a74" />
<polygon points="214.19,885.39 207.54,885.39 207.54,877.19 210.42,877.02 214.76,879.85" fill="#f0906a" />
<polygon points="221.42,885.60 215.27,885.60 215.84,880.05 219.01,878.31 221.68,880.37" fill="#f0906a" />
<polygon points="228.72,885.66 222.40,885.66 222.67,880.44 225.39,879.09 229.26,880.70" fill="#f29a74" />
<polygon points="236.58,885.65 229.71,885.65 230.25,880.69 231.79,879.41 235.44,879.93" fill="#ec8a62" />
<polygon points="241.68,885.58 237.50,885.58 236.35,879.86 238.42,878.30 242.57,880.22" fill="#f29a74" />
<polygon points="250.38,881.32 250.38,885.68 242.70,885.68 243.58,880.32 245.86,878.95" fill="#ec8a62" />
</g>
<path d="M214,875 L214,870 L212,868 M214,870 L216,867" stroke="#9a9aa2" stroke-width="1.6" fill="none" stroke-linecap="round"/>
<path d="M219,871 L219,866 L217,864 M219,866 L221,863" stroke="#9a9aa2" stroke-width="1.6" fill="none" stroke-linecap="round"/>
<path d="M225,874 L225,869 L223,867 M225,869 L227,866" stroke="#9a9aa2" stroke-width="1.6" fill="none" stroke-linecap="round"/>
<path d="M231,870 L231,865 L229,863 M231,865 L233,862" stroke="#9a9aa2" stroke-width="1.6" fill="none" stroke-linecap="round"/>
<path d="M237,873 L237,868 L235,866 M237,868 L239,865" stroke="#9a9aa2" stroke-width="1.6" fill="none" stroke-linecap="round"/>
<path d="M243,876 L243,871 L241,869 M243,871 L245,868" stroke="#9a9aa2" stroke-width="1.6" fill="none" stroke-linecap="round"/>
<path d="M222,879 L222,874 L220,872 M222,874 L224,871" stroke="#9a9aa2" stroke-width="1.6" fill="none" stroke-linecap="round"/>
<path d="M234,878 L234,873 L232,871 M234,873 L236,870" stroke="#9a9aa2" stroke-width="1.6" fill="none" stroke-linecap="round"/>
</svg>
</body></html>
